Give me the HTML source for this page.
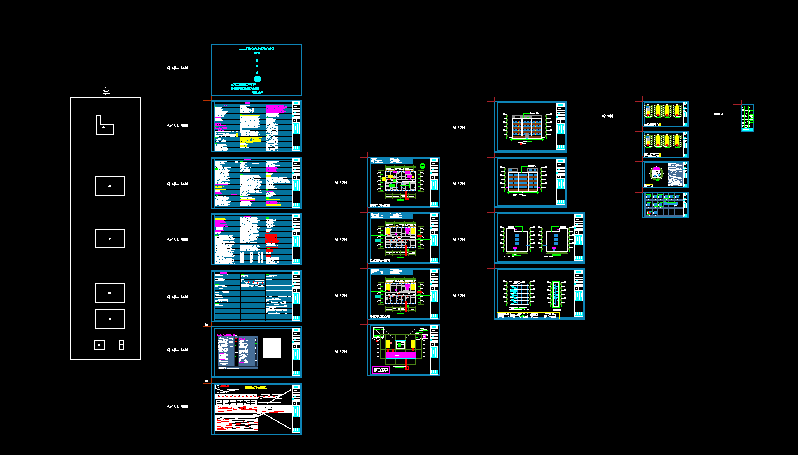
<!DOCTYPE html>
<html><head><meta charset="utf-8"><style>
html,body{margin:0;padding:0;background:#000;width:798px;height:455px;overflow:hidden}
svg{display:block}
</style></head><body>
<svg width="798" height="455" viewBox="0 0 798 455" shape-rendering="crispEdges">
<rect width="798" height="455" fill="#000"/>
<rect x="70" y="97" width="71" height="1" fill="#ffffff"/>
<rect x="70" y="359" width="71" height="1" fill="#ffffff"/>
<rect x="70" y="97" width="1" height="263" fill="#ffffff"/>
<rect x="140" y="97" width="1" height="263" fill="#ffffff"/>
<rect x="96" y="115" width="5" height="1" fill="#ffffff"/>
<rect x="96" y="115" width="1" height="20" fill="#ffffff"/>
<rect x="96" y="134" width="18" height="1" fill="#ffffff"/>
<rect x="113" y="124" width="1" height="11" fill="#ffffff"/>
<rect x="100" y="124" width="14" height="1" fill="#ffffff"/>
<rect x="100" y="115" width="1" height="10" fill="#ffffff"/>
<rect x="103" y="126" width="1" height="1" fill="#ffffff"/>
<rect x="102" y="127" width="3" height="1" fill="#ffffff"/>
<rect x="95" y="176" width="30" height="1" fill="#ffffff"/>
<rect x="95" y="195" width="30" height="1" fill="#ffffff"/>
<rect x="95" y="176" width="1" height="20" fill="#ffffff"/>
<rect x="124" y="176" width="1" height="20" fill="#ffffff"/>
<rect x="109" y="185" width="2" height="1" fill="#ffffff"/>
<rect x="108" y="186" width="3" height="1" fill="#ffffff"/>
<rect x="95" y="229" width="30" height="1" fill="#ffffff"/>
<rect x="95" y="247" width="30" height="1" fill="#ffffff"/>
<rect x="95" y="229" width="1" height="19" fill="#ffffff"/>
<rect x="124" y="229" width="1" height="19" fill="#ffffff"/>
<rect x="109" y="238" width="2" height="1" fill="#ffffff"/>
<rect x="109" y="239" width="1" height="1" fill="#ffffff"/>
<rect x="95" y="283" width="30" height="1" fill="#ffffff"/>
<rect x="95" y="302" width="30" height="1" fill="#ffffff"/>
<rect x="95" y="283" width="1" height="20" fill="#ffffff"/>
<rect x="124" y="283" width="1" height="20" fill="#ffffff"/>
<rect x="108" y="292" width="3" height="2" fill="#ffffff"/>
<rect x="95" y="309" width="30" height="1" fill="#ffffff"/>
<rect x="95" y="328" width="30" height="1" fill="#ffffff"/>
<rect x="95" y="309" width="1" height="20" fill="#ffffff"/>
<rect x="124" y="309" width="1" height="20" fill="#ffffff"/>
<rect x="109" y="318" width="2" height="2" fill="#ffffff"/>
<rect x="94" y="340" width="11" height="1" fill="#ffffff"/>
<rect x="94" y="349" width="11" height="1" fill="#ffffff"/>
<rect x="94" y="340" width="1" height="10" fill="#ffffff"/>
<rect x="104" y="340" width="1" height="10" fill="#ffffff"/>
<rect x="98" y="344" width="2" height="2" fill="#ffffff"/>
<rect x="119" y="340" width="5" height="1" fill="#ffffff"/>
<rect x="119" y="349" width="5" height="1" fill="#ffffff"/>
<rect x="119" y="340" width="1" height="10" fill="#ffffff"/>
<rect x="123" y="340" width="1" height="10" fill="#ffffff"/>
<rect x="119" y="344" width="5" height="1" fill="#ffffff"/>
<rect x="105" y="87" width="1" height="1" fill="#ffffff"/>
<rect x="103" y="90" width="2" height="1" fill="#ffffff"/>
<rect x="108" y="90" width="1" height="1" fill="#ffffff"/>
<rect x="104" y="91" width="4" height="1" fill="#ffffff"/>
<rect x="103" y="93" width="7" height="1" fill="#ffffff"/>
<rect x="105" y="94" width="1" height="1" fill="#ffffff"/>
<rect x="168" y="66" width="1" height="1" fill="#ffffff"/>
<rect x="169" y="66" width="1" height="1" fill="#ffffff"/>
<rect x="174" y="66" width="1" height="1" fill="#ffffff"/>
<rect x="175" y="66" width="1" height="1" fill="#ffffff"/>
<rect x="181" y="66" width="1" height="1" fill="#ffffff"/>
<rect x="185" y="66" width="1" height="1" fill="#ffffff"/>
<rect x="187" y="66" width="1" height="1" fill="#ffffff"/>
<rect x="167" y="67" width="1" height="1" fill="#ffffff"/>
<rect x="169" y="67" width="1" height="1" fill="#ffffff"/>
<rect x="172" y="67" width="1" height="1" fill="#ffffff"/>
<rect x="174" y="67" width="1" height="1" fill="#ffffff"/>
<rect x="175" y="67" width="1" height="1" fill="#ffffff"/>
<rect x="181" y="67" width="1" height="1" fill="#ffffff"/>
<rect x="183" y="67" width="1" height="1" fill="#ffffff"/>
<rect x="185" y="67" width="1" height="1" fill="#ffffff"/>
<rect x="186" y="67" width="1" height="1" fill="#ffffff"/>
<rect x="187" y="67" width="1" height="1" fill="#ffffff"/>
<rect x="167" y="68" width="1" height="1" fill="#ffffff"/>
<rect x="168" y="68" width="1" height="1" fill="#ffffff"/>
<rect x="169" y="68" width="1" height="1" fill="#ffffff"/>
<rect x="172" y="68" width="1" height="1" fill="#ffffff"/>
<rect x="173" y="68" width="1" height="1" fill="#ffffff"/>
<rect x="174" y="68" width="1" height="1" fill="#ffffff"/>
<rect x="175" y="68" width="1" height="1" fill="#ffffff"/>
<rect x="176" y="68" width="1" height="1" fill="#ffffff"/>
<rect x="177" y="68" width="1" height="1" fill="#ffffff"/>
<rect x="178" y="68" width="1" height="1" fill="#ffffff"/>
<rect x="181" y="68" width="1" height="1" fill="#ffffff"/>
<rect x="182" y="68" width="1" height="1" fill="#ffffff"/>
<rect x="183" y="68" width="1" height="1" fill="#ffffff"/>
<rect x="184" y="68" width="1" height="1" fill="#ffffff"/>
<rect x="185" y="68" width="1" height="1" fill="#ffffff"/>
<rect x="186" y="68" width="1" height="1" fill="#ffffff"/>
<rect x="187" y="68" width="1" height="1" fill="#ffffff"/>
<rect x="169" y="69" width="1" height="1" fill="#ffffff"/>
<rect x="174" y="69" width="1" height="1" fill="#ffffff"/>
<rect x="168" y="124" width="1" height="1" fill="#ffffff"/>
<rect x="172" y="124" width="1" height="1" fill="#ffffff"/>
<rect x="174" y="124" width="1" height="1" fill="#ffffff"/>
<rect x="177" y="124" width="1" height="1" fill="#ffffff"/>
<rect x="181" y="124" width="1" height="1" fill="#ffffff"/>
<rect x="182" y="124" width="1" height="1" fill="#ffffff"/>
<rect x="183" y="124" width="1" height="1" fill="#ffffff"/>
<rect x="184" y="124" width="1" height="1" fill="#ffffff"/>
<rect x="185" y="124" width="1" height="1" fill="#ffffff"/>
<rect x="186" y="124" width="1" height="1" fill="#ffffff"/>
<rect x="187" y="124" width="1" height="1" fill="#ffffff"/>
<rect x="167" y="125" width="1" height="1" fill="#ffffff"/>
<rect x="168" y="125" width="1" height="1" fill="#ffffff"/>
<rect x="170" y="125" width="1" height="1" fill="#ffffff"/>
<rect x="171" y="125" width="1" height="1" fill="#ffffff"/>
<rect x="174" y="125" width="1" height="1" fill="#ffffff"/>
<rect x="177" y="125" width="1" height="1" fill="#ffffff"/>
<rect x="181" y="125" width="1" height="1" fill="#ffffff"/>
<rect x="182" y="125" width="1" height="1" fill="#ffffff"/>
<rect x="183" y="125" width="1" height="1" fill="#ffffff"/>
<rect x="184" y="125" width="1" height="1" fill="#ffffff"/>
<rect x="185" y="125" width="1" height="1" fill="#ffffff"/>
<rect x="186" y="125" width="1" height="1" fill="#ffffff"/>
<rect x="187" y="125" width="1" height="1" fill="#ffffff"/>
<rect x="169" y="126" width="1" height="1" fill="#ffffff"/>
<rect x="170" y="126" width="1" height="1" fill="#ffffff"/>
<rect x="175" y="126" width="1" height="1" fill="#ffffff"/>
<rect x="177" y="126" width="1" height="1" fill="#ffffff"/>
<rect x="178" y="126" width="1" height="1" fill="#ffffff"/>
<rect x="182" y="126" width="1" height="1" fill="#ffffff"/>
<rect x="183" y="126" width="1" height="1" fill="#ffffff"/>
<rect x="184" y="126" width="1" height="1" fill="#ffffff"/>
<rect x="185" y="126" width="1" height="1" fill="#ffffff"/>
<rect x="186" y="126" width="1" height="1" fill="#ffffff"/>
<rect x="187" y="126" width="1" height="1" fill="#ffffff"/>
<rect x="168" y="182" width="1" height="1" fill="#ffffff"/>
<rect x="169" y="182" width="1" height="1" fill="#ffffff"/>
<rect x="174" y="182" width="1" height="1" fill="#ffffff"/>
<rect x="175" y="182" width="1" height="1" fill="#ffffff"/>
<rect x="181" y="182" width="1" height="1" fill="#ffffff"/>
<rect x="185" y="182" width="1" height="1" fill="#ffffff"/>
<rect x="187" y="182" width="1" height="1" fill="#ffffff"/>
<rect x="167" y="183" width="1" height="1" fill="#ffffff"/>
<rect x="169" y="183" width="1" height="1" fill="#ffffff"/>
<rect x="172" y="183" width="1" height="1" fill="#ffffff"/>
<rect x="174" y="183" width="1" height="1" fill="#ffffff"/>
<rect x="175" y="183" width="1" height="1" fill="#ffffff"/>
<rect x="181" y="183" width="1" height="1" fill="#ffffff"/>
<rect x="183" y="183" width="1" height="1" fill="#ffffff"/>
<rect x="185" y="183" width="1" height="1" fill="#ffffff"/>
<rect x="186" y="183" width="1" height="1" fill="#ffffff"/>
<rect x="187" y="183" width="1" height="1" fill="#ffffff"/>
<rect x="167" y="184" width="1" height="1" fill="#ffffff"/>
<rect x="168" y="184" width="1" height="1" fill="#ffffff"/>
<rect x="169" y="184" width="1" height="1" fill="#ffffff"/>
<rect x="172" y="184" width="1" height="1" fill="#ffffff"/>
<rect x="173" y="184" width="1" height="1" fill="#ffffff"/>
<rect x="174" y="184" width="1" height="1" fill="#ffffff"/>
<rect x="175" y="184" width="1" height="1" fill="#ffffff"/>
<rect x="176" y="184" width="1" height="1" fill="#ffffff"/>
<rect x="177" y="184" width="1" height="1" fill="#ffffff"/>
<rect x="178" y="184" width="1" height="1" fill="#ffffff"/>
<rect x="181" y="184" width="1" height="1" fill="#ffffff"/>
<rect x="182" y="184" width="1" height="1" fill="#ffffff"/>
<rect x="183" y="184" width="1" height="1" fill="#ffffff"/>
<rect x="184" y="184" width="1" height="1" fill="#ffffff"/>
<rect x="185" y="184" width="1" height="1" fill="#ffffff"/>
<rect x="186" y="184" width="1" height="1" fill="#ffffff"/>
<rect x="187" y="184" width="1" height="1" fill="#ffffff"/>
<rect x="169" y="185" width="1" height="1" fill="#ffffff"/>
<rect x="174" y="185" width="1" height="1" fill="#ffffff"/>
<rect x="168" y="238" width="1" height="1" fill="#ffffff"/>
<rect x="172" y="238" width="1" height="1" fill="#ffffff"/>
<rect x="174" y="238" width="1" height="1" fill="#ffffff"/>
<rect x="177" y="238" width="1" height="1" fill="#ffffff"/>
<rect x="181" y="238" width="1" height="1" fill="#ffffff"/>
<rect x="182" y="238" width="1" height="1" fill="#ffffff"/>
<rect x="183" y="238" width="1" height="1" fill="#ffffff"/>
<rect x="184" y="238" width="1" height="1" fill="#ffffff"/>
<rect x="185" y="238" width="1" height="1" fill="#ffffff"/>
<rect x="186" y="238" width="1" height="1" fill="#ffffff"/>
<rect x="187" y="238" width="1" height="1" fill="#ffffff"/>
<rect x="167" y="239" width="1" height="1" fill="#ffffff"/>
<rect x="168" y="239" width="1" height="1" fill="#ffffff"/>
<rect x="170" y="239" width="1" height="1" fill="#ffffff"/>
<rect x="171" y="239" width="1" height="1" fill="#ffffff"/>
<rect x="174" y="239" width="1" height="1" fill="#ffffff"/>
<rect x="177" y="239" width="1" height="1" fill="#ffffff"/>
<rect x="181" y="239" width="1" height="1" fill="#ffffff"/>
<rect x="182" y="239" width="1" height="1" fill="#ffffff"/>
<rect x="183" y="239" width="1" height="1" fill="#ffffff"/>
<rect x="184" y="239" width="1" height="1" fill="#ffffff"/>
<rect x="185" y="239" width="1" height="1" fill="#ffffff"/>
<rect x="186" y="239" width="1" height="1" fill="#ffffff"/>
<rect x="187" y="239" width="1" height="1" fill="#ffffff"/>
<rect x="169" y="240" width="1" height="1" fill="#ffffff"/>
<rect x="170" y="240" width="1" height="1" fill="#ffffff"/>
<rect x="175" y="240" width="1" height="1" fill="#ffffff"/>
<rect x="177" y="240" width="1" height="1" fill="#ffffff"/>
<rect x="178" y="240" width="1" height="1" fill="#ffffff"/>
<rect x="182" y="240" width="1" height="1" fill="#ffffff"/>
<rect x="183" y="240" width="1" height="1" fill="#ffffff"/>
<rect x="184" y="240" width="1" height="1" fill="#ffffff"/>
<rect x="185" y="240" width="1" height="1" fill="#ffffff"/>
<rect x="186" y="240" width="1" height="1" fill="#ffffff"/>
<rect x="187" y="240" width="1" height="1" fill="#ffffff"/>
<rect x="168" y="295" width="1" height="1" fill="#ffffff"/>
<rect x="169" y="295" width="1" height="1" fill="#ffffff"/>
<rect x="174" y="295" width="1" height="1" fill="#ffffff"/>
<rect x="175" y="295" width="1" height="1" fill="#ffffff"/>
<rect x="181" y="295" width="1" height="1" fill="#ffffff"/>
<rect x="185" y="295" width="1" height="1" fill="#ffffff"/>
<rect x="187" y="295" width="1" height="1" fill="#ffffff"/>
<rect x="167" y="296" width="1" height="1" fill="#ffffff"/>
<rect x="169" y="296" width="1" height="1" fill="#ffffff"/>
<rect x="172" y="296" width="1" height="1" fill="#ffffff"/>
<rect x="174" y="296" width="1" height="1" fill="#ffffff"/>
<rect x="175" y="296" width="1" height="1" fill="#ffffff"/>
<rect x="181" y="296" width="1" height="1" fill="#ffffff"/>
<rect x="183" y="296" width="1" height="1" fill="#ffffff"/>
<rect x="185" y="296" width="1" height="1" fill="#ffffff"/>
<rect x="186" y="296" width="1" height="1" fill="#ffffff"/>
<rect x="187" y="296" width="1" height="1" fill="#ffffff"/>
<rect x="167" y="297" width="1" height="1" fill="#ffffff"/>
<rect x="168" y="297" width="1" height="1" fill="#ffffff"/>
<rect x="169" y="297" width="1" height="1" fill="#ffffff"/>
<rect x="172" y="297" width="1" height="1" fill="#ffffff"/>
<rect x="173" y="297" width="1" height="1" fill="#ffffff"/>
<rect x="174" y="297" width="1" height="1" fill="#ffffff"/>
<rect x="175" y="297" width="1" height="1" fill="#ffffff"/>
<rect x="176" y="297" width="1" height="1" fill="#ffffff"/>
<rect x="177" y="297" width="1" height="1" fill="#ffffff"/>
<rect x="178" y="297" width="1" height="1" fill="#ffffff"/>
<rect x="181" y="297" width="1" height="1" fill="#ffffff"/>
<rect x="182" y="297" width="1" height="1" fill="#ffffff"/>
<rect x="183" y="297" width="1" height="1" fill="#ffffff"/>
<rect x="184" y="297" width="1" height="1" fill="#ffffff"/>
<rect x="185" y="297" width="1" height="1" fill="#ffffff"/>
<rect x="186" y="297" width="1" height="1" fill="#ffffff"/>
<rect x="187" y="297" width="1" height="1" fill="#ffffff"/>
<rect x="169" y="298" width="1" height="1" fill="#ffffff"/>
<rect x="174" y="298" width="1" height="1" fill="#ffffff"/>
<rect x="168" y="348" width="1" height="1" fill="#ffffff"/>
<rect x="169" y="348" width="1" height="1" fill="#ffffff"/>
<rect x="174" y="348" width="1" height="1" fill="#ffffff"/>
<rect x="175" y="348" width="1" height="1" fill="#ffffff"/>
<rect x="181" y="348" width="1" height="1" fill="#ffffff"/>
<rect x="185" y="348" width="1" height="1" fill="#ffffff"/>
<rect x="187" y="348" width="1" height="1" fill="#ffffff"/>
<rect x="167" y="349" width="1" height="1" fill="#ffffff"/>
<rect x="169" y="349" width="1" height="1" fill="#ffffff"/>
<rect x="172" y="349" width="1" height="1" fill="#ffffff"/>
<rect x="174" y="349" width="1" height="1" fill="#ffffff"/>
<rect x="175" y="349" width="1" height="1" fill="#ffffff"/>
<rect x="181" y="349" width="1" height="1" fill="#ffffff"/>
<rect x="183" y="349" width="1" height="1" fill="#ffffff"/>
<rect x="185" y="349" width="1" height="1" fill="#ffffff"/>
<rect x="186" y="349" width="1" height="1" fill="#ffffff"/>
<rect x="187" y="349" width="1" height="1" fill="#ffffff"/>
<rect x="167" y="350" width="1" height="1" fill="#ffffff"/>
<rect x="168" y="350" width="1" height="1" fill="#ffffff"/>
<rect x="169" y="350" width="1" height="1" fill="#ffffff"/>
<rect x="172" y="350" width="1" height="1" fill="#ffffff"/>
<rect x="173" y="350" width="1" height="1" fill="#ffffff"/>
<rect x="174" y="350" width="1" height="1" fill="#ffffff"/>
<rect x="175" y="350" width="1" height="1" fill="#ffffff"/>
<rect x="176" y="350" width="1" height="1" fill="#ffffff"/>
<rect x="177" y="350" width="1" height="1" fill="#ffffff"/>
<rect x="178" y="350" width="1" height="1" fill="#ffffff"/>
<rect x="181" y="350" width="1" height="1" fill="#ffffff"/>
<rect x="182" y="350" width="1" height="1" fill="#ffffff"/>
<rect x="183" y="350" width="1" height="1" fill="#ffffff"/>
<rect x="184" y="350" width="1" height="1" fill="#ffffff"/>
<rect x="185" y="350" width="1" height="1" fill="#ffffff"/>
<rect x="186" y="350" width="1" height="1" fill="#ffffff"/>
<rect x="187" y="350" width="1" height="1" fill="#ffffff"/>
<rect x="169" y="351" width="1" height="1" fill="#ffffff"/>
<rect x="174" y="351" width="1" height="1" fill="#ffffff"/>
<rect x="168" y="405" width="1" height="1" fill="#ffffff"/>
<rect x="172" y="405" width="1" height="1" fill="#ffffff"/>
<rect x="174" y="405" width="1" height="1" fill="#ffffff"/>
<rect x="177" y="405" width="1" height="1" fill="#ffffff"/>
<rect x="181" y="405" width="1" height="1" fill="#ffffff"/>
<rect x="182" y="405" width="1" height="1" fill="#ffffff"/>
<rect x="183" y="405" width="1" height="1" fill="#ffffff"/>
<rect x="184" y="405" width="1" height="1" fill="#ffffff"/>
<rect x="185" y="405" width="1" height="1" fill="#ffffff"/>
<rect x="186" y="405" width="1" height="1" fill="#ffffff"/>
<rect x="187" y="405" width="1" height="1" fill="#ffffff"/>
<rect x="167" y="406" width="1" height="1" fill="#ffffff"/>
<rect x="168" y="406" width="1" height="1" fill="#ffffff"/>
<rect x="170" y="406" width="1" height="1" fill="#ffffff"/>
<rect x="171" y="406" width="1" height="1" fill="#ffffff"/>
<rect x="174" y="406" width="1" height="1" fill="#ffffff"/>
<rect x="177" y="406" width="1" height="1" fill="#ffffff"/>
<rect x="181" y="406" width="1" height="1" fill="#ffffff"/>
<rect x="182" y="406" width="1" height="1" fill="#ffffff"/>
<rect x="183" y="406" width="1" height="1" fill="#ffffff"/>
<rect x="184" y="406" width="1" height="1" fill="#ffffff"/>
<rect x="185" y="406" width="1" height="1" fill="#ffffff"/>
<rect x="186" y="406" width="1" height="1" fill="#ffffff"/>
<rect x="187" y="406" width="1" height="1" fill="#ffffff"/>
<rect x="169" y="407" width="1" height="1" fill="#ffffff"/>
<rect x="170" y="407" width="1" height="1" fill="#ffffff"/>
<rect x="175" y="407" width="1" height="1" fill="#ffffff"/>
<rect x="177" y="407" width="1" height="1" fill="#ffffff"/>
<rect x="178" y="407" width="1" height="1" fill="#ffffff"/>
<rect x="182" y="407" width="1" height="1" fill="#ffffff"/>
<rect x="183" y="407" width="1" height="1" fill="#ffffff"/>
<rect x="184" y="407" width="1" height="1" fill="#ffffff"/>
<rect x="185" y="407" width="1" height="1" fill="#ffffff"/>
<rect x="186" y="407" width="1" height="1" fill="#ffffff"/>
<rect x="187" y="407" width="1" height="1" fill="#ffffff"/>
<rect x="335" y="181" width="1" height="1" fill="#ffffff"/>
<rect x="337" y="181" width="1" height="1" fill="#ffffff"/>
<rect x="340" y="181" width="1" height="1" fill="#ffffff"/>
<rect x="342" y="181" width="1" height="1" fill="#ffffff"/>
<rect x="343" y="181" width="1" height="1" fill="#ffffff"/>
<rect x="344" y="181" width="1" height="1" fill="#ffffff"/>
<rect x="346" y="181" width="1" height="1" fill="#ffffff"/>
<rect x="335" y="182" width="1" height="1" fill="#ffffff"/>
<rect x="336" y="182" width="1" height="1" fill="#ffffff"/>
<rect x="337" y="182" width="1" height="1" fill="#ffffff"/>
<rect x="340" y="182" width="1" height="1" fill="#ffffff"/>
<rect x="343" y="182" width="1" height="1" fill="#ffffff"/>
<rect x="344" y="182" width="1" height="1" fill="#ffffff"/>
<rect x="345" y="182" width="1" height="1" fill="#ffffff"/>
<rect x="346" y="182" width="1" height="1" fill="#ffffff"/>
<rect x="336" y="183" width="1" height="1" fill="#ffffff"/>
<rect x="337" y="183" width="1" height="1" fill="#ffffff"/>
<rect x="342" y="183" width="1" height="1" fill="#ffffff"/>
<rect x="344" y="183" width="1" height="1" fill="#ffffff"/>
<rect x="346" y="183" width="1" height="1" fill="#ffffff"/>
<rect x="335" y="238" width="1" height="1" fill="#ffffff"/>
<rect x="337" y="238" width="1" height="1" fill="#ffffff"/>
<rect x="340" y="238" width="1" height="1" fill="#ffffff"/>
<rect x="342" y="238" width="1" height="1" fill="#ffffff"/>
<rect x="343" y="238" width="1" height="1" fill="#ffffff"/>
<rect x="344" y="238" width="1" height="1" fill="#ffffff"/>
<rect x="346" y="238" width="1" height="1" fill="#ffffff"/>
<rect x="335" y="239" width="1" height="1" fill="#ffffff"/>
<rect x="336" y="239" width="1" height="1" fill="#ffffff"/>
<rect x="337" y="239" width="1" height="1" fill="#ffffff"/>
<rect x="340" y="239" width="1" height="1" fill="#ffffff"/>
<rect x="343" y="239" width="1" height="1" fill="#ffffff"/>
<rect x="344" y="239" width="1" height="1" fill="#ffffff"/>
<rect x="345" y="239" width="1" height="1" fill="#ffffff"/>
<rect x="346" y="239" width="1" height="1" fill="#ffffff"/>
<rect x="336" y="240" width="1" height="1" fill="#ffffff"/>
<rect x="337" y="240" width="1" height="1" fill="#ffffff"/>
<rect x="342" y="240" width="1" height="1" fill="#ffffff"/>
<rect x="344" y="240" width="1" height="1" fill="#ffffff"/>
<rect x="346" y="240" width="1" height="1" fill="#ffffff"/>
<rect x="335" y="294" width="1" height="1" fill="#ffffff"/>
<rect x="337" y="294" width="1" height="1" fill="#ffffff"/>
<rect x="340" y="294" width="1" height="1" fill="#ffffff"/>
<rect x="342" y="294" width="1" height="1" fill="#ffffff"/>
<rect x="343" y="294" width="1" height="1" fill="#ffffff"/>
<rect x="344" y="294" width="1" height="1" fill="#ffffff"/>
<rect x="346" y="294" width="1" height="1" fill="#ffffff"/>
<rect x="335" y="295" width="1" height="1" fill="#ffffff"/>
<rect x="336" y="295" width="1" height="1" fill="#ffffff"/>
<rect x="337" y="295" width="1" height="1" fill="#ffffff"/>
<rect x="340" y="295" width="1" height="1" fill="#ffffff"/>
<rect x="343" y="295" width="1" height="1" fill="#ffffff"/>
<rect x="344" y="295" width="1" height="1" fill="#ffffff"/>
<rect x="345" y="295" width="1" height="1" fill="#ffffff"/>
<rect x="346" y="295" width="1" height="1" fill="#ffffff"/>
<rect x="336" y="296" width="1" height="1" fill="#ffffff"/>
<rect x="337" y="296" width="1" height="1" fill="#ffffff"/>
<rect x="342" y="296" width="1" height="1" fill="#ffffff"/>
<rect x="344" y="296" width="1" height="1" fill="#ffffff"/>
<rect x="346" y="296" width="1" height="1" fill="#ffffff"/>
<rect x="335" y="350" width="1" height="1" fill="#ffffff"/>
<rect x="337" y="350" width="1" height="1" fill="#ffffff"/>
<rect x="340" y="350" width="1" height="1" fill="#ffffff"/>
<rect x="342" y="350" width="1" height="1" fill="#ffffff"/>
<rect x="343" y="350" width="1" height="1" fill="#ffffff"/>
<rect x="344" y="350" width="1" height="1" fill="#ffffff"/>
<rect x="346" y="350" width="1" height="1" fill="#ffffff"/>
<rect x="335" y="351" width="1" height="1" fill="#ffffff"/>
<rect x="336" y="351" width="1" height="1" fill="#ffffff"/>
<rect x="337" y="351" width="1" height="1" fill="#ffffff"/>
<rect x="340" y="351" width="1" height="1" fill="#ffffff"/>
<rect x="343" y="351" width="1" height="1" fill="#ffffff"/>
<rect x="344" y="351" width="1" height="1" fill="#ffffff"/>
<rect x="345" y="351" width="1" height="1" fill="#ffffff"/>
<rect x="346" y="351" width="1" height="1" fill="#ffffff"/>
<rect x="336" y="352" width="1" height="1" fill="#ffffff"/>
<rect x="337" y="352" width="1" height="1" fill="#ffffff"/>
<rect x="342" y="352" width="1" height="1" fill="#ffffff"/>
<rect x="344" y="352" width="1" height="1" fill="#ffffff"/>
<rect x="346" y="352" width="1" height="1" fill="#ffffff"/>
<rect x="453" y="126" width="1" height="1" fill="#ffffff"/>
<rect x="455" y="126" width="1" height="1" fill="#ffffff"/>
<rect x="458" y="126" width="1" height="1" fill="#ffffff"/>
<rect x="460" y="126" width="1" height="1" fill="#ffffff"/>
<rect x="461" y="126" width="1" height="1" fill="#ffffff"/>
<rect x="462" y="126" width="1" height="1" fill="#ffffff"/>
<rect x="464" y="126" width="1" height="1" fill="#ffffff"/>
<rect x="453" y="127" width="1" height="1" fill="#ffffff"/>
<rect x="454" y="127" width="1" height="1" fill="#ffffff"/>
<rect x="455" y="127" width="1" height="1" fill="#ffffff"/>
<rect x="458" y="127" width="1" height="1" fill="#ffffff"/>
<rect x="461" y="127" width="1" height="1" fill="#ffffff"/>
<rect x="462" y="127" width="1" height="1" fill="#ffffff"/>
<rect x="463" y="127" width="1" height="1" fill="#ffffff"/>
<rect x="464" y="127" width="1" height="1" fill="#ffffff"/>
<rect x="454" y="128" width="1" height="1" fill="#ffffff"/>
<rect x="455" y="128" width="1" height="1" fill="#ffffff"/>
<rect x="460" y="128" width="1" height="1" fill="#ffffff"/>
<rect x="462" y="128" width="1" height="1" fill="#ffffff"/>
<rect x="464" y="128" width="1" height="1" fill="#ffffff"/>
<rect x="453" y="182" width="1" height="1" fill="#ffffff"/>
<rect x="455" y="182" width="1" height="1" fill="#ffffff"/>
<rect x="458" y="182" width="1" height="1" fill="#ffffff"/>
<rect x="460" y="182" width="1" height="1" fill="#ffffff"/>
<rect x="461" y="182" width="1" height="1" fill="#ffffff"/>
<rect x="462" y="182" width="1" height="1" fill="#ffffff"/>
<rect x="464" y="182" width="1" height="1" fill="#ffffff"/>
<rect x="453" y="183" width="1" height="1" fill="#ffffff"/>
<rect x="454" y="183" width="1" height="1" fill="#ffffff"/>
<rect x="455" y="183" width="1" height="1" fill="#ffffff"/>
<rect x="458" y="183" width="1" height="1" fill="#ffffff"/>
<rect x="461" y="183" width="1" height="1" fill="#ffffff"/>
<rect x="462" y="183" width="1" height="1" fill="#ffffff"/>
<rect x="463" y="183" width="1" height="1" fill="#ffffff"/>
<rect x="464" y="183" width="1" height="1" fill="#ffffff"/>
<rect x="454" y="184" width="1" height="1" fill="#ffffff"/>
<rect x="455" y="184" width="1" height="1" fill="#ffffff"/>
<rect x="460" y="184" width="1" height="1" fill="#ffffff"/>
<rect x="462" y="184" width="1" height="1" fill="#ffffff"/>
<rect x="464" y="184" width="1" height="1" fill="#ffffff"/>
<rect x="453" y="238" width="1" height="1" fill="#ffffff"/>
<rect x="455" y="238" width="1" height="1" fill="#ffffff"/>
<rect x="458" y="238" width="1" height="1" fill="#ffffff"/>
<rect x="460" y="238" width="1" height="1" fill="#ffffff"/>
<rect x="461" y="238" width="1" height="1" fill="#ffffff"/>
<rect x="462" y="238" width="1" height="1" fill="#ffffff"/>
<rect x="464" y="238" width="1" height="1" fill="#ffffff"/>
<rect x="453" y="239" width="1" height="1" fill="#ffffff"/>
<rect x="454" y="239" width="1" height="1" fill="#ffffff"/>
<rect x="455" y="239" width="1" height="1" fill="#ffffff"/>
<rect x="458" y="239" width="1" height="1" fill="#ffffff"/>
<rect x="461" y="239" width="1" height="1" fill="#ffffff"/>
<rect x="462" y="239" width="1" height="1" fill="#ffffff"/>
<rect x="463" y="239" width="1" height="1" fill="#ffffff"/>
<rect x="464" y="239" width="1" height="1" fill="#ffffff"/>
<rect x="454" y="240" width="1" height="1" fill="#ffffff"/>
<rect x="455" y="240" width="1" height="1" fill="#ffffff"/>
<rect x="460" y="240" width="1" height="1" fill="#ffffff"/>
<rect x="462" y="240" width="1" height="1" fill="#ffffff"/>
<rect x="464" y="240" width="1" height="1" fill="#ffffff"/>
<rect x="453" y="294" width="1" height="1" fill="#ffffff"/>
<rect x="455" y="294" width="1" height="1" fill="#ffffff"/>
<rect x="458" y="294" width="1" height="1" fill="#ffffff"/>
<rect x="460" y="294" width="1" height="1" fill="#ffffff"/>
<rect x="461" y="294" width="1" height="1" fill="#ffffff"/>
<rect x="462" y="294" width="1" height="1" fill="#ffffff"/>
<rect x="464" y="294" width="1" height="1" fill="#ffffff"/>
<rect x="453" y="295" width="1" height="1" fill="#ffffff"/>
<rect x="454" y="295" width="1" height="1" fill="#ffffff"/>
<rect x="455" y="295" width="1" height="1" fill="#ffffff"/>
<rect x="458" y="295" width="1" height="1" fill="#ffffff"/>
<rect x="461" y="295" width="1" height="1" fill="#ffffff"/>
<rect x="462" y="295" width="1" height="1" fill="#ffffff"/>
<rect x="463" y="295" width="1" height="1" fill="#ffffff"/>
<rect x="464" y="295" width="1" height="1" fill="#ffffff"/>
<rect x="454" y="296" width="1" height="1" fill="#ffffff"/>
<rect x="455" y="296" width="1" height="1" fill="#ffffff"/>
<rect x="460" y="296" width="1" height="1" fill="#ffffff"/>
<rect x="462" y="296" width="1" height="1" fill="#ffffff"/>
<rect x="464" y="296" width="1" height="1" fill="#ffffff"/>
<rect x="604" y="114" width="1" height="1" fill="#ffffff"/>
<rect x="610" y="114" width="1" height="1" fill="#ffffff"/>
<rect x="612" y="114" width="1" height="1" fill="#ffffff"/>
<rect x="602" y="115" width="1" height="1" fill="#ffffff"/>
<rect x="603" y="115" width="1" height="1" fill="#ffffff"/>
<rect x="605" y="115" width="1" height="1" fill="#ffffff"/>
<rect x="607" y="115" width="1" height="1" fill="#ffffff"/>
<rect x="608" y="115" width="1" height="1" fill="#ffffff"/>
<rect x="609" y="115" width="1" height="1" fill="#ffffff"/>
<rect x="610" y="115" width="1" height="1" fill="#ffffff"/>
<rect x="611" y="115" width="1" height="1" fill="#ffffff"/>
<rect x="612" y="115" width="1" height="1" fill="#ffffff"/>
<rect x="602" y="116" width="1" height="1" fill="#ffffff"/>
<rect x="603" y="116" width="1" height="1" fill="#ffffff"/>
<rect x="604" y="116" width="1" height="1" fill="#ffffff"/>
<rect x="608" y="116" width="1" height="1" fill="#ffffff"/>
<rect x="609" y="116" width="1" height="1" fill="#ffffff"/>
<rect x="610" y="116" width="1" height="1" fill="#ffffff"/>
<rect x="611" y="116" width="1" height="1" fill="#ffffff"/>
<rect x="612" y="116" width="1" height="1" fill="#ffffff"/>
<rect x="604" y="117" width="1" height="1" fill="#ffffff"/>
<rect x="610" y="117" width="1" height="1" fill="#ffffff"/>
<rect x="612" y="117" width="1" height="1" fill="#ffffff"/>
<rect x="714" y="113" width="6" height="2" fill="#ffffff"/>
<rect x="722" y="113" width="1" height="2" fill="#ffffff"/>
<rect x="721" y="114" width="1" height="1" fill="#ffffff"/>
<rect x="203" y="100" width="9" height="1" fill="#b83200"/>
<rect x="211" y="95" width="1" height="6" fill="#b83200"/>
<rect x="203" y="326" width="9" height="1" fill="#b83200"/>
<rect x="211" y="322" width="1" height="5" fill="#b83200"/>
<rect x="205" y="323" width="1" height="3" fill="#ffffff"/>
<rect x="206" y="324" width="2" height="2" fill="#ffffff"/>
<rect x="203" y="383" width="9" height="1" fill="#b83200"/>
<rect x="211" y="378" width="1" height="6" fill="#b83200"/>
<rect x="205" y="380" width="3" height="2" fill="#ffffff"/>
<rect x="211" y="44" width="91" height="1" fill="#0e84b6"/>
<rect x="211" y="95" width="91" height="1" fill="#0e84b6"/>
<rect x="211" y="44" width="1" height="52" fill="#0e84b6"/>
<rect x="301" y="44" width="1" height="52" fill="#0e84b6"/>
<rect x="239" y="49" width="8" height="1" fill="#00ffff"/>
<rect x="246" y="49" width="1" height="1" fill="#00ffff"/>
<rect x="246" y="48" width="1" height="1" fill="#00ffff"/>
<rect x="246" y="47" width="1" height="1" fill="#00ffff"/>
<rect x="247" y="47" width="3" height="1" fill="#00ffff"/>
<rect x="262" y="47" width="3" height="1" fill="#00ffff"/>
<rect x="272" y="47" width="2" height="1" fill="#00ffff"/>
<rect x="248" y="49" width="1" height="1" fill="#00ffff"/>
<rect x="248" y="48" width="1" height="1" fill="#00ffff"/>
<rect x="249" y="49" width="1" height="1" fill="#00ffff"/>
<rect x="249" y="48" width="1" height="1" fill="#00ffff"/>
<rect x="249" y="47" width="1" height="1" fill="#00ffff"/>
<rect x="247" y="47" width="3" height="1" fill="#00ffff"/>
<rect x="262" y="47" width="3" height="1" fill="#00ffff"/>
<rect x="272" y="47" width="2" height="1" fill="#00ffff"/>
<rect x="250" y="49" width="1" height="1" fill="#00ffff"/>
<rect x="250" y="48" width="1" height="1" fill="#00ffff"/>
<rect x="251" y="48" width="1" height="1" fill="#00ffff"/>
<rect x="252" y="49" width="1" height="1" fill="#00ffff"/>
<rect x="252" y="47" width="1" height="1" fill="#00ffff"/>
<rect x="247" y="47" width="3" height="1" fill="#00ffff"/>
<rect x="262" y="47" width="3" height="1" fill="#00ffff"/>
<rect x="272" y="47" width="2" height="1" fill="#00ffff"/>
<rect x="253" y="49" width="1" height="1" fill="#00ffff"/>
<rect x="253" y="48" width="1" height="1" fill="#00ffff"/>
<rect x="254" y="49" width="1" height="1" fill="#00ffff"/>
<rect x="254" y="48" width="1" height="1" fill="#00ffff"/>
<rect x="255" y="48" width="1" height="1" fill="#00ffff"/>
<rect x="255" y="47" width="1" height="1" fill="#00ffff"/>
<rect x="247" y="47" width="3" height="1" fill="#00ffff"/>
<rect x="262" y="47" width="3" height="1" fill="#00ffff"/>
<rect x="272" y="47" width="2" height="1" fill="#00ffff"/>
<rect x="256" y="49" width="1" height="1" fill="#00ffff"/>
<rect x="256" y="48" width="1" height="1" fill="#00ffff"/>
<rect x="257" y="49" width="1" height="1" fill="#00ffff"/>
<rect x="258" y="49" width="1" height="1" fill="#00ffff"/>
<rect x="258" y="48" width="1" height="1" fill="#00ffff"/>
<rect x="258" y="47" width="1" height="1" fill="#00ffff"/>
<rect x="247" y="47" width="3" height="1" fill="#00ffff"/>
<rect x="262" y="47" width="3" height="1" fill="#00ffff"/>
<rect x="272" y="47" width="2" height="1" fill="#00ffff"/>
<rect x="259" y="48" width="1" height="1" fill="#00ffff"/>
<rect x="260" y="49" width="1" height="1" fill="#00ffff"/>
<rect x="260" y="48" width="1" height="1" fill="#00ffff"/>
<rect x="261" y="49" width="1" height="1" fill="#00ffff"/>
<rect x="261" y="48" width="1" height="1" fill="#00ffff"/>
<rect x="261" y="47" width="1" height="1" fill="#00ffff"/>
<rect x="247" y="47" width="3" height="1" fill="#00ffff"/>
<rect x="262" y="47" width="3" height="1" fill="#00ffff"/>
<rect x="272" y="47" width="2" height="1" fill="#00ffff"/>
<rect x="262" y="49" width="1" height="1" fill="#00ffff"/>
<rect x="263" y="48" width="1" height="1" fill="#00ffff"/>
<rect x="264" y="49" width="1" height="1" fill="#00ffff"/>
<rect x="264" y="48" width="1" height="1" fill="#00ffff"/>
<rect x="264" y="47" width="1" height="1" fill="#00ffff"/>
<rect x="247" y="47" width="3" height="1" fill="#00ffff"/>
<rect x="262" y="47" width="3" height="1" fill="#00ffff"/>
<rect x="272" y="47" width="2" height="1" fill="#00ffff"/>
<rect x="265" y="49" width="1" height="1" fill="#00ffff"/>
<rect x="265" y="48" width="1" height="1" fill="#00ffff"/>
<rect x="266" y="49" width="1" height="1" fill="#00ffff"/>
<rect x="266" y="48" width="1" height="1" fill="#00ffff"/>
<rect x="267" y="47" width="1" height="1" fill="#00ffff"/>
<rect x="247" y="47" width="3" height="1" fill="#00ffff"/>
<rect x="262" y="47" width="3" height="1" fill="#00ffff"/>
<rect x="272" y="47" width="2" height="1" fill="#00ffff"/>
<rect x="268" y="49" width="1" height="1" fill="#00ffff"/>
<rect x="268" y="48" width="1" height="1" fill="#00ffff"/>
<rect x="269" y="49" width="1" height="1" fill="#00ffff"/>
<rect x="269" y="48" width="1" height="1" fill="#00ffff"/>
<rect x="270" y="49" width="1" height="1" fill="#00ffff"/>
<rect x="270" y="48" width="1" height="1" fill="#00ffff"/>
<rect x="270" y="47" width="1" height="1" fill="#00ffff"/>
<rect x="247" y="47" width="3" height="1" fill="#00ffff"/>
<rect x="262" y="47" width="3" height="1" fill="#00ffff"/>
<rect x="272" y="47" width="2" height="1" fill="#00ffff"/>
<rect x="271" y="48" width="1" height="1" fill="#00ffff"/>
<rect x="272" y="49" width="1" height="1" fill="#00ffff"/>
<rect x="273" y="49" width="1" height="1" fill="#00ffff"/>
<rect x="273" y="48" width="1" height="1" fill="#00ffff"/>
<rect x="273" y="47" width="1" height="1" fill="#00ffff"/>
<rect x="247" y="47" width="3" height="1" fill="#00ffff"/>
<rect x="262" y="47" width="3" height="1" fill="#00ffff"/>
<rect x="272" y="47" width="2" height="1" fill="#00ffff"/>
<rect x="254" y="52" width="6" height="1" fill="#00ffff"/>
<rect x="254" y="53" width="3" height="1" fill="#00ffff"/>
<rect x="258" y="53" width="2" height="1" fill="#00ffff"/>
<rect x="256" y="59" width="2" height="3" fill="#00ffff"/>
<rect x="256" y="65" width="2" height="2" fill="#00ffff"/>
<rect x="257" y="71" width="1" height="1" fill="#00ffff"/>
<rect x="256" y="72" width="2" height="2" fill="#00ffff"/>
<rect x="255" y="76" width="5" height="6" fill="#00ffff"/>
<rect x="254" y="77" width="7" height="4" fill="#00ffff"/>
<rect x="233" y="83" width="23" height="1" fill="#00ffff"/>
<rect x="231" y="84" width="2" height="1" fill="#00ffff"/>
<rect x="234" y="84" width="2" height="1" fill="#00ffff"/>
<rect x="239" y="84" width="7" height="1" fill="#00ffff"/>
<rect x="248" y="84" width="4" height="1" fill="#00ffff"/>
<rect x="253" y="84" width="3" height="1" fill="#00ffff"/>
<rect x="231" y="85" width="3" height="1" fill="#00ffff"/>
<rect x="235" y="85" width="13" height="1" fill="#00ffff"/>
<rect x="251" y="85" width="1" height="1" fill="#00ffff"/>
<rect x="253" y="85" width="1" height="1" fill="#00ffff"/>
<rect x="231" y="87" width="2" height="1" fill="#00ffff"/>
<rect x="234" y="87" width="12" height="1" fill="#00ffff"/>
<rect x="247" y="87" width="5" height="1" fill="#00ffff"/>
<rect x="253" y="87" width="1" height="1" fill="#00ffff"/>
<rect x="255" y="87" width="4" height="1" fill="#00ffff"/>
<rect x="231" y="88" width="12" height="1" fill="#00ffff"/>
<rect x="244" y="88" width="6" height="1" fill="#00ffff"/>
<rect x="251" y="88" width="8" height="1" fill="#00ffff"/>
<rect x="231" y="89" width="2" height="1" fill="#00ffff"/>
<rect x="234" y="89" width="5" height="1" fill="#00ffff"/>
<rect x="240" y="89" width="11" height="1" fill="#00ffff"/>
<rect x="252" y="89" width="7" height="1" fill="#00ffff"/>
<rect x="252" y="91" width="5" height="1" fill="#00ffff"/>
<rect x="259" y="91" width="1" height="1" fill="#00ffff"/>
<rect x="261" y="91" width="2" height="1" fill="#00ffff"/>
<rect x="252" y="92" width="5" height="1" fill="#00ffff"/>
<rect x="258" y="92" width="5" height="1" fill="#00ffff"/>
<rect x="253" y="93" width="8" height="1" fill="#00ffff"/>
<rect x="211" y="100" width="91" height="52" fill="#0e84b6"/>
<rect x="212" y="102" width="2" height="49" fill="#000000"/>
<rect x="215" y="102" width="86" height="49" fill="#04739c"/>
<rect x="215" y="102" width="77" height="1" fill="#000000"/>
<rect x="215" y="103" width="77" height="1" fill="#000000"/>
<rect x="215" y="107" width="77" height="1" fill="#000000"/>
<rect x="215" y="113" width="77" height="1" fill="#000000"/>
<rect x="215" y="119" width="77" height="1" fill="#000000"/>
<rect x="215" y="124" width="77" height="1" fill="#000000"/>
<rect x="215" y="130" width="77" height="1" fill="#000000"/>
<rect x="215" y="136" width="77" height="1" fill="#000000"/>
<rect x="215" y="141" width="77" height="1" fill="#000000"/>
<rect x="215" y="147" width="77" height="1" fill="#000000"/>
<rect x="292" y="101" width="8" height="50" fill="#ffffff"/>
<rect x="294" y="102" width="4" height="2" fill="#00ffff"/>
<rect x="293" y="105" width="7" height="3" fill="#000000"/>
<rect x="294" y="106" width="3" height="1" fill="#ffffff"/>
<rect x="293" y="109" width="7" height="1" fill="#000000"/>
<rect x="293" y="112" width="7" height="1" fill="#000000"/>
<rect x="294" y="112" width="2" height="1" fill="#00ffff"/>
<rect x="294" y="115" width="6" height="1" fill="#000000"/>
<rect x="292" y="115" width="2" height="2" fill="#00ffff"/>
<rect x="293" y="119" width="7" height="3" fill="#000000"/>
<rect x="294" y="120" width="1" height="1" fill="#ffffff"/>
<rect x="296" y="119" width="1" height="3" fill="#ffffff"/>
<rect x="292" y="123" width="7" height="11" fill="#00ffff"/>
<rect x="293" y="124" width="1" height="9" fill="#ffffff"/>
<rect x="295" y="126" width="1" height="4" fill="#ffffff"/>
<rect x="297" y="124" width="1" height="9" fill="#ffffff"/>
<rect x="292" y="123" width="1" height="11" fill="#ffffff"/>
<rect x="293" y="134" width="7" height="12" fill="#000000"/>
<rect x="293" y="146" width="7" height="4" fill="#00ffff"/>
<rect x="293" y="146" width="1" height="3" fill="#ffffff"/>
<rect x="295" y="146" width="1" height="3" fill="#ffffff"/>
<rect x="297" y="146" width="1" height="3" fill="#ffffff"/>
<rect x="211" y="157" width="91" height="52" fill="#0e84b6"/>
<rect x="212" y="159" width="2" height="49" fill="#000000"/>
<rect x="215" y="159" width="86" height="49" fill="#04739c"/>
<rect x="215" y="159" width="77" height="1" fill="#000000"/>
<rect x="215" y="161" width="77" height="1" fill="#000000"/>
<rect x="215" y="167" width="77" height="1" fill="#000000"/>
<rect x="215" y="172" width="77" height="1" fill="#000000"/>
<rect x="215" y="178" width="77" height="1" fill="#000000"/>
<rect x="215" y="184" width="77" height="1" fill="#000000"/>
<rect x="215" y="189" width="77" height="1" fill="#000000"/>
<rect x="215" y="195" width="77" height="1" fill="#000000"/>
<rect x="215" y="201" width="77" height="1" fill="#000000"/>
<rect x="215" y="207" width="77" height="1" fill="#000000"/>
<rect x="292" y="158" width="8" height="50" fill="#ffffff"/>
<rect x="294" y="159" width="4" height="2" fill="#00ffff"/>
<rect x="293" y="162" width="7" height="3" fill="#000000"/>
<rect x="294" y="163" width="3" height="1" fill="#ffffff"/>
<rect x="293" y="166" width="7" height="1" fill="#000000"/>
<rect x="293" y="169" width="7" height="1" fill="#000000"/>
<rect x="294" y="169" width="2" height="1" fill="#00ffff"/>
<rect x="294" y="172" width="6" height="1" fill="#000000"/>
<rect x="292" y="172" width="2" height="2" fill="#00ffff"/>
<rect x="293" y="176" width="7" height="3" fill="#000000"/>
<rect x="294" y="177" width="1" height="1" fill="#ffffff"/>
<rect x="296" y="176" width="1" height="3" fill="#ffffff"/>
<rect x="292" y="180" width="7" height="11" fill="#00ffff"/>
<rect x="293" y="181" width="1" height="9" fill="#ffffff"/>
<rect x="295" y="183" width="1" height="4" fill="#ffffff"/>
<rect x="297" y="181" width="1" height="9" fill="#ffffff"/>
<rect x="292" y="180" width="1" height="11" fill="#ffffff"/>
<rect x="293" y="191" width="7" height="12" fill="#000000"/>
<rect x="293" y="203" width="7" height="4" fill="#00ffff"/>
<rect x="293" y="203" width="1" height="3" fill="#ffffff"/>
<rect x="295" y="203" width="1" height="3" fill="#ffffff"/>
<rect x="297" y="203" width="1" height="3" fill="#ffffff"/>
<rect x="211" y="213" width="91" height="52" fill="#0e84b6"/>
<rect x="212" y="215" width="2" height="49" fill="#000000"/>
<rect x="215" y="215" width="86" height="49" fill="#04739c"/>
<rect x="215" y="215" width="77" height="1" fill="#000000"/>
<rect x="215" y="220" width="77" height="1" fill="#000000"/>
<rect x="215" y="226" width="77" height="1" fill="#000000"/>
<rect x="215" y="231" width="77" height="1" fill="#000000"/>
<rect x="215" y="237" width="77" height="1" fill="#000000"/>
<rect x="215" y="243" width="77" height="1" fill="#000000"/>
<rect x="215" y="248" width="77" height="1" fill="#000000"/>
<rect x="215" y="254" width="77" height="1" fill="#000000"/>
<rect x="215" y="260" width="77" height="1" fill="#000000"/>
<rect x="292" y="214" width="8" height="50" fill="#ffffff"/>
<rect x="294" y="215" width="4" height="2" fill="#00ffff"/>
<rect x="293" y="218" width="7" height="3" fill="#000000"/>
<rect x="294" y="219" width="3" height="1" fill="#ffffff"/>
<rect x="293" y="222" width="7" height="1" fill="#000000"/>
<rect x="293" y="225" width="7" height="1" fill="#000000"/>
<rect x="294" y="225" width="2" height="1" fill="#00ffff"/>
<rect x="294" y="228" width="6" height="1" fill="#000000"/>
<rect x="292" y="228" width="2" height="2" fill="#00ffff"/>
<rect x="293" y="232" width="7" height="3" fill="#000000"/>
<rect x="294" y="233" width="1" height="1" fill="#ffffff"/>
<rect x="296" y="232" width="1" height="3" fill="#ffffff"/>
<rect x="292" y="236" width="7" height="11" fill="#00ffff"/>
<rect x="293" y="237" width="1" height="9" fill="#ffffff"/>
<rect x="295" y="239" width="1" height="4" fill="#ffffff"/>
<rect x="297" y="237" width="1" height="9" fill="#ffffff"/>
<rect x="292" y="236" width="1" height="11" fill="#ffffff"/>
<rect x="293" y="247" width="7" height="12" fill="#000000"/>
<rect x="293" y="259" width="7" height="4" fill="#00ffff"/>
<rect x="293" y="259" width="1" height="3" fill="#ffffff"/>
<rect x="295" y="259" width="1" height="3" fill="#ffffff"/>
<rect x="297" y="259" width="1" height="3" fill="#ffffff"/>
<rect x="211" y="270" width="91" height="52" fill="#0e84b6"/>
<rect x="212" y="272" width="2" height="49" fill="#000000"/>
<rect x="215" y="272" width="86" height="49" fill="#04739c"/>
<rect x="215" y="272" width="77" height="1" fill="#000000"/>
<rect x="215" y="273" width="77" height="1" fill="#000000"/>
<rect x="215" y="279" width="77" height="1" fill="#000000"/>
<rect x="215" y="285" width="77" height="1" fill="#000000"/>
<rect x="215" y="290" width="77" height="1" fill="#000000"/>
<rect x="215" y="296" width="77" height="1" fill="#000000"/>
<rect x="215" y="302" width="77" height="1" fill="#000000"/>
<rect x="215" y="308" width="77" height="1" fill="#000000"/>
<rect x="215" y="313" width="77" height="1" fill="#000000"/>
<rect x="215" y="319" width="77" height="1" fill="#000000"/>
<rect x="240" y="272" width="1" height="49" fill="#000000"/>
<rect x="265" y="272" width="1" height="49" fill="#000000"/>
<rect x="292" y="271" width="8" height="50" fill="#ffffff"/>
<rect x="294" y="272" width="4" height="2" fill="#00ffff"/>
<rect x="293" y="275" width="7" height="3" fill="#000000"/>
<rect x="294" y="276" width="3" height="1" fill="#ffffff"/>
<rect x="293" y="279" width="7" height="1" fill="#000000"/>
<rect x="293" y="282" width="7" height="1" fill="#000000"/>
<rect x="294" y="282" width="2" height="1" fill="#00ffff"/>
<rect x="294" y="285" width="6" height="1" fill="#000000"/>
<rect x="292" y="285" width="2" height="2" fill="#00ffff"/>
<rect x="293" y="289" width="7" height="3" fill="#000000"/>
<rect x="294" y="290" width="1" height="1" fill="#ffffff"/>
<rect x="296" y="289" width="1" height="3" fill="#ffffff"/>
<rect x="292" y="293" width="7" height="11" fill="#00ffff"/>
<rect x="293" y="294" width="1" height="9" fill="#ffffff"/>
<rect x="295" y="296" width="1" height="4" fill="#ffffff"/>
<rect x="297" y="294" width="1" height="9" fill="#ffffff"/>
<rect x="292" y="293" width="1" height="11" fill="#ffffff"/>
<rect x="293" y="304" width="7" height="12" fill="#000000"/>
<rect x="293" y="316" width="7" height="4" fill="#00ffff"/>
<rect x="293" y="316" width="1" height="3" fill="#ffffff"/>
<rect x="295" y="316" width="1" height="3" fill="#ffffff"/>
<rect x="297" y="316" width="1" height="3" fill="#ffffff"/>
<rect x="224" y="105" width="1" height="1" fill="#ff00ff"/>
<rect x="226" y="105" width="1" height="1" fill="#ff00ff"/>
<rect x="215" y="106" width="1" height="1" fill="#00ff00"/>
<rect x="215" y="107" width="7" height="1" fill="#ffffff"/>
<rect x="215" y="108" width="7" height="1" fill="#ffffff"/>
<rect x="221" y="108" width="1" height="1" fill="#04739c"/>
<rect x="215" y="109" width="7" height="1" fill="#ffffff"/>
<rect x="215" y="110" width="7" height="1" fill="#ffffff"/>
<rect x="215" y="111" width="7" height="1" fill="#ffffff"/>
<rect x="222" y="109" width="1" height="1" fill="#ffffff"/>
<rect x="218" y="111" width="10" height="1" fill="#ffffff"/>
<rect x="218" y="112" width="7" height="1" fill="#ffffff"/>
<rect x="215" y="112" width="12" height="1" fill="#ffffff"/>
<rect x="215" y="113" width="11" height="1" fill="#ffffff"/>
<rect x="215" y="114" width="10" height="1" fill="#ffffff"/>
<rect x="215" y="115" width="9" height="1" fill="#ffffff"/>
<rect x="218" y="115" width="1" height="1" fill="#04739c"/>
<rect x="221" y="115" width="1" height="1" fill="#04739c"/>
<rect x="215" y="116" width="9" height="1" fill="#ffffff"/>
<rect x="215" y="117" width="6" height="1" fill="#ff00ff"/>
<rect x="215" y="118" width="6" height="1" fill="#ffffff"/>
<rect x="215" y="119" width="7" height="1" fill="#ffffff"/>
<rect x="215" y="120" width="8" height="1" fill="#ffffff"/>
<rect x="215" y="123" width="6" height="1" fill="#ff00ff"/>
<rect x="215" y="124" width="6" height="1" fill="#ff00ff"/>
<rect x="217" y="124" width="1" height="1" fill="#000000"/>
<rect x="219" y="124" width="1" height="1" fill="#000000"/>
<rect x="215" y="125" width="6" height="1" fill="#ff00ff"/>
<rect x="221" y="125" width="5" height="1" fill="#ff00ff"/>
<rect x="215" y="126" width="2" height="1" fill="#00ff00"/>
<rect x="215" y="127" width="1" height="1" fill="#ff00ff"/>
<rect x="219" y="127" width="1" height="1" fill="#ff00ff"/>
<rect x="222" y="127" width="5" height="1" fill="#ff00ff"/>
<rect x="215" y="128" width="7" height="1" fill="#ff00ff"/>
<rect x="223" y="128" width="4" height="1" fill="#ff00ff"/>
<rect x="218" y="129" width="4" height="1" fill="#ff00ff"/>
<rect x="219" y="129" width="1" height="1" fill="#04739c"/>
<rect x="218" y="130" width="6" height="1" fill="#ff00ff"/>
<rect x="221" y="130" width="1" height="1" fill="#000000"/>
<rect x="215" y="131" width="16" height="1" fill="#ffffff"/>
<rect x="232" y="131" width="2" height="1" fill="#ffffff"/>
<rect x="236" y="131" width="2" height="1" fill="#ffffff"/>
<rect x="215" y="131" width="1" height="7" fill="#ffffff"/>
<rect x="216" y="133" width="1" height="1" fill="#ffffff"/>
<rect x="218" y="133" width="7" height="1" fill="#ffffff"/>
<rect x="226" y="133" width="3" height="1" fill="#ffffff"/>
<rect x="223" y="134" width="13" height="1" fill="#ffffff"/>
<rect x="216" y="135" width="21" height="1" fill="#ffffff"/>
<rect x="216" y="136" width="3" height="1" fill="#ffffff"/>
<rect x="221" y="136" width="1" height="1" fill="#ffffff"/>
<rect x="225" y="136" width="1" height="1" fill="#ffffff"/>
<rect x="230" y="136" width="5" height="1" fill="#ffffff"/>
<rect x="236" y="133" width="2" height="4" fill="#ffff00"/>
<rect x="215" y="137" width="2" height="1" fill="#00ff00"/>
<rect x="218" y="138" width="3" height="1" fill="#ffffff"/>
<rect x="216" y="139" width="5" height="1" fill="#ffffff"/>
<rect x="223" y="139" width="1" height="1" fill="#ffffff"/>
<rect x="217" y="140" width="1" height="1" fill="#ffffff"/>
<rect x="222" y="140" width="4" height="1" fill="#ffffff"/>
<rect x="216" y="141" width="3" height="1" fill="#ffffff"/>
<rect x="221" y="141" width="5" height="1" fill="#ffffff"/>
<rect x="215" y="143" width="2" height="1" fill="#00ff00"/>
<rect x="215" y="144" width="11" height="1" fill="#ffffff"/>
<rect x="216" y="144" width="1" height="1" fill="#04739c"/>
<rect x="215" y="145" width="12" height="1" fill="#ffffff"/>
<rect x="216" y="145" width="1" height="1" fill="#04739c"/>
<rect x="215" y="146" width="8" height="1" fill="#ffffff"/>
<rect x="215" y="147" width="12" height="1" fill="#ffffff"/>
<rect x="221" y="147" width="1" height="1" fill="#000000"/>
<rect x="215" y="148" width="13" height="1" fill="#ffffff"/>
<rect x="215" y="149" width="13" height="1" fill="#ffffff"/>
<rect x="215" y="150" width="12" height="1" fill="#ffffff"/>
<rect x="222" y="150" width="1" height="1" fill="#04739c"/>
<rect x="245" y="102" width="5" height="2" fill="#ff00ff"/>
<rect x="240" y="105" width="10" height="1" fill="#ffffff"/>
<rect x="240" y="106" width="6" height="1" fill="#ffffff"/>
<rect x="240" y="107" width="7" height="1" fill="#ffffff"/>
<rect x="240" y="108" width="9" height="1" fill="#ffffff"/>
<rect x="241" y="108" width="1" height="1" fill="#04739c"/>
<rect x="240" y="109" width="11" height="1" fill="#ffffff"/>
<rect x="240" y="110" width="12" height="1" fill="#ffffff"/>
<rect x="240" y="111" width="11" height="1" fill="#ffffff"/>
<rect x="243" y="111" width="1" height="1" fill="#04739c"/>
<rect x="249" y="111" width="1" height="1" fill="#04739c"/>
<rect x="240" y="112" width="10" height="1" fill="#ffffff"/>
<rect x="252" y="108" width="2" height="1" fill="#ffffff"/>
<rect x="252" y="109" width="2" height="1" fill="#ffffff"/>
<rect x="252" y="110" width="2" height="1" fill="#ffffff"/>
<rect x="252" y="111" width="2" height="1" fill="#ffffff"/>
<rect x="252" y="112" width="2" height="1" fill="#ffffff"/>
<rect x="253" y="112" width="1" height="1" fill="#04739c"/>
<rect x="240" y="114" width="2" height="1" fill="#00ff00"/>
<rect x="240" y="115" width="20" height="1" fill="#ffff00"/>
<rect x="240" y="116" width="19" height="1" fill="#ffffff"/>
<rect x="240" y="117" width="18" height="1" fill="#ffffff"/>
<rect x="241" y="117" width="1" height="1" fill="#04739c"/>
<rect x="240" y="118" width="20" height="1" fill="#ffffff"/>
<rect x="240" y="119" width="19" height="1" fill="#ffffff"/>
<rect x="240" y="120" width="19" height="1" fill="#ffffff"/>
<rect x="250" y="120" width="1" height="1" fill="#04739c"/>
<rect x="254" y="120" width="1" height="1" fill="#04739c"/>
<rect x="240" y="121" width="20" height="1" fill="#ffffff"/>
<rect x="245" y="121" width="1" height="1" fill="#04739c"/>
<rect x="240" y="122" width="19" height="1" fill="#ffffff"/>
<rect x="240" y="122" width="1" height="1" fill="#04739c"/>
<rect x="240" y="123" width="19" height="1" fill="#ffffff"/>
<rect x="240" y="124" width="20" height="1" fill="#ffffff"/>
<rect x="240" y="125" width="18" height="1" fill="#ffffff"/>
<rect x="248" y="125" width="1" height="1" fill="#04739c"/>
<rect x="240" y="126" width="20" height="1" fill="#ffffff"/>
<rect x="254" y="126" width="1" height="1" fill="#04739c"/>
<rect x="240" y="127" width="18" height="1" fill="#ffffff"/>
<rect x="240" y="128" width="2" height="2" fill="#ffffff"/>
<rect x="240" y="130" width="10" height="1" fill="#ffffff"/>
<rect x="240" y="131" width="18" height="1" fill="#ffffff"/>
<rect x="255" y="131" width="1" height="1" fill="#04739c"/>
<rect x="240" y="132" width="19" height="1" fill="#ffffff"/>
<rect x="246" y="132" width="1" height="1" fill="#04739c"/>
<rect x="249" y="132" width="1" height="1" fill="#04739c"/>
<rect x="240" y="133" width="18" height="1" fill="#ffffff"/>
<rect x="240" y="133" width="1" height="1" fill="#04739c"/>
<rect x="240" y="134" width="20" height="1" fill="#ffffff"/>
<rect x="240" y="134" width="1" height="1" fill="#04739c"/>
<rect x="246" y="134" width="1" height="1" fill="#04739c"/>
<rect x="258" y="134" width="1" height="1" fill="#04739c"/>
<rect x="240" y="135" width="18" height="1" fill="#ffffff"/>
<rect x="240" y="135" width="1" height="1" fill="#04739c"/>
<rect x="249" y="135" width="1" height="1" fill="#04739c"/>
<rect x="240" y="137" width="22" height="1" fill="#ffff00"/>
<rect x="240" y="138" width="11" height="1" fill="#ffff00"/>
<rect x="240" y="139" width="10" height="1" fill="#ffff00"/>
<rect x="240" y="140" width="10" height="1" fill="#ffff00"/>
<rect x="247" y="140" width="1" height="1" fill="#04739c"/>
<rect x="240" y="141" width="12" height="1" fill="#ffff00"/>
<rect x="241" y="141" width="1" height="1" fill="#000000"/>
<rect x="240" y="142" width="13" height="1" fill="#ffff00"/>
<rect x="245" y="142" width="1" height="1" fill="#04739c"/>
<rect x="252" y="138" width="7" height="1" fill="#ffff00"/>
<rect x="252" y="139" width="1" height="1" fill="#ffff00"/>
<rect x="254" y="139" width="7" height="1" fill="#ffff00"/>
<rect x="252" y="140" width="9" height="1" fill="#ffff00"/>
<rect x="252" y="141" width="9" height="1" fill="#ffff00"/>
<rect x="240" y="143" width="6" height="1" fill="#ffffff"/>
<rect x="240" y="144" width="8" height="1" fill="#ffffff"/>
<rect x="240" y="145" width="7" height="1" fill="#ffff00"/>
<rect x="244" y="145" width="1" height="1" fill="#04739c"/>
<rect x="240" y="146" width="7" height="1" fill="#ffff00"/>
<rect x="240" y="147" width="5" height="1" fill="#ffffff"/>
<rect x="246" y="147" width="3" height="1" fill="#ffffff"/>
<rect x="266" y="105" width="1" height="1" fill="#00ff00"/>
<rect x="266" y="105" width="18" height="1" fill="#ff00ff"/>
<rect x="266" y="106" width="21" height="1" fill="#ff00ff"/>
<rect x="278" y="106" width="1" height="1" fill="#04739c"/>
<rect x="284" y="106" width="1" height="1" fill="#04739c"/>
<rect x="266" y="107" width="21" height="1" fill="#ff00ff"/>
<rect x="266" y="108" width="19" height="1" fill="#ff00ff"/>
<rect x="267" y="108" width="1" height="1" fill="#04739c"/>
<rect x="274" y="108" width="1" height="1" fill="#04739c"/>
<rect x="266" y="109" width="18" height="1" fill="#ff00ff"/>
<rect x="283" y="109" width="1" height="1" fill="#04739c"/>
<rect x="266" y="110" width="18" height="1" fill="#ff00ff"/>
<rect x="266" y="111" width="20" height="1" fill="#ff00ff"/>
<rect x="281" y="111" width="1" height="1" fill="#04739c"/>
<rect x="266" y="112" width="18" height="1" fill="#ff00ff"/>
<rect x="266" y="113" width="13" height="1" fill="#ffffff"/>
<rect x="266" y="114" width="12" height="1" fill="#ffffff"/>
<rect x="266" y="115" width="13" height="1" fill="#ffffff"/>
<rect x="266" y="116" width="13" height="1" fill="#ffffff"/>
<rect x="267" y="116" width="1" height="1" fill="#04739c"/>
<rect x="276" y="116" width="1" height="1" fill="#04739c"/>
<rect x="267" y="117" width="1" height="1" fill="#00ff00"/>
<rect x="266" y="118" width="8" height="1" fill="#ffffff"/>
<rect x="273" y="118" width="1" height="1" fill="#04739c"/>
<rect x="266" y="119" width="10" height="1" fill="#ffffff"/>
<rect x="266" y="120" width="10" height="1" fill="#ffffff"/>
<rect x="275" y="120" width="1" height="1" fill="#04739c"/>
<rect x="266" y="121" width="9" height="1" fill="#ffffff"/>
<rect x="266" y="122" width="8" height="1" fill="#ffffff"/>
<rect x="273" y="122" width="1" height="1" fill="#04739c"/>
<rect x="266" y="123" width="11" height="1" fill="#ffffff"/>
<rect x="274" y="123" width="1" height="1" fill="#04739c"/>
<rect x="276" y="123" width="1" height="1" fill="#04739c"/>
<rect x="266" y="124" width="12" height="1" fill="#ffffff"/>
<rect x="269" y="124" width="1" height="1" fill="#000000"/>
<rect x="266" y="125" width="9" height="1" fill="#ffffff"/>
<rect x="267" y="125" width="1" height="1" fill="#04739c"/>
<rect x="268" y="125" width="1" height="1" fill="#04739c"/>
<rect x="266" y="126" width="12" height="1" fill="#ffffff"/>
<rect x="266" y="127" width="1" height="1" fill="#ffffff"/>
<rect x="268" y="127" width="4" height="1" fill="#ffffff"/>
<rect x="273" y="127" width="5" height="1" fill="#ffffff"/>
<rect x="267" y="128" width="3" height="1" fill="#ffffff"/>
<rect x="271" y="128" width="3" height="1" fill="#ffffff"/>
<rect x="276" y="128" width="2" height="1" fill="#ffffff"/>
<rect x="266" y="129" width="12" height="1" fill="#ffffff"/>
<rect x="267" y="130" width="5" height="1" fill="#ffffff"/>
<rect x="276" y="130" width="2" height="1" fill="#ffffff"/>
<rect x="266" y="131" width="5" height="1" fill="#ffffff"/>
<rect x="272" y="131" width="4" height="1" fill="#ffffff"/>
<rect x="277" y="131" width="1" height="1" fill="#ffffff"/>
<rect x="266" y="132" width="1" height="1" fill="#ffffff"/>
<rect x="268" y="132" width="10" height="1" fill="#ffffff"/>
<rect x="270" y="133" width="1" height="1" fill="#ffffff"/>
<rect x="272" y="133" width="6" height="1" fill="#ffffff"/>
<rect x="266" y="134" width="12" height="1" fill="#ffffff"/>
<rect x="266" y="135" width="3" height="1" fill="#ffffff"/>
<rect x="271" y="135" width="2" height="1" fill="#ffffff"/>
<rect x="266" y="136" width="5" height="1" fill="#ffffff"/>
<rect x="273" y="136" width="2" height="1" fill="#ffffff"/>
<rect x="266" y="137" width="4" height="1" fill="#ffffff"/>
<rect x="272" y="137" width="6" height="1" fill="#ffffff"/>
<rect x="266" y="138" width="1" height="1" fill="#ffffff"/>
<rect x="268" y="138" width="1" height="1" fill="#ffffff"/>
<rect x="270" y="138" width="1" height="1" fill="#ffffff"/>
<rect x="272" y="138" width="5" height="1" fill="#ffffff"/>
<rect x="266" y="139" width="2" height="1" fill="#ffffff"/>
<rect x="271" y="139" width="2" height="1" fill="#ffffff"/>
<rect x="274" y="139" width="4" height="1" fill="#ffffff"/>
<rect x="269" y="140" width="9" height="1" fill="#ffffff"/>
<rect x="266" y="141" width="9" height="1" fill="#ffffff"/>
<rect x="276" y="141" width="2" height="1" fill="#ffffff"/>
<rect x="267" y="142" width="8" height="1" fill="#ffffff"/>
<rect x="276" y="142" width="2" height="1" fill="#ffffff"/>
<rect x="266" y="143" width="2" height="1" fill="#ffffff"/>
<rect x="274" y="143" width="3" height="1" fill="#ffffff"/>
<rect x="266" y="144" width="12" height="1" fill="#ffffff"/>
<rect x="266" y="145" width="4" height="1" fill="#ffffff"/>
<rect x="272" y="145" width="3" height="1" fill="#ffffff"/>
<rect x="266" y="146" width="6" height="1" fill="#ffffff"/>
<rect x="274" y="146" width="4" height="1" fill="#ffffff"/>
<rect x="266" y="147" width="2" height="1" fill="#ffffff"/>
<rect x="275" y="147" width="3" height="1" fill="#ffffff"/>
<rect x="266" y="148" width="3" height="1" fill="#ffffff"/>
<rect x="270" y="148" width="8" height="1" fill="#ffffff"/>
<rect x="266" y="149" width="3" height="1" fill="#ffffff"/>
<rect x="270" y="149" width="5" height="1" fill="#ffffff"/>
<rect x="266" y="150" width="5" height="1" fill="#ffffff"/>
<rect x="273" y="150" width="2" height="1" fill="#ffffff"/>
<rect x="277" y="150" width="1" height="1" fill="#ffffff"/>
<rect x="266" y="135" width="1" height="1" fill="#00ff00"/>
<rect x="215" y="161" width="12" height="1" fill="#ffffff"/>
<rect x="215" y="162" width="9" height="1" fill="#ffffff"/>
<rect x="220" y="162" width="1" height="1" fill="#04739c"/>
<rect x="235" y="161" width="3" height="2" fill="#ffffff"/>
<rect x="215" y="163" width="10" height="1" fill="#ffffff"/>
<rect x="215" y="164" width="5" height="1" fill="#ffffff"/>
<rect x="215" y="165" width="7" height="1" fill="#ffffff"/>
<rect x="215" y="166" width="7" height="1" fill="#ffffff"/>
<rect x="215" y="166" width="1" height="1" fill="#04739c"/>
<rect x="215" y="167" width="8" height="1" fill="#ffffff"/>
<rect x="216" y="167" width="1" height="1" fill="#000000"/>
<rect x="224" y="167" width="7" height="1" fill="#ffffff"/>
<rect x="215" y="168" width="3" height="2" fill="#00ff00"/>
<rect x="218" y="168" width="9" height="1" fill="#ffffff"/>
<rect x="223" y="168" width="1" height="1" fill="#04739c"/>
<rect x="218" y="169" width="10" height="1" fill="#ffffff"/>
<rect x="219" y="169" width="1" height="1" fill="#04739c"/>
<rect x="222" y="169" width="1" height="1" fill="#04739c"/>
<rect x="224" y="169" width="1" height="1" fill="#04739c"/>
<rect x="218" y="170" width="12" height="1" fill="#ffffff"/>
<rect x="218" y="171" width="12" height="1" fill="#ffffff"/>
<rect x="229" y="171" width="1" height="1" fill="#04739c"/>
<rect x="218" y="172" width="10" height="1" fill="#ffffff"/>
<rect x="221" y="172" width="1" height="1" fill="#000000"/>
<rect x="218" y="173" width="11" height="1" fill="#ffffff"/>
<rect x="220" y="173" width="1" height="1" fill="#04739c"/>
<rect x="223" y="173" width="1" height="1" fill="#04739c"/>
<rect x="218" y="174" width="11" height="1" fill="#ffffff"/>
<rect x="218" y="175" width="11" height="1" fill="#ffffff"/>
<rect x="218" y="176" width="9" height="1" fill="#ffffff"/>
<rect x="224" y="176" width="1" height="1" fill="#04739c"/>
<rect x="215" y="170" width="3" height="1" fill="#ffffff"/>
<rect x="215" y="171" width="3" height="1" fill="#ffffff"/>
<rect x="215" y="172" width="3" height="1" fill="#ffffff"/>
<rect x="215" y="173" width="3" height="1" fill="#ffffff"/>
<rect x="215" y="174" width="3" height="1" fill="#ffffff"/>
<rect x="215" y="175" width="3" height="1" fill="#ffffff"/>
<rect x="215" y="176" width="3" height="1" fill="#ffffff"/>
<rect x="215" y="177" width="15" height="1" fill="#ffffff"/>
<rect x="215" y="178" width="13" height="1" fill="#ffffff"/>
<rect x="215" y="179" width="14" height="1" fill="#ffffff"/>
<rect x="219" y="179" width="1" height="1" fill="#04739c"/>
<rect x="226" y="179" width="1" height="1" fill="#04739c"/>
<rect x="227" y="179" width="1" height="1" fill="#04739c"/>
<rect x="215" y="180" width="15" height="1" fill="#ffffff"/>
<rect x="217" y="180" width="1" height="1" fill="#04739c"/>
<rect x="218" y="180" width="1" height="1" fill="#04739c"/>
<rect x="215" y="181" width="7" height="1" fill="#ffffff"/>
<rect x="215" y="182" width="13" height="1" fill="#ffffff"/>
<rect x="217" y="182" width="1" height="1" fill="#04739c"/>
<rect x="221" y="182" width="1" height="1" fill="#04739c"/>
<rect x="224" y="182" width="1" height="1" fill="#04739c"/>
<rect x="215" y="183" width="15" height="1" fill="#ffffff"/>
<rect x="217" y="183" width="1" height="1" fill="#04739c"/>
<rect x="215" y="184" width="13" height="1" fill="#ff00ff"/>
<rect x="215" y="186" width="9" height="1" fill="#ffff00"/>
<rect x="217" y="186" width="1" height="1" fill="#04739c"/>
<rect x="222" y="186" width="1" height="1" fill="#04739c"/>
<rect x="215" y="187" width="7" height="1" fill="#ffff00"/>
<rect x="215" y="189" width="11" height="1" fill="#ffff00"/>
<rect x="215" y="190" width="5" height="1" fill="#ffffff"/>
<rect x="215" y="191" width="5" height="1" fill="#ffffff"/>
<rect x="215" y="192" width="6" height="1" fill="#ff00ff"/>
<rect x="215" y="193" width="7" height="1" fill="#ff00ff"/>
<rect x="231" y="194" width="6" height="1" fill="#ff00ff"/>
<rect x="216" y="195" width="2" height="2" fill="#00ff00"/>
<rect x="215" y="196" width="11" height="1" fill="#ffffff"/>
<rect x="216" y="196" width="1" height="1" fill="#04739c"/>
<rect x="223" y="196" width="1" height="1" fill="#04739c"/>
<rect x="215" y="197" width="14" height="1" fill="#ffffff"/>
<rect x="215" y="198" width="14" height="1" fill="#ffffff"/>
<rect x="215" y="198" width="1" height="1" fill="#04739c"/>
<rect x="215" y="199" width="13" height="1" fill="#ffffff"/>
<rect x="217" y="199" width="1" height="1" fill="#04739c"/>
<rect x="215" y="200" width="11" height="1" fill="#ffffff"/>
<rect x="222" y="200" width="1" height="1" fill="#04739c"/>
<rect x="215" y="201" width="16" height="1" fill="#ffffff"/>
<rect x="215" y="202" width="15" height="1" fill="#ffffff"/>
<rect x="215" y="203" width="13" height="1" fill="#ffffff"/>
<rect x="215" y="204" width="15" height="1" fill="#ffffff"/>
<rect x="221" y="204" width="1" height="1" fill="#04739c"/>
<rect x="223" y="204" width="1" height="1" fill="#04739c"/>
<rect x="215" y="205" width="13" height="1" fill="#ffffff"/>
<rect x="217" y="205" width="1" height="1" fill="#04739c"/>
<rect x="218" y="205" width="1" height="1" fill="#04739c"/>
<rect x="244" y="159" width="7" height="1" fill="#ff00ff"/>
<rect x="240" y="161" width="3" height="1" fill="#00ff00"/>
<rect x="240" y="162" width="7" height="1" fill="#ffffff"/>
<rect x="240" y="163" width="5" height="1" fill="#ffffff"/>
<rect x="240" y="163" width="1" height="1" fill="#04739c"/>
<rect x="240" y="164" width="5" height="1" fill="#ffffff"/>
<rect x="240" y="165" width="7" height="1" fill="#ffffff"/>
<rect x="244" y="165" width="1" height="1" fill="#04739c"/>
<rect x="240" y="166" width="5" height="1" fill="#ffffff"/>
<rect x="252" y="163" width="7" height="1" fill="#ffffff"/>
<rect x="240" y="167" width="11" height="1" fill="#ffffff"/>
<rect x="249" y="167" width="1" height="1" fill="#000000"/>
<rect x="240" y="168" width="8" height="1" fill="#ffffff"/>
<rect x="241" y="168" width="1" height="1" fill="#04739c"/>
<rect x="244" y="168" width="1" height="1" fill="#04739c"/>
<rect x="245" y="168" width="1" height="1" fill="#04739c"/>
<rect x="240" y="169" width="10" height="1" fill="#ffffff"/>
<rect x="240" y="169" width="1" height="1" fill="#04739c"/>
<rect x="240" y="170" width="10" height="1" fill="#ffffff"/>
<rect x="243" y="170" width="1" height="1" fill="#04739c"/>
<rect x="240" y="171" width="10" height="1" fill="#ffffff"/>
<rect x="242" y="171" width="1" height="1" fill="#04739c"/>
<rect x="240" y="174" width="3" height="2" fill="#00ff00"/>
<rect x="240" y="175" width="19" height="1" fill="#ffffff"/>
<rect x="240" y="176" width="22" height="1" fill="#ffffff"/>
<rect x="260" y="176" width="1" height="1" fill="#04739c"/>
<rect x="261" y="176" width="1" height="1" fill="#04739c"/>
<rect x="240" y="177" width="21" height="1" fill="#ffffff"/>
<rect x="253" y="177" width="1" height="1" fill="#04739c"/>
<rect x="240" y="178" width="14" height="1" fill="#ffffff"/>
<rect x="250" y="178" width="1" height="1" fill="#000000"/>
<rect x="240" y="179" width="20" height="1" fill="#ffffff"/>
<rect x="248" y="179" width="1" height="1" fill="#04739c"/>
<rect x="252" y="179" width="1" height="1" fill="#04739c"/>
<rect x="240" y="180" width="19" height="1" fill="#ffffff"/>
<rect x="247" y="180" width="1" height="1" fill="#04739c"/>
<rect x="254" y="180" width="1" height="1" fill="#04739c"/>
<rect x="257" y="180" width="1" height="1" fill="#04739c"/>
<rect x="240" y="181" width="22" height="1" fill="#ffffff"/>
<rect x="240" y="182" width="22" height="1" fill="#ffffff"/>
<rect x="257" y="182" width="1" height="1" fill="#04739c"/>
<rect x="240" y="183" width="20" height="1" fill="#ffffff"/>
<rect x="240" y="184" width="21" height="1" fill="#ffffff"/>
<rect x="241" y="184" width="1" height="1" fill="#000000"/>
<rect x="240" y="185" width="22" height="1" fill="#ffffff"/>
<rect x="248" y="185" width="1" height="1" fill="#04739c"/>
<rect x="250" y="185" width="1" height="1" fill="#04739c"/>
<rect x="257" y="185" width="1" height="1" fill="#04739c"/>
<rect x="261" y="185" width="1" height="1" fill="#04739c"/>
<rect x="240" y="186" width="20" height="1" fill="#ffffff"/>
<rect x="240" y="186" width="1" height="1" fill="#04739c"/>
<rect x="256" y="186" width="1" height="1" fill="#04739c"/>
<rect x="240" y="187" width="19" height="1" fill="#ffffff"/>
<rect x="240" y="188" width="20" height="1" fill="#ffffff"/>
<rect x="255" y="188" width="1" height="1" fill="#04739c"/>
<rect x="257" y="188" width="1" height="1" fill="#04739c"/>
<rect x="240" y="189" width="14" height="1" fill="#ffffff"/>
<rect x="240" y="190" width="21" height="1" fill="#ffffff"/>
<rect x="248" y="190" width="1" height="1" fill="#04739c"/>
<rect x="255" y="190" width="1" height="1" fill="#04739c"/>
<rect x="259" y="190" width="1" height="1" fill="#04739c"/>
<rect x="240" y="191" width="19" height="1" fill="#ffffff"/>
<rect x="243" y="191" width="1" height="1" fill="#04739c"/>
<rect x="246" y="191" width="1" height="1" fill="#04739c"/>
<rect x="240" y="192" width="22" height="1" fill="#ffffff"/>
<rect x="242" y="192" width="1" height="1" fill="#04739c"/>
<rect x="248" y="192" width="1" height="1" fill="#04739c"/>
<rect x="255" y="192" width="1" height="1" fill="#04739c"/>
<rect x="240" y="193" width="7" height="1" fill="#ffffff"/>
<rect x="240" y="194" width="10" height="1" fill="#ffffff"/>
<rect x="241" y="194" width="1" height="1" fill="#04739c"/>
<rect x="246" y="194" width="1" height="1" fill="#04739c"/>
<rect x="240" y="195" width="8" height="1" fill="#ffffff"/>
<rect x="240" y="196" width="3" height="1" fill="#00ff00"/>
<rect x="240" y="197" width="12" height="1" fill="#ffffff"/>
<rect x="240" y="198" width="15" height="1" fill="#ffffff"/>
<rect x="240" y="198" width="1" height="1" fill="#04739c"/>
<rect x="247" y="198" width="1" height="1" fill="#04739c"/>
<rect x="240" y="199" width="15" height="1" fill="#ffff00"/>
<rect x="240" y="200" width="15" height="1" fill="#ff00ff"/>
<rect x="240" y="201" width="10" height="1" fill="#ffffff"/>
<rect x="240" y="201" width="1" height="1" fill="#000000"/>
<rect x="240" y="202" width="11" height="1" fill="#ffffff"/>
<rect x="240" y="203" width="12" height="1" fill="#ffffff"/>
<rect x="240" y="204" width="11" height="1" fill="#ffffff"/>
<rect x="240" y="205" width="12" height="1" fill="#ffffff"/>
<rect x="248" y="205" width="1" height="1" fill="#04739c"/>
<rect x="251" y="205" width="1" height="1" fill="#04739c"/>
<rect x="266" y="161" width="13" height="1" fill="#ffffff"/>
<rect x="266" y="162" width="11" height="1" fill="#ffffff"/>
<rect x="266" y="162" width="1" height="1" fill="#04739c"/>
<rect x="266" y="163" width="7" height="1" fill="#ffffff"/>
<rect x="266" y="164" width="9" height="1" fill="#ffffff"/>
<rect x="271" y="164" width="1" height="1" fill="#04739c"/>
<rect x="266" y="165" width="14" height="1" fill="#ffffff"/>
<rect x="268" y="165" width="1" height="1" fill="#04739c"/>
<rect x="266" y="166" width="9" height="1" fill="#ffffff"/>
<rect x="268" y="166" width="1" height="1" fill="#04739c"/>
<rect x="266" y="167" width="11" height="1" fill="#ff00ff"/>
<rect x="266" y="168" width="12" height="1" fill="#ff00ff"/>
<rect x="266" y="169" width="10" height="1" fill="#ff00ff"/>
<rect x="268" y="169" width="1" height="1" fill="#04739c"/>
<rect x="266" y="170" width="10" height="1" fill="#ff00ff"/>
<rect x="266" y="171" width="11" height="1" fill="#ff00ff"/>
<rect x="266" y="172" width="2" height="1" fill="#00ff00"/>
<rect x="266" y="173" width="7" height="1" fill="#ffffff"/>
<rect x="266" y="174" width="6" height="1" fill="#ffffff"/>
<rect x="266" y="175" width="5" height="2" fill="#ffff00"/>
<rect x="266" y="177" width="21" height="1" fill="#ffffff"/>
<rect x="278" y="177" width="1" height="1" fill="#04739c"/>
<rect x="266" y="178" width="17" height="1" fill="#ffffff"/>
<rect x="266" y="179" width="22" height="1" fill="#ffffff"/>
<rect x="272" y="179" width="1" height="1" fill="#04739c"/>
<rect x="266" y="180" width="23" height="1" fill="#ffffff"/>
<rect x="267" y="180" width="1" height="1" fill="#04739c"/>
<rect x="266" y="181" width="24" height="1" fill="#ffffff"/>
<rect x="268" y="181" width="1" height="1" fill="#04739c"/>
<rect x="280" y="181" width="1" height="1" fill="#04739c"/>
<rect x="266" y="182" width="24" height="1" fill="#ffffff"/>
<rect x="273" y="182" width="1" height="1" fill="#04739c"/>
<rect x="277" y="182" width="1" height="1" fill="#04739c"/>
<rect x="285" y="182" width="1" height="1" fill="#04739c"/>
<rect x="266" y="183" width="10" height="1" fill="#ffffff"/>
<rect x="274" y="183" width="1" height="1" fill="#04739c"/>
<rect x="275" y="183" width="1" height="1" fill="#04739c"/>
<rect x="266" y="184" width="7" height="1" fill="#ffffff"/>
<rect x="269" y="184" width="1" height="1" fill="#000000"/>
<rect x="271" y="184" width="1" height="1" fill="#000000"/>
<rect x="266" y="185" width="7" height="1" fill="#ffffff"/>
<rect x="266" y="186" width="9" height="1" fill="#ffffff"/>
<rect x="266" y="187" width="8" height="1" fill="#ffffff"/>
<rect x="266" y="188" width="11" height="1" fill="#ffffff"/>
<rect x="266" y="189" width="2" height="2" fill="#00ff00"/>
<rect x="266" y="191" width="7" height="1" fill="#ff00ff"/>
<rect x="266" y="192" width="8" height="1" fill="#ffffff"/>
<rect x="266" y="192" width="1" height="1" fill="#04739c"/>
<rect x="268" y="192" width="1" height="1" fill="#04739c"/>
<rect x="266" y="193" width="9" height="1" fill="#ffffff"/>
<rect x="269" y="193" width="1" height="1" fill="#04739c"/>
<rect x="266" y="194" width="10" height="1" fill="#ffffff"/>
<rect x="267" y="194" width="1" height="1" fill="#04739c"/>
<rect x="266" y="195" width="8" height="1" fill="#ffffff"/>
<rect x="273" y="195" width="1" height="1" fill="#000000"/>
<rect x="266" y="196" width="5" height="1" fill="#ffffff"/>
<rect x="266" y="197" width="3" height="2" fill="#00ff00"/>
<rect x="266" y="199" width="14" height="1" fill="#ffff00"/>
<rect x="266" y="201" width="11" height="1" fill="#ff00ff"/>
<rect x="266" y="202" width="14" height="1" fill="#ff00ff"/>
<rect x="269" y="202" width="1" height="1" fill="#04739c"/>
<rect x="278" y="202" width="1" height="1" fill="#04739c"/>
<rect x="266" y="203" width="11" height="1" fill="#ff00ff"/>
<rect x="266" y="204" width="15" height="1" fill="#ffff00"/>
<rect x="266" y="205" width="15" height="1" fill="#ffff00"/>
<rect x="215" y="218" width="11" height="1" fill="#ffff00"/>
<rect x="225" y="218" width="1" height="1" fill="#04739c"/>
<rect x="215" y="219" width="11" height="1" fill="#ffff00"/>
<rect x="215" y="220" width="9" height="1" fill="#ff00ff"/>
<rect x="215" y="221" width="10" height="1" fill="#ff00ff"/>
<rect x="215" y="222" width="11" height="1" fill="#ff00ff"/>
<rect x="215" y="223" width="5" height="1" fill="#ff00ff"/>
<rect x="215" y="224" width="12" height="1" fill="#ff00ff"/>
<rect x="215" y="225" width="11" height="1" fill="#ff00ff"/>
<rect x="225" y="225" width="1" height="1" fill="#04739c"/>
<rect x="215" y="226" width="13" height="1" fill="#ff00ff"/>
<rect x="224" y="226" width="1" height="1" fill="#000000"/>
<rect x="216" y="227" width="7" height="1" fill="#ffffff"/>
<rect x="216" y="228" width="7" height="1" fill="#ffffff"/>
<rect x="216" y="229" width="7" height="1" fill="#ffffff"/>
<rect x="215" y="230" width="9" height="1" fill="#ff00ff"/>
<rect x="215" y="231" width="6" height="1" fill="#ff00ff"/>
<rect x="215" y="232" width="6" height="1" fill="#ffffff"/>
<rect x="215" y="233" width="6" height="1" fill="#ffffff"/>
<rect x="217" y="233" width="1" height="1" fill="#04739c"/>
<rect x="220" y="233" width="1" height="1" fill="#04739c"/>
<rect x="215" y="235" width="3" height="1" fill="#00ff00"/>
<rect x="218" y="235" width="15" height="1" fill="#ffffff"/>
<rect x="218" y="235" width="1" height="1" fill="#04739c"/>
<rect x="228" y="235" width="1" height="1" fill="#04739c"/>
<rect x="218" y="236" width="14" height="1" fill="#ffffff"/>
<rect x="218" y="237" width="15" height="1" fill="#ffffff"/>
<rect x="218" y="237" width="1" height="1" fill="#000000"/>
<rect x="229" y="237" width="1" height="1" fill="#000000"/>
<rect x="218" y="238" width="17" height="1" fill="#ffffff"/>
<rect x="230" y="238" width="1" height="1" fill="#04739c"/>
<rect x="218" y="239" width="16" height="1" fill="#ffffff"/>
<rect x="215" y="236" width="3" height="1" fill="#ffffff"/>
<rect x="215" y="237" width="3" height="1" fill="#ffffff"/>
<rect x="217" y="237" width="1" height="1" fill="#000000"/>
<rect x="215" y="238" width="3" height="1" fill="#ffffff"/>
<rect x="215" y="239" width="3" height="1" fill="#ffffff"/>
<rect x="215" y="240" width="8" height="1" fill="#ffffff"/>
<rect x="215" y="241" width="19" height="1" fill="#ffffff"/>
<rect x="229" y="241" width="1" height="1" fill="#04739c"/>
<rect x="215" y="242" width="20" height="1" fill="#ffffff"/>
<rect x="215" y="243" width="10" height="1" fill="#ffffff"/>
<rect x="222" y="243" width="1" height="1" fill="#000000"/>
<rect x="215" y="244" width="19" height="1" fill="#ffffff"/>
<rect x="225" y="244" width="1" height="1" fill="#04739c"/>
<rect x="215" y="245" width="17" height="1" fill="#ffffff"/>
<rect x="216" y="245" width="1" height="1" fill="#04739c"/>
<rect x="228" y="245" width="1" height="1" fill="#04739c"/>
<rect x="215" y="246" width="17" height="1" fill="#ffffff"/>
<rect x="215" y="247" width="16" height="1" fill="#ffffff"/>
<rect x="215" y="248" width="17" height="1" fill="#ffffff"/>
<rect x="216" y="248" width="1" height="1" fill="#000000"/>
<rect x="227" y="248" width="1" height="1" fill="#000000"/>
<rect x="228" y="248" width="1" height="1" fill="#000000"/>
<rect x="229" y="248" width="1" height="1" fill="#000000"/>
<rect x="215" y="249" width="20" height="1" fill="#ffffff"/>
<rect x="215" y="250" width="18" height="1" fill="#ffffff"/>
<rect x="216" y="250" width="1" height="1" fill="#04739c"/>
<rect x="231" y="250" width="1" height="1" fill="#04739c"/>
<rect x="232" y="250" width="1" height="1" fill="#04739c"/>
<rect x="215" y="251" width="19" height="1" fill="#ffffff"/>
<rect x="228" y="251" width="1" height="1" fill="#04739c"/>
<rect x="215" y="252" width="17" height="1" fill="#ffffff"/>
<rect x="215" y="252" width="1" height="1" fill="#04739c"/>
<rect x="230" y="252" width="1" height="1" fill="#04739c"/>
<rect x="215" y="253" width="18" height="1" fill="#ffffff"/>
<rect x="215" y="254" width="18" height="1" fill="#ffffff"/>
<rect x="215" y="255" width="20" height="1" fill="#ffffff"/>
<rect x="232" y="255" width="1" height="1" fill="#04739c"/>
<rect x="215" y="256" width="19" height="1" fill="#ffffff"/>
<rect x="217" y="256" width="1" height="1" fill="#04739c"/>
<rect x="218" y="256" width="1" height="1" fill="#04739c"/>
<rect x="222" y="256" width="1" height="1" fill="#04739c"/>
<rect x="215" y="257" width="9" height="1" fill="#ffffff"/>
<rect x="215" y="258" width="17" height="1" fill="#ffffff"/>
<rect x="225" y="258" width="1" height="1" fill="#04739c"/>
<rect x="215" y="259" width="19" height="1" fill="#ffffff"/>
<rect x="219" y="259" width="1" height="1" fill="#04739c"/>
<rect x="222" y="259" width="1" height="1" fill="#04739c"/>
<rect x="215" y="260" width="19" height="1" fill="#ffffff"/>
<rect x="232" y="260" width="1" height="1" fill="#000000"/>
<rect x="215" y="261" width="19" height="1" fill="#ffffff"/>
<rect x="216" y="261" width="1" height="1" fill="#04739c"/>
<rect x="215" y="262" width="17" height="1" fill="#ffffff"/>
<rect x="219" y="262" width="1" height="1" fill="#04739c"/>
<rect x="215" y="263" width="20" height="1" fill="#ffffff"/>
<rect x="229" y="263" width="1" height="1" fill="#04739c"/>
<rect x="233" y="263" width="1" height="1" fill="#04739c"/>
<rect x="244" y="216" width="7" height="2" fill="#ff00ff"/>
<rect x="240" y="217" width="17" height="1" fill="#ffffff"/>
<rect x="242" y="217" width="1" height="1" fill="#04739c"/>
<rect x="245" y="217" width="1" height="1" fill="#04739c"/>
<rect x="250" y="217" width="1" height="1" fill="#04739c"/>
<rect x="240" y="218" width="18" height="1" fill="#ffffff"/>
<rect x="247" y="218" width="1" height="1" fill="#04739c"/>
<rect x="240" y="219" width="17" height="1" fill="#ffffff"/>
<rect x="240" y="220" width="20" height="1" fill="#ffffff"/>
<rect x="247" y="220" width="1" height="1" fill="#000000"/>
<rect x="240" y="221" width="18" height="1" fill="#ffffff"/>
<rect x="249" y="221" width="1" height="1" fill="#04739c"/>
<rect x="240" y="222" width="18" height="1" fill="#ffffff"/>
<rect x="240" y="223" width="12" height="1" fill="#ffffff"/>
<rect x="242" y="223" width="1" height="1" fill="#04739c"/>
<rect x="240" y="224" width="17" height="1" fill="#ffffff"/>
<rect x="244" y="224" width="1" height="1" fill="#04739c"/>
<rect x="240" y="225" width="18" height="1" fill="#ffffff"/>
<rect x="240" y="226" width="18" height="1" fill="#ffffff"/>
<rect x="240" y="226" width="1" height="1" fill="#000000"/>
<rect x="252" y="226" width="1" height="1" fill="#000000"/>
<rect x="257" y="226" width="1" height="1" fill="#000000"/>
<rect x="240" y="227" width="20" height="1" fill="#ffffff"/>
<rect x="240" y="228" width="19" height="1" fill="#ffffff"/>
<rect x="257" y="228" width="1" height="1" fill="#04739c"/>
<rect x="240" y="229" width="17" height="1" fill="#ffffff"/>
<rect x="250" y="229" width="1" height="1" fill="#04739c"/>
<rect x="240" y="230" width="18" height="1" fill="#ffffff"/>
<rect x="240" y="231" width="19" height="1" fill="#ffffff"/>
<rect x="248" y="231" width="1" height="1" fill="#000000"/>
<rect x="240" y="232" width="18" height="1" fill="#ffffff"/>
<rect x="240" y="233" width="13" height="1" fill="#ffffff"/>
<rect x="240" y="234" width="19" height="1" fill="#ffffff"/>
<rect x="250" y="234" width="1" height="1" fill="#04739c"/>
<rect x="240" y="235" width="19" height="1" fill="#ffffff"/>
<rect x="249" y="235" width="1" height="1" fill="#04739c"/>
<rect x="240" y="236" width="17" height="1" fill="#ffffff"/>
<rect x="240" y="237" width="18" height="1" fill="#ffffff"/>
<rect x="256" y="237" width="1" height="1" fill="#000000"/>
<rect x="240" y="238" width="17" height="1" fill="#ffffff"/>
<rect x="240" y="239" width="17" height="1" fill="#ffffff"/>
<rect x="249" y="239" width="1" height="1" fill="#04739c"/>
<rect x="240" y="240" width="14" height="1" fill="#ffffff"/>
<rect x="243" y="240" width="1" height="1" fill="#04739c"/>
<rect x="240" y="241" width="10" height="1" fill="#ffffff"/>
<rect x="240" y="242" width="17" height="1" fill="#ffffff"/>
<rect x="246" y="242" width="1" height="1" fill="#04739c"/>
<rect x="247" y="242" width="1" height="1" fill="#04739c"/>
<rect x="249" y="242" width="1" height="1" fill="#04739c"/>
<rect x="240" y="245" width="19" height="1" fill="#ffffff"/>
<rect x="253" y="245" width="1" height="1" fill="#04739c"/>
<rect x="256" y="245" width="1" height="1" fill="#04739c"/>
<rect x="240" y="246" width="20" height="1" fill="#ffffff"/>
<rect x="252" y="246" width="1" height="1" fill="#04739c"/>
<rect x="256" y="246" width="1" height="1" fill="#04739c"/>
<rect x="240" y="247" width="17" height="1" fill="#ffffff"/>
<rect x="240" y="248" width="18" height="1" fill="#ffffff"/>
<rect x="240" y="249" width="20" height="1" fill="#ffffff"/>
<rect x="246" y="249" width="1" height="1" fill="#04739c"/>
<rect x="249" y="249" width="1" height="1" fill="#04739c"/>
<rect x="240" y="250" width="18" height="1" fill="#ffffff"/>
<rect x="246" y="250" width="1" height="1" fill="#04739c"/>
<rect x="255" y="250" width="1" height="1" fill="#04739c"/>
<rect x="240" y="252" width="4" height="1" fill="#ffffff"/>
<rect x="241" y="252" width="1" height="1" fill="#04739c"/>
<rect x="240" y="253" width="4" height="1" fill="#ffffff"/>
<rect x="240" y="254" width="4" height="1" fill="#ffffff"/>
<rect x="240" y="255" width="4" height="1" fill="#ffffff"/>
<rect x="240" y="256" width="4" height="1" fill="#ffffff"/>
<rect x="240" y="257" width="4" height="1" fill="#ffffff"/>
<rect x="240" y="258" width="4" height="1" fill="#ffffff"/>
<rect x="240" y="259" width="4" height="1" fill="#ffffff"/>
<rect x="240" y="260" width="4" height="1" fill="#ffffff"/>
<rect x="240" y="261" width="4" height="1" fill="#ffffff"/>
<rect x="240" y="262" width="4" height="1" fill="#ffffff"/>
<rect x="250" y="252" width="3" height="1" fill="#ffffff"/>
<rect x="250" y="253" width="3" height="1" fill="#ffffff"/>
<rect x="250" y="254" width="3" height="1" fill="#ffffff"/>
<rect x="251" y="254" width="1" height="1" fill="#000000"/>
<rect x="250" y="255" width="3" height="1" fill="#ffffff"/>
<rect x="250" y="256" width="3" height="1" fill="#ffffff"/>
<rect x="250" y="257" width="3" height="1" fill="#ffffff"/>
<rect x="250" y="258" width="3" height="1" fill="#ffffff"/>
<rect x="250" y="259" width="3" height="1" fill="#ffffff"/>
<rect x="252" y="259" width="1" height="1" fill="#04739c"/>
<rect x="250" y="260" width="3" height="1" fill="#ffffff"/>
<rect x="250" y="261" width="3" height="1" fill="#ffffff"/>
<rect x="250" y="262" width="3" height="1" fill="#ffffff"/>
<rect x="252" y="262" width="1" height="1" fill="#04739c"/>
<rect x="258" y="252" width="2" height="1" fill="#ffffff"/>
<rect x="258" y="253" width="2" height="1" fill="#ffffff"/>
<rect x="259" y="253" width="1" height="1" fill="#04739c"/>
<rect x="258" y="254" width="2" height="1" fill="#ffffff"/>
<rect x="258" y="255" width="2" height="1" fill="#ffffff"/>
<rect x="258" y="255" width="1" height="1" fill="#04739c"/>
<rect x="258" y="256" width="2" height="1" fill="#ffffff"/>
<rect x="258" y="257" width="2" height="1" fill="#ffffff"/>
<rect x="258" y="258" width="2" height="1" fill="#ffffff"/>
<rect x="258" y="259" width="2" height="1" fill="#ffffff"/>
<rect x="258" y="260" width="2" height="1" fill="#ffffff"/>
<rect x="258" y="261" width="2" height="1" fill="#ffffff"/>
<rect x="258" y="262" width="2" height="1" fill="#ffffff"/>
<rect x="261" y="252" width="2" height="1" fill="#ffffff"/>
<rect x="261" y="253" width="2" height="1" fill="#ffffff"/>
<rect x="261" y="254" width="2" height="1" fill="#ffffff"/>
<rect x="261" y="255" width="2" height="1" fill="#ffffff"/>
<rect x="261" y="256" width="2" height="1" fill="#ffffff"/>
<rect x="261" y="257" width="2" height="1" fill="#ffffff"/>
<rect x="261" y="258" width="2" height="1" fill="#ffffff"/>
<rect x="261" y="259" width="2" height="1" fill="#ffffff"/>
<rect x="261" y="259" width="1" height="1" fill="#04739c"/>
<rect x="261" y="260" width="2" height="1" fill="#ffffff"/>
<rect x="261" y="261" width="2" height="1" fill="#ffffff"/>
<rect x="261" y="262" width="2" height="1" fill="#ffffff"/>
<rect x="266" y="217" width="3" height="2" fill="#00ff00"/>
<rect x="266" y="219" width="10" height="1" fill="#ffffff"/>
<rect x="273" y="219" width="1" height="1" fill="#04739c"/>
<rect x="274" y="219" width="1" height="1" fill="#04739c"/>
<rect x="266" y="220" width="10" height="1" fill="#ffffff"/>
<rect x="266" y="220" width="1" height="1" fill="#000000"/>
<rect x="268" y="220" width="1" height="1" fill="#000000"/>
<rect x="266" y="221" width="7" height="1" fill="#ffffff"/>
<rect x="266" y="222" width="8" height="1" fill="#ffffff"/>
<rect x="266" y="223" width="7" height="1" fill="#ffffff"/>
<rect x="266" y="223" width="1" height="1" fill="#04739c"/>
<rect x="266" y="224" width="8" height="1" fill="#ffffff"/>
<rect x="268" y="224" width="1" height="1" fill="#04739c"/>
<rect x="271" y="224" width="1" height="1" fill="#04739c"/>
<rect x="273" y="224" width="1" height="1" fill="#04739c"/>
<rect x="266" y="225" width="9" height="1" fill="#ffffff"/>
<rect x="266" y="226" width="7" height="1" fill="#ffffff"/>
<rect x="266" y="226" width="1" height="1" fill="#000000"/>
<rect x="269" y="226" width="1" height="1" fill="#000000"/>
<rect x="266" y="227" width="5" height="1" fill="#ffffff"/>
<rect x="266" y="227" width="1" height="1" fill="#04739c"/>
<rect x="266" y="229" width="6" height="1" fill="#ffffff"/>
<rect x="266" y="230" width="5" height="1" fill="#ffffff"/>
<rect x="266" y="231" width="4" height="1" fill="#ffffff"/>
<rect x="266" y="232" width="3" height="1" fill="#ff0000"/>
<rect x="265" y="234" width="12" height="1" fill="#ff0000"/>
<rect x="265" y="235" width="12" height="1" fill="#ff0000"/>
<rect x="265" y="236" width="12" height="1" fill="#ff0000"/>
<rect x="265" y="237" width="12" height="1" fill="#ff0000"/>
<rect x="275" y="237" width="1" height="1" fill="#000000"/>
<rect x="265" y="238" width="12" height="1" fill="#ff0000"/>
<rect x="265" y="238" width="1" height="1" fill="#04739c"/>
<rect x="265" y="239" width="12" height="1" fill="#ff0000"/>
<rect x="266" y="239" width="1" height="1" fill="#04739c"/>
<rect x="265" y="240" width="14" height="1" fill="#ff0000"/>
<rect x="265" y="241" width="14" height="1" fill="#ff0000"/>
<rect x="271" y="241" width="1" height="1" fill="#04739c"/>
<rect x="265" y="242" width="13" height="1" fill="#ff0000"/>
<rect x="268" y="242" width="1" height="1" fill="#04739c"/>
<rect x="266" y="243" width="9" height="1" fill="#ffffff"/>
<rect x="271" y="243" width="1" height="1" fill="#000000"/>
<rect x="266" y="244" width="9" height="1" fill="#ffffff"/>
<rect x="266" y="244" width="1" height="1" fill="#04739c"/>
<rect x="266" y="245" width="12" height="1" fill="#ffffff"/>
<rect x="276" y="245" width="1" height="1" fill="#04739c"/>
<rect x="266" y="247" width="12" height="1" fill="#ff0000"/>
<rect x="267" y="248" width="3" height="2" fill="#00ff00"/>
<rect x="266" y="249" width="7" height="1" fill="#ff0000"/>
<rect x="266" y="250" width="7" height="1" fill="#ff0000"/>
<rect x="266" y="251" width="7" height="1" fill="#ff0000"/>
<rect x="266" y="252" width="5" height="1" fill="#ffffff"/>
<rect x="268" y="252" width="1" height="1" fill="#04739c"/>
<rect x="266" y="253" width="5" height="1" fill="#ffffff"/>
<rect x="266" y="255" width="5" height="2" fill="#ff0000"/>
<rect x="266" y="257" width="13" height="1" fill="#ffffff"/>
<rect x="270" y="257" width="1" height="1" fill="#04739c"/>
<rect x="266" y="258" width="13" height="1" fill="#ffffff"/>
<rect x="266" y="259" width="13" height="1" fill="#ffffff"/>
<rect x="266" y="260" width="9" height="1" fill="#ffffff"/>
<rect x="271" y="260" width="1" height="1" fill="#000000"/>
<rect x="274" y="260" width="1" height="1" fill="#000000"/>
<rect x="266" y="261" width="13" height="1" fill="#ffffff"/>
<rect x="273" y="261" width="1" height="1" fill="#04739c"/>
<rect x="275" y="261" width="1" height="1" fill="#04739c"/>
<rect x="276" y="261" width="1" height="1" fill="#04739c"/>
<rect x="266" y="262" width="13" height="1" fill="#ffffff"/>
<rect x="269" y="262" width="1" height="1" fill="#04739c"/>
<rect x="275" y="262" width="1" height="1" fill="#04739c"/>
<rect x="276" y="262" width="1" height="1" fill="#04739c"/>
<rect x="266" y="263" width="11" height="1" fill="#ffffff"/>
<rect x="220" y="272" width="7" height="2" fill="#ff00ff"/>
<rect x="215" y="274" width="5" height="1" fill="#ffffff"/>
<rect x="227" y="274" width="1" height="1" fill="#ffffff"/>
<rect x="215" y="275" width="8" height="1" fill="#ffffff"/>
<rect x="215" y="278" width="8" height="1" fill="#ffffff"/>
<rect x="218" y="279" width="7" height="1" fill="#ffffff"/>
<rect x="215" y="280" width="9" height="1" fill="#ffffff"/>
<rect x="215" y="284" width="4" height="1" fill="#00ff00"/>
<rect x="215" y="285" width="10" height="1" fill="#ffffff"/>
<rect x="215" y="286" width="3" height="1" fill="#ffffff"/>
<rect x="222" y="286" width="5" height="1" fill="#ffffff"/>
<rect x="219" y="288" width="4" height="1" fill="#ffffff"/>
<rect x="222" y="291" width="7" height="1" fill="#ffffff"/>
<rect x="215" y="292" width="4" height="1" fill="#ffffff"/>
<rect x="223" y="292" width="6" height="1" fill="#ffffff"/>
<rect x="215" y="294" width="4" height="1" fill="#ffffff"/>
<rect x="216" y="295" width="6" height="1" fill="#ffffff"/>
<rect x="215" y="297" width="8" height="1" fill="#ffffff"/>
<rect x="218" y="299" width="10" height="1" fill="#ffffff"/>
<rect x="215" y="300" width="13" height="1" fill="#ffffff"/>
<rect x="215" y="301" width="2" height="1" fill="#ffffff"/>
<rect x="219" y="301" width="1" height="1" fill="#ffffff"/>
<rect x="221" y="301" width="1" height="1" fill="#ffffff"/>
<rect x="227" y="301" width="1" height="1" fill="#ffffff"/>
<rect x="215" y="303" width="4" height="1" fill="#00ff00"/>
<rect x="215" y="304" width="4" height="1" fill="#ffffff"/>
<rect x="215" y="305" width="8" height="1" fill="#ffffff"/>
<rect x="241" y="274" width="3" height="1" fill="#00ff00"/>
<rect x="241" y="275" width="7" height="1" fill="#ffffff"/>
<rect x="241" y="276" width="1" height="1" fill="#ffffff"/>
<rect x="243" y="276" width="2" height="1" fill="#ffffff"/>
<rect x="247" y="276" width="1" height="1" fill="#ffffff"/>
<rect x="241" y="279" width="3" height="1" fill="#ffffff"/>
<rect x="241" y="280" width="1" height="1" fill="#ffffff"/>
<rect x="255" y="280" width="9" height="1" fill="#ffffff"/>
<rect x="241" y="281" width="1" height="1" fill="#ffffff"/>
<rect x="244" y="281" width="1" height="1" fill="#ffffff"/>
<rect x="245" y="282" width="5" height="1" fill="#ffffff"/>
<rect x="253" y="282" width="11" height="1" fill="#ffffff"/>
<rect x="246" y="283" width="1" height="1" fill="#ffffff"/>
<rect x="252" y="283" width="7" height="1" fill="#ffffff"/>
<rect x="241" y="284" width="8" height="1" fill="#ffffff"/>
<rect x="258" y="284" width="1" height="1" fill="#ffffff"/>
<rect x="241" y="285" width="13" height="1" fill="#ffffff"/>
<rect x="255" y="285" width="3" height="1" fill="#ffffff"/>
<rect x="261" y="285" width="2" height="1" fill="#ffffff"/>
<rect x="241" y="286" width="8" height="1" fill="#ffffff"/>
<rect x="251" y="286" width="2" height="1" fill="#ffffff"/>
<rect x="258" y="286" width="6" height="1" fill="#ffffff"/>
<rect x="248" y="281" width="1" height="2" fill="#ff0000"/>
<rect x="253" y="281" width="1" height="2" fill="#ff0000"/>
<rect x="257" y="282" width="1" height="2" fill="#ff0000"/>
<rect x="262" y="282" width="1" height="2" fill="#ff0000"/>
<rect x="266" y="274" width="3" height="1" fill="#00ff00"/>
<rect x="269" y="275" width="8" height="1" fill="#ffffff"/>
<rect x="266" y="276" width="6" height="1" fill="#ffffff"/>
<rect x="273" y="276" width="1" height="1" fill="#ffffff"/>
<rect x="266" y="279" width="6" height="1" fill="#ffffff"/>
<rect x="266" y="285" width="26" height="1" fill="#ffffff"/>
<rect x="266" y="290" width="26" height="1" fill="#ffffff"/>
<rect x="266" y="296" width="1" height="1" fill="#ffffff"/>
<rect x="269" y="296" width="3" height="1" fill="#ffffff"/>
<rect x="278" y="296" width="9" height="1" fill="#ffffff"/>
<rect x="288" y="296" width="3" height="1" fill="#ffffff"/>
<rect x="272" y="298" width="2" height="1" fill="#ffffff"/>
<rect x="275" y="298" width="4" height="1" fill="#ffffff"/>
<rect x="266" y="299" width="15" height="1" fill="#ffffff"/>
<rect x="266" y="300" width="3" height="1" fill="#ffffff"/>
<rect x="266" y="301" width="1" height="1" fill="#ffffff"/>
<rect x="271" y="301" width="1" height="1" fill="#ffffff"/>
<rect x="283" y="301" width="3" height="1" fill="#ffffff"/>
<rect x="271" y="302" width="7" height="1" fill="#ffffff"/>
<rect x="280" y="302" width="2" height="1" fill="#ffffff"/>
<rect x="284" y="302" width="2" height="1" fill="#ffffff"/>
<rect x="267" y="303" width="2" height="1" fill="#ffffff"/>
<rect x="281" y="303" width="5" height="1" fill="#ffffff"/>
<rect x="274" y="304" width="5" height="1" fill="#ffffff"/>
<rect x="284" y="305" width="3" height="1" fill="#ffffff"/>
<rect x="266" y="306" width="21" height="1" fill="#ffffff"/>
<rect x="269" y="307" width="7" height="1" fill="#ffffff"/>
<rect x="266" y="308" width="4" height="1" fill="#ffffff"/>
<rect x="272" y="308" width="2" height="1" fill="#ffffff"/>
<rect x="266" y="309" width="21" height="1" fill="#ffffff"/>
<rect x="266" y="310" width="9" height="1" fill="#ffffff"/>
<rect x="276" y="310" width="6" height="1" fill="#ffffff"/>
<rect x="283" y="310" width="4" height="1" fill="#ffffff"/>
<rect x="266" y="311" width="2" height="1" fill="#ffffff"/>
<rect x="266" y="312" width="1" height="1" fill="#ffffff"/>
<rect x="276" y="312" width="1" height="1" fill="#ffffff"/>
<rect x="268" y="313" width="12" height="1" fill="#ffffff"/>
<rect x="285" y="313" width="2" height="1" fill="#ffffff"/>
<rect x="211" y="326" width="91" height="1" fill="#0e84b6"/>
<rect x="211" y="377" width="91" height="1" fill="#0e84b6"/>
<rect x="211" y="326" width="1" height="52" fill="#0e84b6"/>
<rect x="301" y="326" width="1" height="52" fill="#0e84b6"/>
<rect x="214" y="328" width="87" height="1" fill="#0e84b6"/>
<rect x="214" y="377" width="87" height="1" fill="#0e84b6"/>
<rect x="214" y="328" width="1" height="50" fill="#0e84b6"/>
<rect x="300" y="328" width="1" height="50" fill="#0e84b6"/>
<rect x="211" y="376" width="91" height="1" fill="#0e84b6"/>
<rect x="217" y="334" width="1" height="1" fill="#ff00ff"/>
<rect x="220" y="334" width="1" height="1" fill="#ff00ff"/>
<rect x="223" y="334" width="1" height="1" fill="#ff00ff"/>
<rect x="226" y="334" width="5" height="1" fill="#ff00ff"/>
<rect x="233" y="334" width="2" height="1" fill="#ff00ff"/>
<rect x="217" y="335" width="5" height="1" fill="#ff00ff"/>
<rect x="224" y="335" width="8" height="1" fill="#ff00ff"/>
<rect x="233" y="335" width="2" height="1" fill="#ff00ff"/>
<rect x="235" y="335" width="2" height="3" fill="#ffffff"/>
<rect x="218" y="336" width="40" height="33" fill="#466e98"/>
<rect x="235" y="338" width="3" height="28" fill="#000000"/>
<rect x="234" y="336" width="1" height="30" fill="#2a3e58"/>
<rect x="238" y="336" width="1" height="30" fill="#2a3e58"/>
<rect x="255" y="338" width="2" height="28" fill="#1a2a40"/>
<rect x="235" y="338" width="2" height="1" fill="#ff0000"/>
<rect x="235" y="341" width="2" height="1" fill="#ff0000"/>
<rect x="235" y="345" width="1" height="1" fill="#00ff00"/>
<rect x="235" y="356" width="1" height="1" fill="#00ff00"/>
<rect x="235" y="352" width="3" height="1" fill="#ffffff"/>
<rect x="255" y="339" width="1" height="2" fill="#ffffff"/>
<rect x="255" y="343" width="2" height="1" fill="#00ff00"/>
<rect x="255" y="347" width="1" height="2" fill="#ffffff"/>
<rect x="255" y="353" width="1" height="1" fill="#ffffff"/>
<rect x="255" y="360" width="2" height="1" fill="#ffffff"/>
<rect x="220" y="337" width="1" height="1" fill="#ffffff"/>
<rect x="227" y="337" width="1" height="1" fill="#ffffff"/>
<rect x="219" y="338" width="5" height="1" fill="#ffffff"/>
<rect x="223" y="339" width="5" height="1" fill="#ffffff"/>
<rect x="223" y="340" width="2" height="1" fill="#ffffff"/>
<rect x="226" y="340" width="2" height="1" fill="#ffffff"/>
<rect x="219" y="341" width="8" height="1" fill="#ffffff"/>
<rect x="219" y="342" width="6" height="1" fill="#ffffff"/>
<rect x="227" y="343" width="1" height="1" fill="#ffffff"/>
<rect x="219" y="344" width="1" height="1" fill="#ffffff"/>
<rect x="225" y="345" width="3" height="1" fill="#ffffff"/>
<rect x="219" y="346" width="7" height="1" fill="#ffffff"/>
<rect x="224" y="348" width="4" height="1" fill="#ffffff"/>
<rect x="219" y="349" width="6" height="1" fill="#ffffff"/>
<rect x="226" y="349" width="2" height="1" fill="#ffffff"/>
<rect x="219" y="350" width="3" height="1" fill="#ffffff"/>
<rect x="223" y="350" width="5" height="1" fill="#ffffff"/>
<rect x="219" y="351" width="4" height="1" fill="#ffffff"/>
<rect x="224" y="351" width="3" height="1" fill="#ffffff"/>
<rect x="220" y="353" width="6" height="1" fill="#ffffff"/>
<rect x="219" y="354" width="9" height="1" fill="#ffffff"/>
<rect x="219" y="355" width="1" height="1" fill="#ffffff"/>
<rect x="221" y="355" width="7" height="1" fill="#ffffff"/>
<rect x="219" y="356" width="7" height="1" fill="#ffffff"/>
<rect x="219" y="357" width="7" height="1" fill="#ffffff"/>
<rect x="219" y="358" width="9" height="1" fill="#ffffff"/>
<rect x="220" y="359" width="2" height="1" fill="#ffffff"/>
<rect x="224" y="359" width="4" height="1" fill="#ffffff"/>
<rect x="219" y="360" width="2" height="1" fill="#ffffff"/>
<rect x="219" y="361" width="9" height="1" fill="#ffffff"/>
<rect x="220" y="363" width="8" height="1" fill="#ffffff"/>
<rect x="222" y="364" width="4" height="1" fill="#ffffff"/>
<rect x="218" y="340" width="4" height="1" fill="#ffffff"/>
<rect x="226" y="340" width="1" height="1" fill="#ffffff"/>
<rect x="219" y="341" width="5" height="1" fill="#ffffff"/>
<rect x="226" y="341" width="1" height="1" fill="#ffffff"/>
<rect x="218" y="342" width="3" height="1" fill="#ffffff"/>
<rect x="224" y="342" width="3" height="1" fill="#ffffff"/>
<rect x="218" y="343" width="1" height="1" fill="#ffffff"/>
<rect x="225" y="343" width="2" height="1" fill="#ffffff"/>
<rect x="221" y="344" width="6" height="1" fill="#ffffff"/>
<rect x="218" y="345" width="2" height="1" fill="#ffffff"/>
<rect x="221" y="345" width="6" height="1" fill="#ffffff"/>
<rect x="218" y="346" width="9" height="1" fill="#ffffff"/>
<rect x="218" y="347" width="4" height="1" fill="#ffffff"/>
<rect x="219" y="348" width="4" height="1" fill="#ffffff"/>
<rect x="218" y="349" width="4" height="1" fill="#ffffff"/>
<rect x="229" y="338" width="4" height="1" fill="#ffffff"/>
<rect x="232" y="339" width="1" height="1" fill="#ffffff"/>
<rect x="229" y="341" width="4" height="1" fill="#ffffff"/>
<rect x="229" y="342" width="4" height="1" fill="#ffffff"/>
<rect x="230" y="346" width="3" height="1" fill="#ffffff"/>
<rect x="239" y="338" width="3" height="1" fill="#ff00ff"/>
<rect x="244" y="338" width="1" height="1" fill="#ff00ff"/>
<rect x="239" y="339" width="1" height="1" fill="#ff00ff"/>
<rect x="241" y="339" width="4" height="1" fill="#ff00ff"/>
<rect x="240" y="340" width="4" height="1" fill="#ffffff"/>
<rect x="246" y="340" width="2" height="1" fill="#ffffff"/>
<rect x="239" y="341" width="5" height="1" fill="#ffffff"/>
<rect x="240" y="342" width="2" height="1" fill="#ffffff"/>
<rect x="239" y="343" width="4" height="1" fill="#ffffff"/>
<rect x="247" y="344" width="1" height="1" fill="#ffffff"/>
<rect x="242" y="345" width="2" height="1" fill="#ffffff"/>
<rect x="246" y="345" width="2" height="1" fill="#ffffff"/>
<rect x="239" y="346" width="1" height="1" fill="#ffffff"/>
<rect x="244" y="346" width="2" height="1" fill="#ffffff"/>
<rect x="239" y="347" width="8" height="1" fill="#ffffff"/>
<rect x="245" y="348" width="1" height="1" fill="#ffffff"/>
<rect x="245" y="349" width="1" height="1" fill="#ffffff"/>
<rect x="247" y="349" width="1" height="1" fill="#ffffff"/>
<rect x="239" y="350" width="9" height="1" fill="#ffffff"/>
<rect x="239" y="351" width="9" height="1" fill="#ffffff"/>
<rect x="239" y="352" width="3" height="1" fill="#ffffff"/>
<rect x="243" y="352" width="1" height="1" fill="#ffffff"/>
<rect x="245" y="352" width="3" height="1" fill="#ffffff"/>
<rect x="239" y="353" width="2" height="1" fill="#ffffff"/>
<rect x="241" y="354" width="4" height="1" fill="#ffffff"/>
<rect x="247" y="354" width="1" height="1" fill="#ffffff"/>
<rect x="239" y="355" width="3" height="1" fill="#ffffff"/>
<rect x="243" y="355" width="3" height="1" fill="#ffffff"/>
<rect x="242" y="356" width="5" height="1" fill="#ffffff"/>
<rect x="240" y="357" width="5" height="1" fill="#ffffff"/>
<rect x="239" y="358" width="5" height="1" fill="#ffffff"/>
<rect x="239" y="359" width="2" height="1" fill="#ffffff"/>
<rect x="245" y="359" width="1" height="1" fill="#ffffff"/>
<rect x="239" y="360" width="2" height="1" fill="#ffffff"/>
<rect x="244" y="360" width="3" height="1" fill="#ffffff"/>
<rect x="239" y="361" width="1" height="1" fill="#ffffff"/>
<rect x="245" y="361" width="3" height="1" fill="#ffffff"/>
<rect x="239" y="362" width="9" height="1" fill="#ffffff"/>
<rect x="241" y="343" width="6" height="1" fill="#ffffff"/>
<rect x="240" y="344" width="4" height="1" fill="#ffffff"/>
<rect x="240" y="345" width="4" height="1" fill="#ffffff"/>
<rect x="240" y="346" width="7" height="1" fill="#ffffff"/>
<rect x="240" y="347" width="3" height="1" fill="#ffffff"/>
<rect x="245" y="347" width="2" height="1" fill="#ffffff"/>
<rect x="239" y="362" width="5" height="1" fill="#ff00ff"/>
<rect x="220" y="353" width="4" height="1" fill="#ff00ff"/>
<rect x="220" y="359" width="5" height="1" fill="#ff00ff"/>
<rect x="218" y="366" width="40" height="1" fill="#1a2a40"/>
<rect x="219" y="367" width="7" height="1" fill="#ffffff"/>
<rect x="219" y="368" width="5" height="1" fill="#ffffff"/>
<rect x="225" y="368" width="1" height="1" fill="#ffffff"/>
<rect x="227" y="368" width="12" height="1" fill="#ffffff"/>
<rect x="263" y="338" width="18" height="20" fill="#ffffff"/>
<rect x="292" y="328" width="8" height="48" fill="#ffffff"/>
<rect x="294" y="329" width="4" height="2" fill="#00ffff"/>
<rect x="293" y="332" width="7" height="3" fill="#000000"/>
<rect x="294" y="333" width="3" height="1" fill="#ffffff"/>
<rect x="293" y="336" width="7" height="1" fill="#000000"/>
<rect x="293" y="339" width="7" height="1" fill="#000000"/>
<rect x="294" y="339" width="2" height="1" fill="#00ffff"/>
<rect x="294" y="341" width="6" height="1" fill="#000000"/>
<rect x="292" y="341" width="2" height="2" fill="#00ffff"/>
<rect x="293" y="345" width="7" height="3" fill="#000000"/>
<rect x="294" y="346" width="1" height="1" fill="#ffffff"/>
<rect x="296" y="345" width="1" height="3" fill="#ffffff"/>
<rect x="292" y="349" width="7" height="11" fill="#00ffff"/>
<rect x="293" y="350" width="1" height="9" fill="#ffffff"/>
<rect x="295" y="352" width="1" height="4" fill="#ffffff"/>
<rect x="297" y="350" width="1" height="9" fill="#ffffff"/>
<rect x="292" y="349" width="1" height="11" fill="#ffffff"/>
<rect x="293" y="360" width="7" height="11" fill="#000000"/>
<rect x="293" y="371" width="7" height="4" fill="#00ffff"/>
<rect x="293" y="371" width="1" height="3" fill="#ffffff"/>
<rect x="295" y="371" width="1" height="3" fill="#ffffff"/>
<rect x="297" y="371" width="1" height="3" fill="#ffffff"/>
<rect x="211" y="383" width="91" height="1" fill="#0e84b6"/>
<rect x="211" y="434" width="91" height="1" fill="#0e84b6"/>
<rect x="211" y="383" width="1" height="52" fill="#0e84b6"/>
<rect x="301" y="383" width="1" height="52" fill="#0e84b6"/>
<rect x="214" y="384" width="87" height="1" fill="#0e84b6"/>
<rect x="214" y="434" width="87" height="1" fill="#0e84b6"/>
<rect x="214" y="384" width="1" height="51" fill="#0e84b6"/>
<rect x="300" y="384" width="1" height="51" fill="#0e84b6"/>
<rect x="245" y="386" width="7" height="1" fill="#ffff00"/>
<rect x="254" y="386" width="3" height="1" fill="#ffff00"/>
<rect x="260" y="386" width="6" height="1" fill="#ffff00"/>
<rect x="245" y="387" width="9" height="1" fill="#ffff00"/>
<rect x="256" y="387" width="9" height="1" fill="#ffff00"/>
<rect x="245" y="388" width="10" height="1" fill="#ffff00"/>
<rect x="256" y="388" width="1" height="1" fill="#ffff00"/>
<rect x="258" y="388" width="9" height="1" fill="#ffff00"/>
<rect x="221" y="385" width="5" height="1" fill="#ff0000"/>
<rect x="227" y="385" width="2" height="1" fill="#ff0000"/>
<rect x="220" y="386" width="9" height="1" fill="#ff0000"/>
<rect x="215" y="385" width="1" height="1" fill="#ffffff"/>
<rect x="217" y="385" width="2" height="1" fill="#ffffff"/>
<rect x="215" y="386" width="1" height="1" fill="#ffffff"/>
<rect x="215" y="387" width="1" height="1" fill="#ffffff"/>
<rect x="218" y="387" width="1" height="1" fill="#ffffff"/>
<line x1="215.5" y1="388.5" x2="227.5" y2="392.5" stroke="#ffffff" stroke-width="1"/>
<line x1="226.5" y1="391.5" x2="238.5" y2="389.5" stroke="#ffffff" stroke-width="1"/>
<rect x="227" y="389" width="12" height="1" fill="#ffffff"/>
<rect x="217" y="392" width="2" height="1" fill="#ffffff"/>
<rect x="220" y="392" width="5" height="1" fill="#ffffff"/>
<rect x="215" y="394" width="42" height="5" fill="#ffffff"/>
<rect x="256" y="394" width="1" height="1" fill="#ffffff"/>
<rect x="261" y="394" width="9" height="1" fill="#ffffff"/>
<rect x="272" y="394" width="10" height="1" fill="#ffffff"/>
<rect x="268" y="395" width="2" height="1" fill="#ffffff"/>
<rect x="278" y="395" width="4" height="1" fill="#ffffff"/>
<rect x="259" y="396" width="21" height="1" fill="#ffffff"/>
<rect x="256" y="397" width="3" height="1" fill="#ffffff"/>
<rect x="263" y="397" width="13" height="1" fill="#ffffff"/>
<rect x="277" y="397" width="1" height="1" fill="#ffffff"/>
<rect x="256" y="398" width="2" height="1" fill="#ffffff"/>
<rect x="260" y="398" width="2" height="1" fill="#ffffff"/>
<rect x="276" y="398" width="6" height="1" fill="#ffffff"/>
<rect x="218" y="396" width="2" height="1" fill="#ff0000"/>
<rect x="222" y="396" width="2" height="1" fill="#ff0000"/>
<rect x="226" y="396" width="2" height="1" fill="#ff0000"/>
<rect x="230" y="396" width="2" height="1" fill="#ff0000"/>
<rect x="234" y="396" width="2" height="1" fill="#ff0000"/>
<rect x="238" y="396" width="2" height="1" fill="#ff0000"/>
<rect x="242" y="396" width="2" height="1" fill="#ff0000"/>
<rect x="246" y="396" width="2" height="1" fill="#ff0000"/>
<rect x="250" y="396" width="2" height="1" fill="#ff0000"/>
<rect x="254" y="396" width="2" height="1" fill="#ff0000"/>
<rect x="258" y="396" width="2" height="1" fill="#ff0000"/>
<rect x="263" y="396" width="2" height="1" fill="#ff0000"/>
<rect x="268" y="396" width="2" height="1" fill="#ff0000"/>
<rect x="273" y="396" width="2" height="1" fill="#ff0000"/>
<rect x="278" y="396" width="2" height="1" fill="#ff0000"/>
<rect x="218" y="395" width="1" height="1" fill="#000000"/>
<rect x="225" y="395" width="1" height="1" fill="#000000"/>
<rect x="232" y="395" width="1" height="1" fill="#000000"/>
<rect x="239" y="395" width="1" height="1" fill="#000000"/>
<rect x="246" y="395" width="1" height="1" fill="#000000"/>
<rect x="253" y="395" width="1" height="1" fill="#000000"/>
<rect x="215" y="399" width="42" height="6" fill="#ffffff"/>
<rect x="215" y="399" width="42" height="1" fill="#000000"/>
<rect x="215" y="399" width="1" height="6" fill="#000000"/>
<rect x="222" y="399" width="1" height="6" fill="#000000"/>
<rect x="229" y="399" width="1" height="6" fill="#000000"/>
<rect x="236" y="399" width="1" height="6" fill="#000000"/>
<rect x="243" y="399" width="1" height="6" fill="#000000"/>
<rect x="250" y="399" width="1" height="6" fill="#000000"/>
<rect x="217" y="401" width="3" height="1" fill="#000000"/>
<rect x="236" y="401" width="4" height="1" fill="#000000"/>
<rect x="241" y="401" width="5" height="1" fill="#000000"/>
<rect x="247" y="401" width="8" height="1" fill="#000000"/>
<rect x="222" y="402" width="1" height="1" fill="#000000"/>
<rect x="228" y="402" width="19" height="1" fill="#000000"/>
<rect x="217" y="403" width="5" height="1" fill="#000000"/>
<rect x="225" y="403" width="6" height="1" fill="#000000"/>
<rect x="246" y="403" width="9" height="1" fill="#000000"/>
<rect x="258" y="402" width="23" height="1" fill="#ffffff"/>
<rect x="215" y="405" width="77" height="8" fill="#ffffff"/>
<rect x="218" y="406" width="1" height="1" fill="#ff0000"/>
<rect x="243" y="406" width="3" height="1" fill="#ff0000"/>
<rect x="220" y="407" width="1" height="1" fill="#ff0000"/>
<rect x="222" y="407" width="6" height="1" fill="#ff0000"/>
<rect x="231" y="407" width="1" height="1" fill="#ff0000"/>
<rect x="240" y="407" width="6" height="1" fill="#ff0000"/>
<rect x="254" y="407" width="3" height="1" fill="#ff0000"/>
<rect x="218" y="408" width="14" height="1" fill="#ff0000"/>
<rect x="233" y="408" width="1" height="1" fill="#ff0000"/>
<rect x="239" y="408" width="7" height="1" fill="#ff0000"/>
<rect x="249" y="408" width="3" height="1" fill="#ff0000"/>
<rect x="233" y="409" width="4" height="1" fill="#ff0000"/>
<rect x="241" y="409" width="16" height="1" fill="#ff0000"/>
<rect x="227" y="410" width="5" height="1" fill="#ff0000"/>
<rect x="255" y="410" width="2" height="1" fill="#ff0000"/>
<rect x="218" y="411" width="6" height="1" fill="#ff0000"/>
<rect x="256" y="411" width="1" height="1" fill="#ff0000"/>
<rect x="238" y="407" width="2" height="1" fill="#000000"/>
<rect x="243" y="408" width="1" height="1" fill="#000000"/>
<rect x="256" y="410" width="1" height="1" fill="#000000"/>
<rect x="262" y="411" width="4" height="1" fill="#ff0000"/>
<rect x="274" y="411" width="10" height="1" fill="#ff0000"/>
<rect x="269" y="412" width="9" height="1" fill="#ff0000"/>
<rect x="265" y="407" width="1" height="1" fill="#000000"/>
<rect x="271" y="407" width="1" height="1" fill="#000000"/>
<rect x="268" y="409" width="4" height="1" fill="#000000"/>
<rect x="215" y="415" width="43" height="16" fill="#ffffff"/>
<rect x="217" y="419" width="1" height="1" fill="#ff0000"/>
<rect x="223" y="419" width="1" height="1" fill="#ff0000"/>
<rect x="225" y="419" width="4" height="1" fill="#ff0000"/>
<rect x="217" y="420" width="4" height="1" fill="#ff0000"/>
<rect x="221" y="421" width="8" height="1" fill="#ff0000"/>
<rect x="217" y="422" width="4" height="1" fill="#ff0000"/>
<rect x="229" y="423" width="3" height="1" fill="#ff0000"/>
<rect x="229" y="424" width="3" height="1" fill="#ff0000"/>
<rect x="226" y="425" width="6" height="1" fill="#ff0000"/>
<rect x="217" y="426" width="4" height="1" fill="#ff0000"/>
<rect x="221" y="427" width="2" height="1" fill="#ff0000"/>
<rect x="225" y="427" width="7" height="1" fill="#ff0000"/>
<rect x="217" y="428" width="7" height="1" fill="#ff0000"/>
<rect x="227" y="428" width="1" height="1" fill="#ff0000"/>
<rect x="217" y="429" width="9" height="1" fill="#ff0000"/>
<rect x="243" y="421" width="1" height="1" fill="#ff0000"/>
<rect x="240" y="422" width="9" height="1" fill="#ff0000"/>
<rect x="254" y="422" width="4" height="1" fill="#ff0000"/>
<rect x="236" y="423" width="5" height="1" fill="#ff0000"/>
<rect x="236" y="424" width="6" height="1" fill="#ff0000"/>
<rect x="248" y="424" width="3" height="1" fill="#ff0000"/>
<rect x="253" y="424" width="5" height="1" fill="#ff0000"/>
<rect x="239" y="425" width="3" height="1" fill="#ff0000"/>
<rect x="245" y="426" width="1" height="1" fill="#ff0000"/>
<rect x="236" y="427" width="4" height="1" fill="#ff0000"/>
<rect x="249" y="427" width="2" height="1" fill="#ff0000"/>
<rect x="254" y="429" width="4" height="1" fill="#ff0000"/>
<rect x="220" y="417" width="2" height="1" fill="#000000"/>
<rect x="255" y="417" width="3" height="1" fill="#000000"/>
<rect x="217" y="418" width="3" height="1" fill="#000000"/>
<rect x="224" y="418" width="11" height="1" fill="#000000"/>
<rect x="238" y="418" width="18" height="1" fill="#000000"/>
<rect x="232" y="420" width="13" height="1" fill="#000000"/>
<rect x="247" y="421" width="7" height="1" fill="#000000"/>
<rect x="235" y="422" width="12" height="1" fill="#000000"/>
<rect x="232" y="423" width="4" height="1" fill="#000000"/>
<rect x="240" y="424" width="5" height="1" fill="#000000"/>
<rect x="250" y="424" width="7" height="1" fill="#000000"/>
<rect x="235" y="425" width="16" height="1" fill="#000000"/>
<rect x="246" y="426" width="3" height="1" fill="#000000"/>
<rect x="232" y="427" width="1" height="1" fill="#000000"/>
<rect x="250" y="427" width="1" height="1" fill="#000000"/>
<rect x="232" y="428" width="4" height="1" fill="#000000"/>
<rect x="244" y="428" width="9" height="1" fill="#000000"/>
<line x1="247.5" y1="416.5" x2="262.5" y2="412.5" stroke="#ffffff" stroke-width="1"/>
<line x1="267.5" y1="403.5" x2="291.5" y2="389.5" stroke="#ffffff" stroke-width="1"/>
<line x1="263.5" y1="413.5" x2="291.5" y2="429.5" stroke="#ffffff" stroke-width="1"/>
<line x1="257.5" y1="416.5" x2="263.5" y2="413.5" stroke="#ffffff" stroke-width="1"/>
<rect x="292" y="385" width="8" height="48" fill="#ffffff"/>
<rect x="294" y="386" width="4" height="2" fill="#00ffff"/>
<rect x="293" y="389" width="7" height="3" fill="#000000"/>
<rect x="294" y="390" width="3" height="1" fill="#ffffff"/>
<rect x="293" y="393" width="7" height="1" fill="#000000"/>
<rect x="293" y="396" width="7" height="1" fill="#000000"/>
<rect x="294" y="396" width="2" height="1" fill="#00ffff"/>
<rect x="294" y="398" width="6" height="1" fill="#000000"/>
<rect x="292" y="398" width="2" height="2" fill="#00ffff"/>
<rect x="293" y="402" width="7" height="3" fill="#000000"/>
<rect x="294" y="403" width="1" height="1" fill="#ffffff"/>
<rect x="296" y="402" width="1" height="3" fill="#ffffff"/>
<rect x="292" y="406" width="7" height="11" fill="#00ffff"/>
<rect x="293" y="407" width="1" height="9" fill="#ffffff"/>
<rect x="295" y="409" width="1" height="4" fill="#ffffff"/>
<rect x="297" y="407" width="1" height="9" fill="#ffffff"/>
<rect x="292" y="406" width="1" height="11" fill="#ffffff"/>
<rect x="293" y="417" width="7" height="11" fill="#000000"/>
<rect x="293" y="428" width="7" height="4" fill="#00ffff"/>
<rect x="293" y="428" width="1" height="3" fill="#ffffff"/>
<rect x="295" y="428" width="1" height="3" fill="#ffffff"/>
<rect x="297" y="428" width="1" height="3" fill="#ffffff"/>
<rect x="367" y="157" width="73" height="1" fill="#0e84b6"/>
<rect x="367" y="207" width="73" height="1" fill="#0e84b6"/>
<rect x="367" y="157" width="1" height="51" fill="#0e84b6"/>
<rect x="439" y="157" width="1" height="51" fill="#0e84b6"/>
<rect x="370" y="158" width="70" height="1" fill="#0e84b6"/>
<rect x="370" y="206" width="70" height="1" fill="#0e84b6"/>
<rect x="370" y="158" width="1" height="49" fill="#0e84b6"/>
<rect x="439" y="158" width="1" height="49" fill="#0e84b6"/>
<rect x="360" y="157" width="8" height="1" fill="#a82028"/>
<rect x="367" y="152" width="1" height="6" fill="#a82028"/>
<rect x="430" y="158" width="8" height="49" fill="#ffffff"/>
<rect x="432" y="159" width="4" height="2" fill="#00ffff"/>
<rect x="431" y="162" width="7" height="3" fill="#000000"/>
<rect x="432" y="163" width="3" height="1" fill="#ffffff"/>
<rect x="431" y="166" width="7" height="1" fill="#000000"/>
<rect x="431" y="169" width="7" height="1" fill="#000000"/>
<rect x="432" y="169" width="2" height="1" fill="#00ffff"/>
<rect x="432" y="172" width="6" height="1" fill="#000000"/>
<rect x="430" y="172" width="2" height="2" fill="#00ffff"/>
<rect x="431" y="176" width="7" height="3" fill="#000000"/>
<rect x="432" y="177" width="1" height="1" fill="#ffffff"/>
<rect x="434" y="176" width="1" height="3" fill="#ffffff"/>
<rect x="430" y="180" width="7" height="10" fill="#00ffff"/>
<rect x="431" y="181" width="1" height="8" fill="#ffffff"/>
<rect x="433" y="182" width="1" height="4" fill="#ffffff"/>
<rect x="435" y="181" width="1" height="8" fill="#ffffff"/>
<rect x="430" y="180" width="1" height="10" fill="#ffffff"/>
<rect x="431" y="190" width="7" height="12" fill="#000000"/>
<rect x="431" y="202" width="7" height="4" fill="#00ffff"/>
<rect x="431" y="202" width="1" height="3" fill="#ffffff"/>
<rect x="433" y="202" width="1" height="3" fill="#ffffff"/>
<rect x="435" y="202" width="1" height="3" fill="#ffffff"/>
<rect x="367" y="212" width="73" height="1" fill="#0e84b6"/>
<rect x="367" y="263" width="73" height="1" fill="#0e84b6"/>
<rect x="367" y="212" width="1" height="52" fill="#0e84b6"/>
<rect x="439" y="212" width="1" height="52" fill="#0e84b6"/>
<rect x="370" y="213" width="70" height="1" fill="#0e84b6"/>
<rect x="370" y="262" width="70" height="1" fill="#0e84b6"/>
<rect x="370" y="213" width="1" height="50" fill="#0e84b6"/>
<rect x="439" y="213" width="1" height="50" fill="#0e84b6"/>
<rect x="360" y="212" width="8" height="1" fill="#a82028"/>
<rect x="367" y="207" width="1" height="6" fill="#a82028"/>
<rect x="430" y="213" width="8" height="50" fill="#ffffff"/>
<rect x="432" y="214" width="4" height="2" fill="#00ffff"/>
<rect x="431" y="217" width="7" height="3" fill="#000000"/>
<rect x="432" y="218" width="3" height="1" fill="#ffffff"/>
<rect x="431" y="221" width="7" height="1" fill="#000000"/>
<rect x="431" y="224" width="7" height="1" fill="#000000"/>
<rect x="432" y="224" width="2" height="1" fill="#00ffff"/>
<rect x="432" y="227" width="6" height="1" fill="#000000"/>
<rect x="430" y="227" width="2" height="2" fill="#00ffff"/>
<rect x="431" y="231" width="7" height="3" fill="#000000"/>
<rect x="432" y="232" width="1" height="1" fill="#ffffff"/>
<rect x="434" y="231" width="1" height="3" fill="#ffffff"/>
<rect x="430" y="235" width="7" height="11" fill="#00ffff"/>
<rect x="431" y="236" width="1" height="9" fill="#ffffff"/>
<rect x="433" y="238" width="1" height="4" fill="#ffffff"/>
<rect x="435" y="236" width="1" height="9" fill="#ffffff"/>
<rect x="430" y="235" width="1" height="11" fill="#ffffff"/>
<rect x="431" y="246" width="7" height="12" fill="#000000"/>
<rect x="431" y="258" width="7" height="4" fill="#00ffff"/>
<rect x="431" y="258" width="1" height="3" fill="#ffffff"/>
<rect x="433" y="258" width="1" height="3" fill="#ffffff"/>
<rect x="435" y="258" width="1" height="3" fill="#ffffff"/>
<rect x="367" y="268" width="73" height="1" fill="#0e84b6"/>
<rect x="367" y="319" width="73" height="1" fill="#0e84b6"/>
<rect x="367" y="268" width="1" height="52" fill="#0e84b6"/>
<rect x="439" y="268" width="1" height="52" fill="#0e84b6"/>
<rect x="370" y="269" width="70" height="1" fill="#0e84b6"/>
<rect x="370" y="318" width="70" height="1" fill="#0e84b6"/>
<rect x="370" y="269" width="1" height="50" fill="#0e84b6"/>
<rect x="439" y="269" width="1" height="50" fill="#0e84b6"/>
<rect x="360" y="268" width="8" height="1" fill="#a82028"/>
<rect x="367" y="263" width="1" height="6" fill="#a82028"/>
<rect x="430" y="269" width="8" height="50" fill="#ffffff"/>
<rect x="432" y="270" width="4" height="2" fill="#00ffff"/>
<rect x="431" y="273" width="7" height="3" fill="#000000"/>
<rect x="432" y="274" width="3" height="1" fill="#ffffff"/>
<rect x="431" y="277" width="7" height="1" fill="#000000"/>
<rect x="431" y="280" width="7" height="1" fill="#000000"/>
<rect x="432" y="280" width="2" height="1" fill="#00ffff"/>
<rect x="432" y="283" width="6" height="1" fill="#000000"/>
<rect x="430" y="283" width="2" height="2" fill="#00ffff"/>
<rect x="431" y="287" width="7" height="3" fill="#000000"/>
<rect x="432" y="288" width="1" height="1" fill="#ffffff"/>
<rect x="434" y="287" width="1" height="3" fill="#ffffff"/>
<rect x="430" y="291" width="7" height="11" fill="#00ffff"/>
<rect x="431" y="292" width="1" height="9" fill="#ffffff"/>
<rect x="433" y="294" width="1" height="4" fill="#ffffff"/>
<rect x="435" y="292" width="1" height="9" fill="#ffffff"/>
<rect x="430" y="291" width="1" height="11" fill="#ffffff"/>
<rect x="431" y="302" width="7" height="12" fill="#000000"/>
<rect x="431" y="314" width="7" height="4" fill="#00ffff"/>
<rect x="431" y="314" width="1" height="3" fill="#ffffff"/>
<rect x="433" y="314" width="1" height="3" fill="#ffffff"/>
<rect x="435" y="314" width="1" height="3" fill="#ffffff"/>
<rect x="367" y="324" width="73" height="1" fill="#0e84b6"/>
<rect x="367" y="375" width="73" height="1" fill="#0e84b6"/>
<rect x="367" y="324" width="1" height="52" fill="#0e84b6"/>
<rect x="439" y="324" width="1" height="52" fill="#0e84b6"/>
<rect x="370" y="325" width="70" height="1" fill="#0e84b6"/>
<rect x="370" y="374" width="70" height="1" fill="#0e84b6"/>
<rect x="370" y="325" width="1" height="50" fill="#0e84b6"/>
<rect x="439" y="325" width="1" height="50" fill="#0e84b6"/>
<rect x="360" y="324" width="8" height="1" fill="#a82028"/>
<rect x="367" y="319" width="1" height="6" fill="#a82028"/>
<rect x="430" y="325" width="8" height="50" fill="#ffffff"/>
<rect x="432" y="326" width="4" height="2" fill="#00ffff"/>
<rect x="431" y="329" width="7" height="3" fill="#000000"/>
<rect x="432" y="330" width="3" height="1" fill="#ffffff"/>
<rect x="431" y="333" width="7" height="1" fill="#000000"/>
<rect x="431" y="336" width="7" height="1" fill="#000000"/>
<rect x="432" y="336" width="2" height="1" fill="#00ffff"/>
<rect x="432" y="339" width="6" height="1" fill="#000000"/>
<rect x="430" y="339" width="2" height="2" fill="#00ffff"/>
<rect x="431" y="343" width="7" height="3" fill="#000000"/>
<rect x="432" y="344" width="1" height="1" fill="#ffffff"/>
<rect x="434" y="343" width="1" height="3" fill="#ffffff"/>
<rect x="430" y="347" width="7" height="11" fill="#00ffff"/>
<rect x="431" y="348" width="1" height="9" fill="#ffffff"/>
<rect x="433" y="350" width="1" height="4" fill="#ffffff"/>
<rect x="435" y="348" width="1" height="9" fill="#ffffff"/>
<rect x="430" y="347" width="1" height="11" fill="#ffffff"/>
<rect x="431" y="358" width="7" height="12" fill="#000000"/>
<rect x="431" y="370" width="7" height="4" fill="#00ffff"/>
<rect x="431" y="370" width="1" height="3" fill="#ffffff"/>
<rect x="433" y="370" width="1" height="3" fill="#ffffff"/>
<rect x="435" y="370" width="1" height="3" fill="#ffffff"/>
<rect x="371" y="158" width="42" height="6" fill="#0e84b6"/>
<rect x="371" y="158" width="6" height="1" fill="#ffffff"/>
<rect x="372" y="159" width="4" height="1" fill="#ffffff"/>
<rect x="371" y="160" width="3" height="1" fill="#ffffff"/>
<rect x="375" y="160" width="7" height="1" fill="#ffffff"/>
<rect x="371" y="161" width="3" height="1" fill="#ffffff"/>
<rect x="377" y="161" width="2" height="1" fill="#ffffff"/>
<rect x="373" y="162" width="1" height="1" fill="#ffffff"/>
<rect x="375" y="162" width="8" height="1" fill="#ffffff"/>
<rect x="390" y="158" width="4" height="1" fill="#ffffff"/>
<rect x="397" y="158" width="1" height="1" fill="#ffffff"/>
<rect x="390" y="159" width="7" height="1" fill="#ffffff"/>
<rect x="390" y="160" width="1" height="1" fill="#ffffff"/>
<rect x="393" y="160" width="3" height="1" fill="#ffffff"/>
<rect x="397" y="160" width="3" height="1" fill="#ffffff"/>
<rect x="391" y="161" width="2" height="1" fill="#ffffff"/>
<rect x="390" y="162" width="3" height="1" fill="#ffffff"/>
<rect x="396" y="162" width="6" height="1" fill="#ffffff"/>
<rect x="393" y="159" width="6" height="3" fill="#ffffff"/>
<rect x="370" y="204" width="8" height="1" fill="#ffffff"/>
<rect x="379" y="204" width="3" height="1" fill="#ffffff"/>
<rect x="384" y="204" width="6" height="1" fill="#ffffff"/>
<rect x="370" y="205" width="6" height="1" fill="#ffffff"/>
<rect x="380" y="205" width="6" height="1" fill="#ffffff"/>
<rect x="387" y="205" width="3" height="1" fill="#ffffff"/>
<rect x="370" y="206" width="2" height="1" fill="#ffffff"/>
<rect x="373" y="206" width="1" height="1" fill="#ffffff"/>
<rect x="375" y="206" width="1" height="1" fill="#ffffff"/>
<rect x="378" y="206" width="2" height="1" fill="#ffffff"/>
<rect x="381" y="206" width="1" height="1" fill="#ffffff"/>
<rect x="383" y="206" width="7" height="1" fill="#ffffff"/>
<rect x="385" y="166" width="31" height="2" fill="#3c8c0c"/>
<rect x="385" y="168" width="6" height="1" fill="#ffffff"/>
<rect x="395" y="168" width="6" height="1" fill="#ffffff"/>
<rect x="403" y="168" width="6" height="1" fill="#ffffff"/>
<rect x="385" y="169" width="12" height="1" fill="#ffffff"/>
<rect x="399" y="169" width="14" height="1" fill="#ffffff"/>
<rect x="385" y="165" width="1" height="1" fill="#ffffff"/>
<rect x="385" y="165" width="1" height="5" fill="#3c8c0c"/>
<rect x="394" y="165" width="1" height="1" fill="#ffffff"/>
<rect x="394" y="165" width="1" height="5" fill="#3c8c0c"/>
<rect x="404" y="165" width="1" height="1" fill="#ffffff"/>
<rect x="404" y="165" width="1" height="5" fill="#3c8c0c"/>
<rect x="413" y="165" width="1" height="1" fill="#ffffff"/>
<rect x="413" y="165" width="1" height="5" fill="#3c8c0c"/>
<rect x="385" y="170" width="2" height="1" fill="#b8821e"/>
<rect x="388" y="170" width="7" height="1" fill="#b8821e"/>
<rect x="403" y="170" width="1" height="1" fill="#b8821e"/>
<rect x="405" y="170" width="5" height="1" fill="#b8821e"/>
<rect x="411" y="170" width="3" height="1" fill="#b8821e"/>
<rect x="380" y="170" width="1" height="22" fill="#4a8216"/>
<rect x="420" y="170" width="1" height="22" fill="#4a8216"/>
<rect x="378" y="170" width="6" height="1" fill="#4a8216"/>
<rect x="378" y="191" width="6" height="1" fill="#4a8216"/>
<rect x="418" y="170" width="6" height="1" fill="#4a8216"/>
<rect x="418" y="191" width="6" height="1" fill="#4a8216"/>
<rect x="378" y="172" width="3" height="1" fill="#ffffff"/>
<rect x="420" y="172" width="3" height="1" fill="#ffffff"/>
<rect x="377" y="173" width="1" height="1" fill="#ffffff"/>
<rect x="423" y="173" width="1" height="1" fill="#ffffff"/>
<rect x="381" y="174" width="2" height="1" fill="#00ff00"/>
<rect x="418" y="174" width="2" height="1" fill="#00ff00"/>
<rect x="378" y="176" width="3" height="1" fill="#ffffff"/>
<rect x="420" y="176" width="3" height="1" fill="#ffffff"/>
<rect x="381" y="178" width="2" height="1" fill="#00ff00"/>
<rect x="418" y="178" width="2" height="1" fill="#00ff00"/>
<rect x="378" y="180" width="3" height="1" fill="#ffffff"/>
<rect x="420" y="180" width="3" height="1" fill="#ffffff"/>
<rect x="377" y="181" width="1" height="1" fill="#ffffff"/>
<rect x="423" y="181" width="1" height="1" fill="#ffffff"/>
<rect x="381" y="182" width="2" height="1" fill="#00ff00"/>
<rect x="418" y="182" width="2" height="1" fill="#00ff00"/>
<rect x="378" y="184" width="3" height="1" fill="#ffffff"/>
<rect x="420" y="184" width="3" height="1" fill="#ffffff"/>
<rect x="381" y="186" width="2" height="1" fill="#00ff00"/>
<rect x="418" y="186" width="2" height="1" fill="#00ff00"/>
<rect x="378" y="188" width="3" height="1" fill="#ffffff"/>
<rect x="420" y="188" width="3" height="1" fill="#ffffff"/>
<rect x="377" y="189" width="1" height="1" fill="#ffffff"/>
<rect x="423" y="189" width="1" height="1" fill="#ffffff"/>
<rect x="381" y="190" width="2" height="1" fill="#00ff00"/>
<rect x="418" y="190" width="2" height="1" fill="#00ff00"/>
<rect x="385" y="171" width="31" height="1" fill="#ffffff"/>
<rect x="385" y="190" width="31" height="1" fill="#ffffff"/>
<rect x="385" y="171" width="1" height="20" fill="#ffffff"/>
<rect x="415" y="171" width="1" height="20" fill="#ffffff"/>
<rect x="385" y="179" width="31" height="1" fill="#d0d0d0"/>
<rect x="385" y="182" width="31" height="1" fill="#d0d0d0"/>
<rect x="390" y="171" width="1" height="9" fill="#c8c8c8"/>
<rect x="390" y="182" width="1" height="9" fill="#c8c8c8"/>
<rect x="396" y="171" width="1" height="9" fill="#c8c8c8"/>
<rect x="396" y="182" width="1" height="9" fill="#c8c8c8"/>
<rect x="401" y="171" width="1" height="9" fill="#c8c8c8"/>
<rect x="401" y="182" width="1" height="9" fill="#c8c8c8"/>
<rect x="405" y="171" width="1" height="9" fill="#c8c8c8"/>
<rect x="405" y="182" width="1" height="9" fill="#c8c8c8"/>
<rect x="410" y="171" width="1" height="9" fill="#c8c8c8"/>
<rect x="410" y="182" width="1" height="9" fill="#c8c8c8"/>
<rect x="395" y="172" width="5" height="1" fill="#c8c8c8"/>
<rect x="403" y="172" width="5" height="1" fill="#c8c8c8"/>
<rect x="414" y="172" width="1" height="1" fill="#c8c8c8"/>
<rect x="397" y="173" width="2" height="1" fill="#c8c8c8"/>
<rect x="406" y="174" width="6" height="1" fill="#c8c8c8"/>
<rect x="386" y="175" width="6" height="1" fill="#c8c8c8"/>
<rect x="394" y="175" width="1" height="1" fill="#c8c8c8"/>
<rect x="408" y="175" width="3" height="1" fill="#c8c8c8"/>
<rect x="388" y="176" width="9" height="1" fill="#c8c8c8"/>
<rect x="399" y="176" width="6" height="1" fill="#c8c8c8"/>
<rect x="386" y="177" width="13" height="1" fill="#c8c8c8"/>
<rect x="406" y="177" width="3" height="1" fill="#c8c8c8"/>
<rect x="386" y="183" width="3" height="1" fill="#c8c8c8"/>
<rect x="402" y="183" width="13" height="1" fill="#c8c8c8"/>
<rect x="401" y="184" width="4" height="1" fill="#c8c8c8"/>
<rect x="386" y="185" width="3" height="1" fill="#c8c8c8"/>
<rect x="402" y="185" width="1" height="1" fill="#c8c8c8"/>
<rect x="386" y="186" width="4" height="1" fill="#c8c8c8"/>
<rect x="392" y="187" width="5" height="1" fill="#c8c8c8"/>
<rect x="414" y="187" width="1" height="1" fill="#c8c8c8"/>
<rect x="391" y="188" width="2" height="1" fill="#c8c8c8"/>
<rect x="403" y="188" width="2" height="1" fill="#c8c8c8"/>
<rect x="386" y="189" width="4" height="1" fill="#c8c8c8"/>
<rect x="392" y="189" width="6" height="1" fill="#c8c8c8"/>
<rect x="410" y="189" width="5" height="1" fill="#c8c8c8"/>
<rect x="386" y="180" width="1" height="1" fill="#ffffff"/>
<rect x="391" y="180" width="2" height="1" fill="#ffffff"/>
<rect x="396" y="180" width="1" height="1" fill="#ffffff"/>
<rect x="412" y="180" width="1" height="1" fill="#ffffff"/>
<rect x="386" y="181" width="1" height="1" fill="#ffffff"/>
<rect x="396" y="181" width="2" height="1" fill="#ffffff"/>
<rect x="402" y="181" width="13" height="1" fill="#ffffff"/>
<rect x="386" y="171" width="1" height="1" fill="#1e90ff"/>
<rect x="387" y="190" width="1" height="1" fill="#1e90ff"/>
<rect x="389" y="171" width="1" height="1" fill="#1e90ff"/>
<rect x="390" y="190" width="1" height="1" fill="#1e90ff"/>
<rect x="392" y="171" width="1" height="1" fill="#1e90ff"/>
<rect x="393" y="190" width="1" height="1" fill="#1e90ff"/>
<rect x="395" y="171" width="1" height="1" fill="#1e90ff"/>
<rect x="396" y="190" width="1" height="1" fill="#1e90ff"/>
<rect x="398" y="171" width="1" height="1" fill="#1e90ff"/>
<rect x="399" y="190" width="1" height="1" fill="#1e90ff"/>
<rect x="401" y="171" width="1" height="1" fill="#1e90ff"/>
<rect x="402" y="190" width="1" height="1" fill="#1e90ff"/>
<rect x="404" y="171" width="1" height="1" fill="#1e90ff"/>
<rect x="405" y="190" width="1" height="1" fill="#1e90ff"/>
<rect x="407" y="171" width="1" height="1" fill="#1e90ff"/>
<rect x="408" y="190" width="1" height="1" fill="#1e90ff"/>
<rect x="410" y="171" width="1" height="1" fill="#1e90ff"/>
<rect x="411" y="190" width="1" height="1" fill="#1e90ff"/>
<rect x="413" y="171" width="1" height="1" fill="#1e90ff"/>
<rect x="414" y="190" width="1" height="1" fill="#1e90ff"/>
<rect x="391" y="183" width="1" height="1" fill="#1e90ff"/>
<rect x="391" y="187" width="1" height="1" fill="#1e90ff"/>
<rect x="397" y="183" width="1" height="1" fill="#1e90ff"/>
<rect x="397" y="187" width="1" height="1" fill="#1e90ff"/>
<rect x="402" y="183" width="1" height="1" fill="#1e90ff"/>
<rect x="402" y="187" width="1" height="1" fill="#1e90ff"/>
<rect x="385" y="194" width="31" height="1" fill="#4a8216"/>
<rect x="385" y="197" width="31" height="1" fill="#4a8216"/>
<rect x="400" y="195" width="7" height="1" fill="#ffffff"/>
<rect x="386" y="196" width="6" height="1" fill="#ffffff"/>
<rect x="393" y="196" width="6" height="1" fill="#ffffff"/>
<rect x="402" y="196" width="12" height="1" fill="#ffffff"/>
<rect x="385" y="193" width="1" height="6" fill="#4a8216"/>
<rect x="392" y="193" width="1" height="6" fill="#4a8216"/>
<rect x="400" y="193" width="1" height="6" fill="#4a8216"/>
<rect x="408" y="193" width="1" height="6" fill="#4a8216"/>
<rect x="415" y="193" width="1" height="6" fill="#4a8216"/>
<rect x="371" y="213" width="42" height="6" fill="#0e84b6"/>
<rect x="371" y="213" width="2" height="1" fill="#ffffff"/>
<rect x="378" y="213" width="1" height="1" fill="#ffffff"/>
<rect x="371" y="214" width="8" height="1" fill="#ffffff"/>
<rect x="371" y="215" width="3" height="1" fill="#ffffff"/>
<rect x="376" y="215" width="3" height="1" fill="#ffffff"/>
<rect x="381" y="215" width="2" height="1" fill="#ffffff"/>
<rect x="372" y="216" width="7" height="1" fill="#ffffff"/>
<rect x="371" y="217" width="12" height="1" fill="#ffffff"/>
<rect x="390" y="213" width="1" height="1" fill="#ffffff"/>
<rect x="396" y="213" width="2" height="1" fill="#ffffff"/>
<rect x="399" y="213" width="2" height="1" fill="#ffffff"/>
<rect x="394" y="214" width="2" height="1" fill="#ffffff"/>
<rect x="393" y="215" width="3" height="1" fill="#ffffff"/>
<rect x="398" y="215" width="4" height="1" fill="#ffffff"/>
<rect x="390" y="216" width="5" height="1" fill="#ffffff"/>
<rect x="390" y="217" width="12" height="1" fill="#ffffff"/>
<rect x="393" y="214" width="6" height="3" fill="#ffffff"/>
<rect x="370" y="259" width="2" height="1" fill="#ffffff"/>
<rect x="374" y="259" width="6" height="1" fill="#ffffff"/>
<rect x="384" y="259" width="6" height="1" fill="#ffffff"/>
<rect x="370" y="260" width="1" height="1" fill="#ffffff"/>
<rect x="373" y="260" width="2" height="1" fill="#ffffff"/>
<rect x="376" y="260" width="11" height="1" fill="#ffffff"/>
<rect x="388" y="260" width="2" height="1" fill="#ffffff"/>
<rect x="370" y="261" width="9" height="1" fill="#ffffff"/>
<rect x="380" y="261" width="2" height="1" fill="#ffffff"/>
<rect x="384" y="261" width="3" height="1" fill="#ffffff"/>
<rect x="389" y="261" width="1" height="1" fill="#ffffff"/>
<rect x="385" y="222" width="31" height="2" fill="#3c8c0c"/>
<rect x="385" y="224" width="8" height="1" fill="#ffffff"/>
<rect x="399" y="224" width="7" height="1" fill="#ffffff"/>
<rect x="407" y="224" width="9" height="1" fill="#ffffff"/>
<rect x="385" y="225" width="4" height="1" fill="#ffffff"/>
<rect x="396" y="225" width="2" height="1" fill="#ffffff"/>
<rect x="402" y="225" width="6" height="1" fill="#ffffff"/>
<rect x="410" y="225" width="4" height="1" fill="#ffffff"/>
<rect x="415" y="225" width="1" height="1" fill="#ffffff"/>
<rect x="385" y="221" width="1" height="1" fill="#ffffff"/>
<rect x="385" y="221" width="1" height="5" fill="#3c8c0c"/>
<rect x="394" y="221" width="1" height="1" fill="#ffffff"/>
<rect x="394" y="221" width="1" height="5" fill="#3c8c0c"/>
<rect x="404" y="221" width="1" height="1" fill="#ffffff"/>
<rect x="404" y="221" width="1" height="5" fill="#3c8c0c"/>
<rect x="413" y="221" width="1" height="1" fill="#ffffff"/>
<rect x="413" y="221" width="1" height="5" fill="#3c8c0c"/>
<rect x="389" y="226" width="7" height="1" fill="#b8821e"/>
<rect x="397" y="226" width="2" height="1" fill="#b8821e"/>
<rect x="402" y="226" width="1" height="1" fill="#b8821e"/>
<rect x="408" y="226" width="8" height="1" fill="#b8821e"/>
<rect x="380" y="226" width="1" height="23" fill="#4a8216"/>
<rect x="420" y="226" width="1" height="23" fill="#4a8216"/>
<rect x="378" y="226" width="6" height="1" fill="#4a8216"/>
<rect x="378" y="248" width="6" height="1" fill="#4a8216"/>
<rect x="418" y="226" width="6" height="1" fill="#4a8216"/>
<rect x="418" y="248" width="6" height="1" fill="#4a8216"/>
<rect x="378" y="228" width="3" height="1" fill="#ffffff"/>
<rect x="420" y="228" width="3" height="1" fill="#ffffff"/>
<rect x="377" y="229" width="1" height="1" fill="#ffffff"/>
<rect x="423" y="229" width="1" height="1" fill="#ffffff"/>
<rect x="381" y="230" width="2" height="1" fill="#00ff00"/>
<rect x="418" y="230" width="2" height="1" fill="#00ff00"/>
<rect x="378" y="232" width="3" height="1" fill="#ffffff"/>
<rect x="420" y="232" width="3" height="1" fill="#ffffff"/>
<rect x="381" y="234" width="2" height="1" fill="#00ff00"/>
<rect x="418" y="234" width="2" height="1" fill="#00ff00"/>
<rect x="378" y="236" width="3" height="1" fill="#ffffff"/>
<rect x="420" y="236" width="3" height="1" fill="#ffffff"/>
<rect x="377" y="237" width="1" height="1" fill="#ffffff"/>
<rect x="423" y="237" width="1" height="1" fill="#ffffff"/>
<rect x="381" y="238" width="2" height="1" fill="#00ff00"/>
<rect x="418" y="238" width="2" height="1" fill="#00ff00"/>
<rect x="378" y="240" width="3" height="1" fill="#ffffff"/>
<rect x="420" y="240" width="3" height="1" fill="#ffffff"/>
<rect x="381" y="242" width="2" height="1" fill="#00ff00"/>
<rect x="418" y="242" width="2" height="1" fill="#00ff00"/>
<rect x="378" y="244" width="3" height="1" fill="#ffffff"/>
<rect x="420" y="244" width="3" height="1" fill="#ffffff"/>
<rect x="377" y="245" width="1" height="1" fill="#ffffff"/>
<rect x="423" y="245" width="1" height="1" fill="#ffffff"/>
<rect x="381" y="246" width="2" height="1" fill="#00ff00"/>
<rect x="418" y="246" width="2" height="1" fill="#00ff00"/>
<rect x="385" y="227" width="31" height="1" fill="#ffffff"/>
<rect x="385" y="247" width="31" height="1" fill="#ffffff"/>
<rect x="385" y="227" width="1" height="21" fill="#ffffff"/>
<rect x="415" y="227" width="1" height="21" fill="#ffffff"/>
<rect x="385" y="236" width="31" height="1" fill="#d0d0d0"/>
<rect x="385" y="239" width="31" height="1" fill="#d0d0d0"/>
<rect x="390" y="227" width="1" height="10" fill="#c8c8c8"/>
<rect x="390" y="239" width="1" height="9" fill="#c8c8c8"/>
<rect x="396" y="227" width="1" height="10" fill="#c8c8c8"/>
<rect x="396" y="239" width="1" height="9" fill="#c8c8c8"/>
<rect x="401" y="227" width="1" height="10" fill="#c8c8c8"/>
<rect x="401" y="239" width="1" height="9" fill="#c8c8c8"/>
<rect x="405" y="227" width="1" height="10" fill="#c8c8c8"/>
<rect x="405" y="239" width="1" height="9" fill="#c8c8c8"/>
<rect x="410" y="227" width="1" height="10" fill="#c8c8c8"/>
<rect x="410" y="239" width="1" height="9" fill="#c8c8c8"/>
<rect x="407" y="228" width="8" height="1" fill="#c8c8c8"/>
<rect x="386" y="230" width="5" height="1" fill="#c8c8c8"/>
<rect x="412" y="231" width="3" height="1" fill="#c8c8c8"/>
<rect x="391" y="232" width="11" height="1" fill="#c8c8c8"/>
<rect x="409" y="232" width="1" height="1" fill="#c8c8c8"/>
<rect x="402" y="233" width="13" height="1" fill="#c8c8c8"/>
<rect x="386" y="234" width="12" height="1" fill="#c8c8c8"/>
<rect x="400" y="234" width="1" height="1" fill="#c8c8c8"/>
<rect x="408" y="234" width="7" height="1" fill="#c8c8c8"/>
<rect x="387" y="235" width="5" height="1" fill="#c8c8c8"/>
<rect x="393" y="240" width="2" height="1" fill="#c8c8c8"/>
<rect x="405" y="240" width="1" height="1" fill="#c8c8c8"/>
<rect x="409" y="240" width="6" height="1" fill="#c8c8c8"/>
<rect x="386" y="241" width="10" height="1" fill="#c8c8c8"/>
<rect x="399" y="241" width="5" height="1" fill="#c8c8c8"/>
<rect x="386" y="242" width="21" height="1" fill="#c8c8c8"/>
<rect x="386" y="244" width="6" height="1" fill="#c8c8c8"/>
<rect x="395" y="245" width="10" height="1" fill="#c8c8c8"/>
<rect x="411" y="245" width="4" height="1" fill="#c8c8c8"/>
<rect x="392" y="237" width="2" height="1" fill="#ffffff"/>
<rect x="397" y="237" width="2" height="1" fill="#ffffff"/>
<rect x="401" y="237" width="1" height="1" fill="#ffffff"/>
<rect x="410" y="237" width="5" height="1" fill="#ffffff"/>
<rect x="395" y="238" width="1" height="1" fill="#ffffff"/>
<rect x="398" y="238" width="3" height="1" fill="#ffffff"/>
<rect x="386" y="227" width="1" height="1" fill="#1e90ff"/>
<rect x="387" y="247" width="1" height="1" fill="#1e90ff"/>
<rect x="389" y="227" width="1" height="1" fill="#1e90ff"/>
<rect x="390" y="247" width="1" height="1" fill="#1e90ff"/>
<rect x="392" y="227" width="1" height="1" fill="#1e90ff"/>
<rect x="393" y="247" width="1" height="1" fill="#1e90ff"/>
<rect x="395" y="227" width="1" height="1" fill="#1e90ff"/>
<rect x="396" y="247" width="1" height="1" fill="#1e90ff"/>
<rect x="398" y="227" width="1" height="1" fill="#1e90ff"/>
<rect x="399" y="247" width="1" height="1" fill="#1e90ff"/>
<rect x="401" y="227" width="1" height="1" fill="#1e90ff"/>
<rect x="402" y="247" width="1" height="1" fill="#1e90ff"/>
<rect x="404" y="227" width="1" height="1" fill="#1e90ff"/>
<rect x="405" y="247" width="1" height="1" fill="#1e90ff"/>
<rect x="407" y="227" width="1" height="1" fill="#1e90ff"/>
<rect x="408" y="247" width="1" height="1" fill="#1e90ff"/>
<rect x="410" y="227" width="1" height="1" fill="#1e90ff"/>
<rect x="411" y="247" width="1" height="1" fill="#1e90ff"/>
<rect x="413" y="227" width="1" height="1" fill="#1e90ff"/>
<rect x="414" y="247" width="1" height="1" fill="#1e90ff"/>
<rect x="391" y="240" width="1" height="1" fill="#1e90ff"/>
<rect x="391" y="244" width="1" height="1" fill="#1e90ff"/>
<rect x="397" y="240" width="1" height="1" fill="#1e90ff"/>
<rect x="397" y="244" width="1" height="1" fill="#1e90ff"/>
<rect x="402" y="240" width="1" height="1" fill="#1e90ff"/>
<rect x="402" y="244" width="1" height="1" fill="#1e90ff"/>
<rect x="385" y="251" width="31" height="1" fill="#4a8216"/>
<rect x="385" y="254" width="31" height="1" fill="#4a8216"/>
<rect x="386" y="252" width="9" height="1" fill="#ffffff"/>
<rect x="396" y="252" width="2" height="1" fill="#ffffff"/>
<rect x="399" y="252" width="9" height="1" fill="#ffffff"/>
<rect x="412" y="252" width="4" height="1" fill="#ffffff"/>
<rect x="389" y="253" width="1" height="1" fill="#ffffff"/>
<rect x="408" y="253" width="8" height="1" fill="#ffffff"/>
<rect x="385" y="250" width="1" height="6" fill="#4a8216"/>
<rect x="392" y="250" width="1" height="6" fill="#4a8216"/>
<rect x="400" y="250" width="1" height="6" fill="#4a8216"/>
<rect x="408" y="250" width="1" height="6" fill="#4a8216"/>
<rect x="415" y="250" width="1" height="6" fill="#4a8216"/>
<rect x="371" y="269" width="42" height="6" fill="#0e84b6"/>
<rect x="371" y="269" width="8" height="1" fill="#ffffff"/>
<rect x="371" y="270" width="8" height="1" fill="#ffffff"/>
<rect x="371" y="271" width="6" height="1" fill="#ffffff"/>
<rect x="380" y="271" width="3" height="1" fill="#ffffff"/>
<rect x="371" y="272" width="3" height="1" fill="#ffffff"/>
<rect x="381" y="272" width="2" height="1" fill="#ffffff"/>
<rect x="371" y="273" width="1" height="1" fill="#ffffff"/>
<rect x="381" y="273" width="2" height="1" fill="#ffffff"/>
<rect x="390" y="269" width="9" height="1" fill="#ffffff"/>
<rect x="395" y="270" width="3" height="1" fill="#ffffff"/>
<rect x="399" y="270" width="3" height="1" fill="#ffffff"/>
<rect x="390" y="271" width="12" height="1" fill="#ffffff"/>
<rect x="390" y="272" width="9" height="1" fill="#ffffff"/>
<rect x="390" y="273" width="10" height="1" fill="#ffffff"/>
<rect x="393" y="270" width="6" height="3" fill="#ffffff"/>
<rect x="370" y="315" width="2" height="1" fill="#ffffff"/>
<rect x="373" y="315" width="6" height="1" fill="#ffffff"/>
<rect x="380" y="315" width="4" height="1" fill="#ffffff"/>
<rect x="385" y="315" width="1" height="1" fill="#ffffff"/>
<rect x="387" y="315" width="3" height="1" fill="#ffffff"/>
<rect x="370" y="316" width="5" height="1" fill="#ffffff"/>
<rect x="376" y="316" width="3" height="1" fill="#ffffff"/>
<rect x="381" y="316" width="2" height="1" fill="#ffffff"/>
<rect x="384" y="316" width="1" height="1" fill="#ffffff"/>
<rect x="386" y="316" width="4" height="1" fill="#ffffff"/>
<rect x="371" y="317" width="1" height="1" fill="#ffffff"/>
<rect x="373" y="317" width="3" height="1" fill="#ffffff"/>
<rect x="377" y="317" width="1" height="1" fill="#ffffff"/>
<rect x="379" y="317" width="8" height="1" fill="#ffffff"/>
<rect x="388" y="317" width="2" height="1" fill="#ffffff"/>
<rect x="385" y="278" width="31" height="2" fill="#3c8c0c"/>
<rect x="385" y="280" width="12" height="1" fill="#ffffff"/>
<rect x="398" y="280" width="1" height="1" fill="#ffffff"/>
<rect x="400" y="280" width="3" height="1" fill="#ffffff"/>
<rect x="404" y="280" width="12" height="1" fill="#ffffff"/>
<rect x="385" y="281" width="8" height="1" fill="#ffffff"/>
<rect x="395" y="281" width="20" height="1" fill="#ffffff"/>
<rect x="385" y="277" width="1" height="1" fill="#ffffff"/>
<rect x="385" y="277" width="1" height="5" fill="#3c8c0c"/>
<rect x="394" y="277" width="1" height="1" fill="#ffffff"/>
<rect x="394" y="277" width="1" height="5" fill="#3c8c0c"/>
<rect x="404" y="277" width="1" height="1" fill="#ffffff"/>
<rect x="404" y="277" width="1" height="5" fill="#3c8c0c"/>
<rect x="413" y="277" width="1" height="1" fill="#ffffff"/>
<rect x="413" y="277" width="1" height="5" fill="#3c8c0c"/>
<rect x="385" y="282" width="8" height="1" fill="#b8821e"/>
<rect x="399" y="282" width="10" height="1" fill="#b8821e"/>
<rect x="411" y="282" width="5" height="1" fill="#b8821e"/>
<rect x="380" y="282" width="1" height="23" fill="#4a8216"/>
<rect x="420" y="282" width="1" height="23" fill="#4a8216"/>
<rect x="378" y="282" width="6" height="1" fill="#4a8216"/>
<rect x="378" y="304" width="6" height="1" fill="#4a8216"/>
<rect x="418" y="282" width="6" height="1" fill="#4a8216"/>
<rect x="418" y="304" width="6" height="1" fill="#4a8216"/>
<rect x="378" y="284" width="3" height="1" fill="#ffffff"/>
<rect x="420" y="284" width="3" height="1" fill="#ffffff"/>
<rect x="377" y="285" width="1" height="1" fill="#ffffff"/>
<rect x="423" y="285" width="1" height="1" fill="#ffffff"/>
<rect x="381" y="286" width="2" height="1" fill="#00ff00"/>
<rect x="418" y="286" width="2" height="1" fill="#00ff00"/>
<rect x="378" y="288" width="3" height="1" fill="#ffffff"/>
<rect x="420" y="288" width="3" height="1" fill="#ffffff"/>
<rect x="381" y="290" width="2" height="1" fill="#00ff00"/>
<rect x="418" y="290" width="2" height="1" fill="#00ff00"/>
<rect x="378" y="292" width="3" height="1" fill="#ffffff"/>
<rect x="420" y="292" width="3" height="1" fill="#ffffff"/>
<rect x="377" y="293" width="1" height="1" fill="#ffffff"/>
<rect x="423" y="293" width="1" height="1" fill="#ffffff"/>
<rect x="381" y="294" width="2" height="1" fill="#00ff00"/>
<rect x="418" y="294" width="2" height="1" fill="#00ff00"/>
<rect x="378" y="296" width="3" height="1" fill="#ffffff"/>
<rect x="420" y="296" width="3" height="1" fill="#ffffff"/>
<rect x="381" y="298" width="2" height="1" fill="#00ff00"/>
<rect x="418" y="298" width="2" height="1" fill="#00ff00"/>
<rect x="378" y="300" width="3" height="1" fill="#ffffff"/>
<rect x="420" y="300" width="3" height="1" fill="#ffffff"/>
<rect x="377" y="301" width="1" height="1" fill="#ffffff"/>
<rect x="423" y="301" width="1" height="1" fill="#ffffff"/>
<rect x="381" y="302" width="2" height="1" fill="#00ff00"/>
<rect x="418" y="302" width="2" height="1" fill="#00ff00"/>
<rect x="385" y="283" width="31" height="1" fill="#ffffff"/>
<rect x="385" y="303" width="31" height="1" fill="#ffffff"/>
<rect x="385" y="283" width="1" height="21" fill="#ffffff"/>
<rect x="415" y="283" width="1" height="21" fill="#ffffff"/>
<rect x="385" y="292" width="31" height="1" fill="#d0d0d0"/>
<rect x="385" y="295" width="31" height="1" fill="#d0d0d0"/>
<rect x="390" y="283" width="1" height="10" fill="#c8c8c8"/>
<rect x="390" y="295" width="1" height="9" fill="#c8c8c8"/>
<rect x="396" y="283" width="1" height="10" fill="#c8c8c8"/>
<rect x="396" y="295" width="1" height="9" fill="#c8c8c8"/>
<rect x="401" y="283" width="1" height="10" fill="#c8c8c8"/>
<rect x="401" y="295" width="1" height="9" fill="#c8c8c8"/>
<rect x="405" y="283" width="1" height="10" fill="#c8c8c8"/>
<rect x="405" y="295" width="1" height="9" fill="#c8c8c8"/>
<rect x="410" y="283" width="1" height="10" fill="#c8c8c8"/>
<rect x="410" y="295" width="1" height="9" fill="#c8c8c8"/>
<rect x="388" y="284" width="3" height="1" fill="#c8c8c8"/>
<rect x="414" y="284" width="1" height="1" fill="#c8c8c8"/>
<rect x="388" y="285" width="22" height="1" fill="#c8c8c8"/>
<rect x="402" y="286" width="10" height="1" fill="#c8c8c8"/>
<rect x="390" y="287" width="1" height="1" fill="#c8c8c8"/>
<rect x="405" y="287" width="10" height="1" fill="#c8c8c8"/>
<rect x="386" y="288" width="1" height="1" fill="#c8c8c8"/>
<rect x="406" y="288" width="2" height="1" fill="#c8c8c8"/>
<rect x="403" y="290" width="6" height="1" fill="#c8c8c8"/>
<rect x="399" y="291" width="16" height="1" fill="#c8c8c8"/>
<rect x="389" y="296" width="5" height="1" fill="#c8c8c8"/>
<rect x="386" y="297" width="2" height="1" fill="#c8c8c8"/>
<rect x="405" y="297" width="4" height="1" fill="#c8c8c8"/>
<rect x="410" y="297" width="5" height="1" fill="#c8c8c8"/>
<rect x="386" y="298" width="2" height="1" fill="#c8c8c8"/>
<rect x="389" y="298" width="2" height="1" fill="#c8c8c8"/>
<rect x="396" y="298" width="2" height="1" fill="#c8c8c8"/>
<rect x="405" y="298" width="2" height="1" fill="#c8c8c8"/>
<rect x="386" y="299" width="2" height="1" fill="#c8c8c8"/>
<rect x="399" y="299" width="4" height="1" fill="#c8c8c8"/>
<rect x="401" y="301" width="1" height="1" fill="#c8c8c8"/>
<rect x="397" y="293" width="1" height="1" fill="#ffffff"/>
<rect x="408" y="293" width="2" height="1" fill="#ffffff"/>
<rect x="388" y="294" width="2" height="1" fill="#ffffff"/>
<rect x="392" y="294" width="3" height="1" fill="#ffffff"/>
<rect x="403" y="294" width="1" height="1" fill="#ffffff"/>
<rect x="413" y="294" width="2" height="1" fill="#ffffff"/>
<rect x="386" y="283" width="1" height="1" fill="#1e90ff"/>
<rect x="387" y="303" width="1" height="1" fill="#1e90ff"/>
<rect x="389" y="283" width="1" height="1" fill="#1e90ff"/>
<rect x="390" y="303" width="1" height="1" fill="#1e90ff"/>
<rect x="392" y="283" width="1" height="1" fill="#1e90ff"/>
<rect x="393" y="303" width="1" height="1" fill="#1e90ff"/>
<rect x="395" y="283" width="1" height="1" fill="#1e90ff"/>
<rect x="396" y="303" width="1" height="1" fill="#1e90ff"/>
<rect x="398" y="283" width="1" height="1" fill="#1e90ff"/>
<rect x="399" y="303" width="1" height="1" fill="#1e90ff"/>
<rect x="401" y="283" width="1" height="1" fill="#1e90ff"/>
<rect x="402" y="303" width="1" height="1" fill="#1e90ff"/>
<rect x="404" y="283" width="1" height="1" fill="#1e90ff"/>
<rect x="405" y="303" width="1" height="1" fill="#1e90ff"/>
<rect x="407" y="283" width="1" height="1" fill="#1e90ff"/>
<rect x="408" y="303" width="1" height="1" fill="#1e90ff"/>
<rect x="410" y="283" width="1" height="1" fill="#1e90ff"/>
<rect x="411" y="303" width="1" height="1" fill="#1e90ff"/>
<rect x="413" y="283" width="1" height="1" fill="#1e90ff"/>
<rect x="414" y="303" width="1" height="1" fill="#1e90ff"/>
<rect x="391" y="296" width="1" height="1" fill="#1e90ff"/>
<rect x="391" y="300" width="1" height="1" fill="#1e90ff"/>
<rect x="397" y="296" width="1" height="1" fill="#1e90ff"/>
<rect x="397" y="300" width="1" height="1" fill="#1e90ff"/>
<rect x="402" y="296" width="1" height="1" fill="#1e90ff"/>
<rect x="402" y="300" width="1" height="1" fill="#1e90ff"/>
<rect x="385" y="307" width="31" height="1" fill="#4a8216"/>
<rect x="385" y="310" width="31" height="1" fill="#4a8216"/>
<rect x="392" y="308" width="4" height="1" fill="#ffffff"/>
<rect x="398" y="308" width="6" height="1" fill="#ffffff"/>
<rect x="415" y="308" width="1" height="1" fill="#ffffff"/>
<rect x="386" y="309" width="7" height="1" fill="#ffffff"/>
<rect x="398" y="309" width="9" height="1" fill="#ffffff"/>
<rect x="411" y="309" width="3" height="1" fill="#ffffff"/>
<rect x="385" y="306" width="1" height="6" fill="#4a8216"/>
<rect x="392" y="306" width="1" height="6" fill="#4a8216"/>
<rect x="400" y="306" width="1" height="6" fill="#4a8216"/>
<rect x="408" y="306" width="1" height="6" fill="#4a8216"/>
<rect x="415" y="306" width="1" height="6" fill="#4a8216"/>
<rect x="382" y="177" width="4" height="4" fill="#ffff00"/>
<rect x="388" y="175" width="5" height="3" fill="#ffff00"/>
<rect x="411" y="176" width="3" height="2" fill="#ffff00"/>
<rect x="393" y="171" width="4" height="2" fill="#ff00ff"/>
<rect x="405" y="171" width="5" height="3" fill="#ff00ff"/>
<rect x="407" y="175" width="5" height="3" fill="#ff00ff"/>
<rect x="408" y="179" width="3" height="1" fill="#ff00ff"/>
<rect x="389" y="184" width="6" height="3" fill="#00ff00"/>
<rect x="393" y="179" width="3" height="3" fill="#00ff00"/>
<rect x="400" y="185" width="10" height="1" fill="#00ff00"/>
<rect x="409" y="182" width="1" height="6" fill="#00ff00"/>
<rect x="397" y="199" width="7" height="2" fill="#00ff00"/>
<rect x="405" y="191" width="2" height="9" fill="#ff0000"/>
<rect x="406" y="198" width="3" height="2" fill="#ff0000"/>
<rect x="388" y="179" width="2" height="1" fill="#ff0000"/>
<rect x="393" y="178" width="2" height="1" fill="#ff0000"/>
<rect x="420" y="164" width="5" height="4" fill="#00ff00"/>
<rect x="421" y="163" width="3" height="6" fill="#00ff00"/>
<rect x="421" y="165" width="3" height="1" fill="#000000"/>
<rect x="386" y="228" width="4" height="6" fill="#ffff00"/>
<rect x="411" y="228" width="4" height="6" fill="#ffff00"/>
<rect x="405" y="228" width="5" height="3" fill="#ff00ff"/>
<rect x="406" y="231" width="3" height="3" fill="#ff00ff"/>
<rect x="395" y="233" width="2" height="2" fill="#ff00ff"/>
<rect x="375" y="239" width="6" height="3" fill="#00e0c0"/>
<rect x="371" y="235" width="15" height="1" fill="#00ff00"/>
<rect x="416" y="239" width="15" height="1" fill="#00ff00"/>
<rect x="417" y="235" width="5" height="2" fill="#ff0000"/>
<rect x="405" y="245" width="2" height="11" fill="#ff0000"/>
<rect x="407" y="249" width="2" height="2" fill="#00ff00"/>
<rect x="397" y="257" width="7" height="1" fill="#00ff00"/>
<rect x="388" y="234" width="2" height="1" fill="#ff0000"/>
<rect x="398" y="237" width="2" height="1" fill="#ff0000"/>
<rect x="389" y="240" width="1" height="1" fill="#ff0000"/>
<rect x="393" y="240" width="1" height="1" fill="#ff0000"/>
<rect x="398" y="240" width="1" height="1" fill="#ff0000"/>
<rect x="402" y="240" width="1" height="1" fill="#ff0000"/>
<rect x="407" y="240" width="1" height="1" fill="#ff0000"/>
<rect x="386" y="284" width="4" height="6" fill="#ffff00"/>
<rect x="411" y="284" width="4" height="6" fill="#ffff00"/>
<rect x="405" y="284" width="5" height="3" fill="#ff00ff"/>
<rect x="406" y="287" width="3" height="3" fill="#ff00ff"/>
<rect x="395" y="289" width="2" height="2" fill="#ff00ff"/>
<rect x="375" y="295" width="6" height="3" fill="#00e0c0"/>
<rect x="371" y="291" width="15" height="1" fill="#00ff00"/>
<rect x="416" y="295" width="15" height="1" fill="#00ff00"/>
<rect x="417" y="291" width="5" height="2" fill="#ff0000"/>
<rect x="405" y="301" width="2" height="11" fill="#ff0000"/>
<rect x="407" y="305" width="2" height="2" fill="#00ff00"/>
<rect x="397" y="313" width="7" height="1" fill="#00ff00"/>
<rect x="388" y="290" width="2" height="1" fill="#ff0000"/>
<rect x="398" y="293" width="2" height="1" fill="#ff0000"/>
<rect x="389" y="296" width="1" height="1" fill="#ff0000"/>
<rect x="393" y="296" width="1" height="1" fill="#ff0000"/>
<rect x="398" y="296" width="1" height="1" fill="#ff0000"/>
<rect x="402" y="296" width="1" height="1" fill="#ff0000"/>
<rect x="407" y="296" width="1" height="1" fill="#ff0000"/>
<rect x="373" y="327" width="11" height="1" fill="#ffffff"/>
<rect x="373" y="337" width="11" height="1" fill="#ffffff"/>
<rect x="373" y="327" width="1" height="11" fill="#ffffff"/>
<rect x="383" y="327" width="1" height="11" fill="#ffffff"/>
<line x1="375.5" y1="329.5" x2="381.5" y2="335.5" stroke="#ffffff" stroke-width="1"/>
<rect x="374" y="328" width="1" height="1" fill="#00ff00"/>
<rect x="374" y="329" width="6" height="1" fill="#00ff00"/>
<rect x="381" y="329" width="2" height="1" fill="#00ff00"/>
<rect x="374" y="335" width="7" height="1" fill="#00ff00"/>
<rect x="374" y="336" width="9" height="1" fill="#00ff00"/>
<rect x="372" y="338" width="1" height="1" fill="#ffffff"/>
<rect x="374" y="339" width="1" height="1" fill="#ffffff"/>
<rect x="376" y="338" width="1" height="1" fill="#ffffff"/>
<rect x="379" y="339" width="1" height="1" fill="#ffffff"/>
<rect x="382" y="338" width="1" height="1" fill="#ffffff"/>
<rect x="376" y="340" width="2" height="2" fill="#ff0000"/>
<rect x="420" y="328" width="4" height="1" fill="#ffffff"/>
<rect x="421" y="329" width="6" height="1" fill="#ffffff"/>
<rect x="419" y="330" width="9" height="1" fill="#ffffff"/>
<rect x="415" y="333" width="4" height="1" fill="#ffffff"/>
<rect x="415" y="334" width="13" height="1" fill="#ffffff"/>
<rect x="426" y="335" width="2" height="1" fill="#ffffff"/>
<rect x="423" y="337" width="2" height="1" fill="#ffffff"/>
<rect x="420" y="338" width="8" height="1" fill="#ffffff"/>
<rect x="415" y="339" width="5" height="1" fill="#ffffff"/>
<rect x="422" y="339" width="1" height="1" fill="#ffffff"/>
<rect x="421" y="329" width="2" height="1" fill="#00ff00"/>
<rect x="423" y="330" width="5" height="1" fill="#00ff00"/>
<rect x="416" y="332" width="7" height="1" fill="#00ff00"/>
<rect x="426" y="335" width="1" height="1" fill="#00ff00"/>
<rect x="424" y="336" width="2" height="1" fill="#00ff00"/>
<rect x="416" y="337" width="2" height="1" fill="#00ff00"/>
<rect x="423" y="335" width="3" height="3" fill="#ff00ff"/>
<rect x="384" y="329" width="1" height="1" fill="#c0c0c0"/>
<rect x="414" y="329" width="1" height="1" fill="#c0c0c0"/>
<rect x="386" y="331" width="1" height="1" fill="#c0c0c0"/>
<rect x="412" y="331" width="1" height="1" fill="#c0c0c0"/>
<rect x="388" y="333" width="1" height="1" fill="#c0c0c0"/>
<rect x="410" y="333" width="1" height="1" fill="#c0c0c0"/>
<rect x="390" y="335" width="1" height="1" fill="#c0c0c0"/>
<rect x="408" y="335" width="1" height="1" fill="#c0c0c0"/>
<rect x="392" y="337" width="1" height="1" fill="#c0c0c0"/>
<rect x="406" y="337" width="1" height="1" fill="#c0c0c0"/>
<rect x="380" y="334" width="42" height="1" fill="#4a8216"/>
<rect x="380" y="349" width="42" height="1" fill="#4a8216"/>
<rect x="380" y="358" width="42" height="1" fill="#4a8216"/>
<rect x="385" y="364" width="31" height="1" fill="#4a8216"/>
<rect x="385" y="334" width="1" height="31" fill="#4a8216"/>
<rect x="395" y="334" width="1" height="31" fill="#4a8216"/>
<rect x="405" y="334" width="1" height="31" fill="#4a8216"/>
<rect x="415" y="334" width="1" height="31" fill="#4a8216"/>
<rect x="380" y="334" width="1" height="25" fill="#4a8216"/>
<rect x="421" y="334" width="1" height="25" fill="#4a8216"/>
<rect x="377" y="336" width="2" height="1" fill="#ffffff"/>
<rect x="423" y="336" width="2" height="1" fill="#ffffff"/>
<rect x="377" y="340" width="2" height="1" fill="#ffffff"/>
<rect x="423" y="340" width="2" height="1" fill="#ffffff"/>
<rect x="377" y="344" width="2" height="1" fill="#ffffff"/>
<rect x="423" y="344" width="2" height="1" fill="#ffffff"/>
<rect x="377" y="348" width="2" height="1" fill="#ffffff"/>
<rect x="423" y="348" width="2" height="1" fill="#ffffff"/>
<rect x="377" y="352" width="2" height="1" fill="#ffffff"/>
<rect x="423" y="352" width="2" height="1" fill="#ffffff"/>
<rect x="377" y="356" width="2" height="1" fill="#ffffff"/>
<rect x="423" y="356" width="2" height="1" fill="#ffffff"/>
<rect x="386" y="340" width="4" height="8" fill="#ffff00"/>
<rect x="411" y="340" width="4" height="8" fill="#ffff00"/>
<rect x="395" y="340" width="11" height="1" fill="#00ffff"/>
<rect x="386" y="358" width="30" height="1" fill="#00ffff"/>
<rect x="396" y="341" width="9" height="1" fill="#ffffff"/>
<rect x="396" y="348" width="9" height="1" fill="#ffffff"/>
<rect x="396" y="341" width="1" height="8" fill="#ffffff"/>
<rect x="404" y="341" width="1" height="8" fill="#ffffff"/>
<rect x="401" y="342" width="3" height="1" fill="#ffffff"/>
<rect x="397" y="344" width="7" height="1" fill="#ffffff"/>
<rect x="398" y="343" width="3" height="4" fill="#00ff00"/>
<rect x="390" y="342" width="2" height="2" fill="#ff8080"/>
<rect x="386" y="352" width="30" height="6" fill="#ff00ff"/>
<rect x="395" y="355" width="4" height="1" fill="#ffffff"/>
<rect x="387" y="349" width="2" height="3" fill="#ff0000"/>
<rect x="392" y="349" width="2" height="3" fill="#ff0000"/>
<rect x="412" y="348" width="2" height="3" fill="#ff0000"/>
<rect x="405" y="359" width="2" height="11" fill="#ff0000"/>
<rect x="405" y="366" width="4" height="1" fill="#ff0000"/>
<rect x="405" y="369" width="4" height="1" fill="#ff0000"/>
<rect x="405" y="366" width="1" height="4" fill="#ff0000"/>
<rect x="408" y="366" width="1" height="4" fill="#ff0000"/>
<rect x="395" y="367" width="9" height="1" fill="#00ff00"/>
<rect x="393" y="366" width="13" height="1" fill="#ffffff"/>
<rect x="372" y="366" width="18" height="1" fill="#ff00ff"/>
<rect x="372" y="373" width="18" height="1" fill="#ff00ff"/>
<rect x="372" y="366" width="1" height="8" fill="#ff00ff"/>
<rect x="389" y="366" width="1" height="8" fill="#ff00ff"/>
<rect x="374" y="368" width="6" height="1" fill="#ffffff"/>
<rect x="381" y="368" width="7" height="1" fill="#ffffff"/>
<rect x="374" y="369" width="3" height="1" fill="#ffffff"/>
<rect x="380" y="369" width="1" height="1" fill="#ffffff"/>
<rect x="382" y="369" width="1" height="1" fill="#ffffff"/>
<rect x="384" y="369" width="1" height="1" fill="#ffffff"/>
<rect x="387" y="369" width="1" height="1" fill="#ffffff"/>
<rect x="374" y="370" width="3" height="1" fill="#ffffff"/>
<rect x="380" y="370" width="1" height="1" fill="#ffffff"/>
<rect x="382" y="370" width="6" height="1" fill="#ffffff"/>
<rect x="374" y="371" width="2" height="1" fill="#ffffff"/>
<rect x="378" y="371" width="6" height="1" fill="#ffffff"/>
<rect x="385" y="371" width="1" height="1" fill="#ffffff"/>
<rect x="494" y="101" width="73" height="1" fill="#0e84b6"/>
<rect x="494" y="152" width="73" height="1" fill="#0e84b6"/>
<rect x="494" y="101" width="1" height="52" fill="#0e84b6"/>
<rect x="566" y="101" width="1" height="52" fill="#0e84b6"/>
<rect x="497" y="102" width="69" height="1" fill="#0e84b6"/>
<rect x="497" y="150" width="69" height="1" fill="#0e84b6"/>
<rect x="497" y="102" width="1" height="49" fill="#0e84b6"/>
<rect x="565" y="102" width="1" height="49" fill="#0e84b6"/>
<rect x="565" y="101" width="1" height="52" fill="#0e84b6"/>
<rect x="494" y="151" width="73" height="1" fill="#0e84b6"/>
<rect x="487" y="101" width="8" height="1" fill="#a82028"/>
<rect x="494" y="97" width="1" height="5" fill="#a82028"/>
<rect x="556" y="103" width="9" height="47" fill="#ffffff"/>
<rect x="558" y="104" width="5" height="2" fill="#00ffff"/>
<rect x="557" y="107" width="8" height="3" fill="#000000"/>
<rect x="558" y="108" width="3" height="1" fill="#ffffff"/>
<rect x="557" y="111" width="8" height="1" fill="#000000"/>
<rect x="557" y="113" width="8" height="1" fill="#000000"/>
<rect x="558" y="113" width="2" height="1" fill="#00ffff"/>
<rect x="558" y="116" width="7" height="1" fill="#000000"/>
<rect x="556" y="116" width="2" height="2" fill="#00ffff"/>
<rect x="557" y="120" width="8" height="3" fill="#000000"/>
<rect x="558" y="121" width="1" height="1" fill="#ffffff"/>
<rect x="560" y="120" width="1" height="3" fill="#ffffff"/>
<rect x="556" y="124" width="8" height="10" fill="#00ffff"/>
<rect x="557" y="125" width="1" height="8" fill="#ffffff"/>
<rect x="559" y="126" width="1" height="4" fill="#ffffff"/>
<rect x="561" y="125" width="1" height="8" fill="#ffffff"/>
<rect x="563" y="126" width="1" height="4" fill="#ffffff"/>
<rect x="556" y="124" width="1" height="10" fill="#ffffff"/>
<rect x="557" y="134" width="8" height="11" fill="#000000"/>
<rect x="557" y="145" width="8" height="4" fill="#00ffff"/>
<rect x="557" y="145" width="1" height="3" fill="#ffffff"/>
<rect x="559" y="145" width="1" height="3" fill="#ffffff"/>
<rect x="561" y="145" width="1" height="3" fill="#ffffff"/>
<rect x="563" y="145" width="1" height="3" fill="#ffffff"/>
<rect x="494" y="157" width="73" height="1" fill="#0e84b6"/>
<rect x="494" y="207" width="73" height="1" fill="#0e84b6"/>
<rect x="494" y="157" width="1" height="51" fill="#0e84b6"/>
<rect x="566" y="157" width="1" height="51" fill="#0e84b6"/>
<rect x="497" y="158" width="69" height="1" fill="#0e84b6"/>
<rect x="497" y="205" width="69" height="1" fill="#0e84b6"/>
<rect x="497" y="158" width="1" height="48" fill="#0e84b6"/>
<rect x="565" y="158" width="1" height="48" fill="#0e84b6"/>
<rect x="565" y="157" width="1" height="51" fill="#0e84b6"/>
<rect x="494" y="206" width="73" height="1" fill="#0e84b6"/>
<rect x="487" y="157" width="8" height="1" fill="#a82028"/>
<rect x="494" y="153" width="1" height="5" fill="#a82028"/>
<rect x="556" y="159" width="9" height="46" fill="#ffffff"/>
<rect x="558" y="160" width="5" height="2" fill="#00ffff"/>
<rect x="557" y="163" width="8" height="3" fill="#000000"/>
<rect x="558" y="164" width="3" height="1" fill="#ffffff"/>
<rect x="557" y="166" width="8" height="1" fill="#000000"/>
<rect x="557" y="169" width="8" height="1" fill="#000000"/>
<rect x="558" y="169" width="2" height="1" fill="#00ffff"/>
<rect x="558" y="172" width="7" height="1" fill="#000000"/>
<rect x="556" y="172" width="2" height="2" fill="#00ffff"/>
<rect x="557" y="176" width="8" height="2" fill="#000000"/>
<rect x="558" y="176" width="1" height="1" fill="#ffffff"/>
<rect x="560" y="176" width="1" height="2" fill="#ffffff"/>
<rect x="556" y="179" width="8" height="10" fill="#00ffff"/>
<rect x="557" y="180" width="1" height="8" fill="#ffffff"/>
<rect x="559" y="182" width="1" height="4" fill="#ffffff"/>
<rect x="561" y="180" width="1" height="8" fill="#ffffff"/>
<rect x="563" y="182" width="1" height="4" fill="#ffffff"/>
<rect x="556" y="179" width="1" height="10" fill="#ffffff"/>
<rect x="557" y="189" width="8" height="11" fill="#000000"/>
<rect x="557" y="200" width="8" height="4" fill="#00ffff"/>
<rect x="557" y="200" width="1" height="3" fill="#ffffff"/>
<rect x="559" y="200" width="1" height="3" fill="#ffffff"/>
<rect x="561" y="200" width="1" height="3" fill="#ffffff"/>
<rect x="563" y="200" width="1" height="3" fill="#ffffff"/>
<rect x="494" y="212" width="91" height="1" fill="#0e84b6"/>
<rect x="494" y="263" width="91" height="1" fill="#0e84b6"/>
<rect x="494" y="212" width="1" height="52" fill="#0e84b6"/>
<rect x="584" y="212" width="1" height="52" fill="#0e84b6"/>
<rect x="497" y="213" width="87" height="1" fill="#0e84b6"/>
<rect x="497" y="261" width="87" height="1" fill="#0e84b6"/>
<rect x="497" y="213" width="1" height="49" fill="#0e84b6"/>
<rect x="583" y="213" width="1" height="49" fill="#0e84b6"/>
<rect x="583" y="212" width="1" height="52" fill="#0e84b6"/>
<rect x="494" y="262" width="91" height="1" fill="#0e84b6"/>
<rect x="487" y="212" width="8" height="1" fill="#a82028"/>
<rect x="494" y="208" width="1" height="5" fill="#a82028"/>
<rect x="574" y="214" width="9" height="47" fill="#ffffff"/>
<rect x="576" y="215" width="5" height="2" fill="#00ffff"/>
<rect x="575" y="218" width="8" height="3" fill="#000000"/>
<rect x="576" y="219" width="3" height="1" fill="#ffffff"/>
<rect x="575" y="222" width="8" height="1" fill="#000000"/>
<rect x="575" y="224" width="8" height="1" fill="#000000"/>
<rect x="576" y="224" width="2" height="1" fill="#00ffff"/>
<rect x="576" y="227" width="7" height="1" fill="#000000"/>
<rect x="574" y="227" width="2" height="2" fill="#00ffff"/>
<rect x="575" y="231" width="8" height="3" fill="#000000"/>
<rect x="576" y="232" width="1" height="1" fill="#ffffff"/>
<rect x="578" y="231" width="1" height="3" fill="#ffffff"/>
<rect x="574" y="235" width="8" height="10" fill="#00ffff"/>
<rect x="575" y="236" width="1" height="8" fill="#ffffff"/>
<rect x="577" y="237" width="1" height="4" fill="#ffffff"/>
<rect x="579" y="236" width="1" height="8" fill="#ffffff"/>
<rect x="581" y="237" width="1" height="4" fill="#ffffff"/>
<rect x="574" y="235" width="1" height="10" fill="#ffffff"/>
<rect x="575" y="245" width="8" height="11" fill="#000000"/>
<rect x="575" y="256" width="8" height="4" fill="#00ffff"/>
<rect x="575" y="256" width="1" height="3" fill="#ffffff"/>
<rect x="577" y="256" width="1" height="3" fill="#ffffff"/>
<rect x="579" y="256" width="1" height="3" fill="#ffffff"/>
<rect x="581" y="256" width="1" height="3" fill="#ffffff"/>
<rect x="494" y="268" width="91" height="1" fill="#0e84b6"/>
<rect x="494" y="319" width="91" height="1" fill="#0e84b6"/>
<rect x="494" y="268" width="1" height="52" fill="#0e84b6"/>
<rect x="584" y="268" width="1" height="52" fill="#0e84b6"/>
<rect x="497" y="269" width="87" height="1" fill="#0e84b6"/>
<rect x="497" y="317" width="87" height="1" fill="#0e84b6"/>
<rect x="497" y="269" width="1" height="49" fill="#0e84b6"/>
<rect x="583" y="269" width="1" height="49" fill="#0e84b6"/>
<rect x="583" y="268" width="1" height="52" fill="#0e84b6"/>
<rect x="494" y="318" width="91" height="1" fill="#0e84b6"/>
<rect x="487" y="268" width="8" height="1" fill="#a82028"/>
<rect x="494" y="264" width="1" height="5" fill="#a82028"/>
<rect x="574" y="270" width="9" height="47" fill="#ffffff"/>
<rect x="576" y="271" width="5" height="2" fill="#00ffff"/>
<rect x="575" y="274" width="8" height="3" fill="#000000"/>
<rect x="576" y="275" width="3" height="1" fill="#ffffff"/>
<rect x="575" y="278" width="8" height="1" fill="#000000"/>
<rect x="575" y="280" width="8" height="1" fill="#000000"/>
<rect x="576" y="280" width="2" height="1" fill="#00ffff"/>
<rect x="576" y="283" width="7" height="1" fill="#000000"/>
<rect x="574" y="283" width="2" height="2" fill="#00ffff"/>
<rect x="575" y="287" width="8" height="3" fill="#000000"/>
<rect x="576" y="288" width="1" height="1" fill="#ffffff"/>
<rect x="578" y="287" width="1" height="3" fill="#ffffff"/>
<rect x="574" y="291" width="8" height="10" fill="#00ffff"/>
<rect x="575" y="292" width="1" height="8" fill="#ffffff"/>
<rect x="577" y="293" width="1" height="4" fill="#ffffff"/>
<rect x="579" y="292" width="1" height="8" fill="#ffffff"/>
<rect x="581" y="293" width="1" height="4" fill="#ffffff"/>
<rect x="574" y="291" width="1" height="10" fill="#ffffff"/>
<rect x="575" y="301" width="8" height="11" fill="#000000"/>
<rect x="575" y="312" width="8" height="4" fill="#00ffff"/>
<rect x="575" y="312" width="1" height="3" fill="#ffffff"/>
<rect x="577" y="312" width="1" height="3" fill="#ffffff"/>
<rect x="579" y="312" width="1" height="3" fill="#ffffff"/>
<rect x="581" y="312" width="1" height="3" fill="#ffffff"/>
<rect x="512" y="115" width="30" height="4" fill="#8a8a8a"/>
<rect x="515" y="116" width="5" height="2" fill="#000000"/>
<rect x="532" y="116" width="9" height="2" fill="#000000"/>
<rect x="512" y="118" width="30" height="1" fill="#ffffff"/>
<rect x="523" y="113" width="1" height="6" fill="#00ff00"/>
<rect x="523" y="113" width="8" height="1" fill="#00ff00"/>
<rect x="530" y="112" width="1" height="1" fill="#ffffff"/>
<rect x="536" y="112" width="2" height="1" fill="#ffffff"/>
<rect x="530" y="113" width="5" height="1" fill="#ffffff"/>
<rect x="536" y="113" width="3" height="1" fill="#ffffff"/>
<rect x="527" y="117" width="2" height="1" fill="#00ff00"/>
<rect x="512" y="118" width="30" height="1" fill="#ffffff"/>
<rect x="512" y="138" width="30" height="1" fill="#ffffff"/>
<rect x="512" y="118" width="1" height="21" fill="#ffffff"/>
<rect x="541" y="118" width="1" height="21" fill="#ffffff"/>
<rect x="513" y="121" width="28" height="2" fill="#1e90d8"/>
<rect x="514" y="121" width="1" height="1" fill="#000000"/>
<rect x="517" y="121" width="1" height="1" fill="#000000"/>
<rect x="520" y="121" width="1" height="1" fill="#000000"/>
<rect x="523" y="121" width="1" height="1" fill="#000000"/>
<rect x="526" y="121" width="1" height="1" fill="#000000"/>
<rect x="529" y="121" width="1" height="1" fill="#000000"/>
<rect x="532" y="121" width="1" height="1" fill="#000000"/>
<rect x="535" y="121" width="1" height="1" fill="#000000"/>
<rect x="538" y="121" width="1" height="1" fill="#000000"/>
<rect x="513" y="125" width="28" height="2" fill="#1e90d8"/>
<rect x="514" y="125" width="1" height="1" fill="#000000"/>
<rect x="517" y="125" width="1" height="1" fill="#000000"/>
<rect x="520" y="125" width="1" height="1" fill="#000000"/>
<rect x="523" y="125" width="1" height="1" fill="#000000"/>
<rect x="526" y="125" width="1" height="1" fill="#000000"/>
<rect x="529" y="125" width="1" height="1" fill="#000000"/>
<rect x="532" y="125" width="1" height="1" fill="#000000"/>
<rect x="535" y="125" width="1" height="1" fill="#000000"/>
<rect x="538" y="125" width="1" height="1" fill="#000000"/>
<rect x="513" y="129" width="28" height="2" fill="#1e90d8"/>
<rect x="514" y="129" width="1" height="1" fill="#000000"/>
<rect x="517" y="129" width="1" height="1" fill="#000000"/>
<rect x="520" y="129" width="1" height="1" fill="#000000"/>
<rect x="523" y="129" width="1" height="1" fill="#000000"/>
<rect x="526" y="129" width="1" height="1" fill="#000000"/>
<rect x="529" y="129" width="1" height="1" fill="#000000"/>
<rect x="532" y="129" width="1" height="1" fill="#000000"/>
<rect x="535" y="129" width="1" height="1" fill="#000000"/>
<rect x="538" y="129" width="1" height="1" fill="#000000"/>
<rect x="513" y="133" width="28" height="2" fill="#1e90d8"/>
<rect x="514" y="133" width="1" height="1" fill="#000000"/>
<rect x="517" y="133" width="1" height="1" fill="#000000"/>
<rect x="520" y="133" width="1" height="1" fill="#000000"/>
<rect x="523" y="133" width="1" height="1" fill="#000000"/>
<rect x="526" y="133" width="1" height="1" fill="#000000"/>
<rect x="529" y="133" width="1" height="1" fill="#000000"/>
<rect x="532" y="133" width="1" height="1" fill="#000000"/>
<rect x="535" y="133" width="1" height="1" fill="#000000"/>
<rect x="538" y="133" width="1" height="1" fill="#000000"/>
<rect x="513" y="123" width="28" height="2" fill="#7b3b12"/>
<rect x="513" y="127" width="28" height="2" fill="#7b3b12"/>
<rect x="513" y="131" width="28" height="2" fill="#7b3b12"/>
<rect x="513" y="136" width="28" height="2" fill="#7b3b12"/>
<rect x="521" y="119" width="2" height="17" fill="#ffffff"/>
<rect x="531" y="119" width="1" height="17" fill="#ffffff"/>
<rect x="518" y="121" width="1" height="2" fill="#ff0000"/>
<rect x="518" y="122" width="1" height="1" fill="#ffff00"/>
<rect x="535" y="121" width="1" height="2" fill="#ff0000"/>
<rect x="535" y="122" width="1" height="1" fill="#ffff00"/>
<rect x="518" y="125" width="1" height="2" fill="#ff0000"/>
<rect x="518" y="126" width="1" height="1" fill="#ffff00"/>
<rect x="535" y="125" width="1" height="2" fill="#ff0000"/>
<rect x="535" y="126" width="1" height="1" fill="#ffff00"/>
<rect x="518" y="129" width="1" height="2" fill="#ff0000"/>
<rect x="518" y="130" width="1" height="1" fill="#ffff00"/>
<rect x="535" y="129" width="1" height="2" fill="#ff0000"/>
<rect x="535" y="130" width="1" height="1" fill="#ffff00"/>
<rect x="518" y="133" width="1" height="2" fill="#ff0000"/>
<rect x="518" y="134" width="1" height="1" fill="#ffff00"/>
<rect x="535" y="133" width="1" height="2" fill="#ff0000"/>
<rect x="535" y="134" width="1" height="1" fill="#ffff00"/>
<rect x="525" y="134" width="4" height="4" fill="#8a8a8a"/>
<rect x="526" y="133" width="2" height="1" fill="#8a8a8a"/>
<rect x="526" y="138" width="2" height="2" fill="#00ffff"/>
<rect x="506" y="114" width="1" height="25" fill="#00ff00"/>
<rect x="504" y="114" width="3" height="1" fill="#ffffff"/>
<rect x="503" y="113" width="2" height="2" fill="#ffffff"/>
<rect x="506" y="115" width="2" height="2" fill="#4a8216"/>
<rect x="504" y="118" width="3" height="1" fill="#ffffff"/>
<rect x="506" y="119" width="2" height="2" fill="#4a8216"/>
<rect x="504" y="122" width="3" height="1" fill="#ffffff"/>
<rect x="503" y="121" width="2" height="2" fill="#ffffff"/>
<rect x="506" y="123" width="2" height="2" fill="#4a8216"/>
<rect x="504" y="126" width="3" height="1" fill="#ffffff"/>
<rect x="506" y="127" width="2" height="2" fill="#4a8216"/>
<rect x="504" y="130" width="3" height="1" fill="#ffffff"/>
<rect x="503" y="129" width="2" height="2" fill="#ffffff"/>
<rect x="506" y="131" width="2" height="2" fill="#4a8216"/>
<rect x="504" y="134" width="3" height="1" fill="#ffffff"/>
<rect x="506" y="135" width="2" height="2" fill="#4a8216"/>
<rect x="546" y="114" width="1" height="25" fill="#00ff00"/>
<rect x="546" y="114" width="5" height="1" fill="#ffffff"/>
<rect x="550" y="113" width="2" height="2" fill="#ffffff"/>
<rect x="545" y="115" width="2" height="2" fill="#4a8216"/>
<rect x="546" y="118" width="5" height="1" fill="#ffffff"/>
<rect x="545" y="119" width="2" height="2" fill="#4a8216"/>
<rect x="546" y="122" width="5" height="1" fill="#ffffff"/>
<rect x="550" y="121" width="2" height="2" fill="#ffffff"/>
<rect x="545" y="123" width="2" height="2" fill="#4a8216"/>
<rect x="546" y="126" width="5" height="1" fill="#ffffff"/>
<rect x="545" y="127" width="2" height="2" fill="#4a8216"/>
<rect x="546" y="130" width="5" height="1" fill="#ffffff"/>
<rect x="550" y="129" width="2" height="2" fill="#ffffff"/>
<rect x="545" y="131" width="2" height="2" fill="#4a8216"/>
<rect x="546" y="134" width="5" height="1" fill="#ffffff"/>
<rect x="545" y="135" width="2" height="2" fill="#4a8216"/>
<rect x="510" y="139" width="34" height="1" fill="#00ff00"/>
<rect x="511" y="138" width="1" height="3" fill="#00ff00"/>
<rect x="542" y="138" width="1" height="3" fill="#00ff00"/>
<rect x="509" y="137" width="3" height="1" fill="#ffffff"/>
<rect x="542" y="137" width="3" height="1" fill="#ffffff"/>
<rect x="524" y="141" width="8" height="1" fill="#00ff00"/>
<line x1="518.5" y1="142.5" x2="527.5" y2="141.5" stroke="#ffffff" stroke-width="1"/>
<rect x="521" y="143" width="5" height="1" fill="#ffffff"/>
<rect x="520" y="143" width="2" height="2" fill="#ff0000"/>
<rect x="508" y="172" width="30" height="1" fill="#ffffff"/>
<rect x="508" y="191" width="30" height="1" fill="#ffffff"/>
<rect x="508" y="172" width="1" height="20" fill="#ffffff"/>
<rect x="537" y="172" width="1" height="20" fill="#ffffff"/>
<rect x="508" y="168" width="10" height="1" fill="#8a8a8a"/>
<rect x="508" y="171" width="10" height="1" fill="#8a8a8a"/>
<rect x="508" y="168" width="1" height="4" fill="#8a8a8a"/>
<rect x="517" y="168" width="1" height="4" fill="#8a8a8a"/>
<rect x="527" y="168" width="11" height="1" fill="#8a8a8a"/>
<rect x="527" y="171" width="11" height="1" fill="#8a8a8a"/>
<rect x="527" y="168" width="1" height="4" fill="#8a8a8a"/>
<rect x="537" y="168" width="1" height="4" fill="#8a8a8a"/>
<rect x="509" y="169" width="3" height="2" fill="#1e90d8"/>
<rect x="529" y="169" width="3" height="2" fill="#1e90d8"/>
<rect x="534" y="169" width="2" height="2" fill="#1e90d8"/>
<rect x="521" y="166" width="1" height="7" fill="#00ff00"/>
<rect x="521" y="166" width="7" height="1" fill="#00ff00"/>
<rect x="528" y="165" width="7" height="1" fill="#ffffff"/>
<rect x="528" y="166" width="6" height="1" fill="#ffffff"/>
<rect x="535" y="166" width="1" height="1" fill="#ffffff"/>
<rect x="509" y="174" width="4" height="2" fill="#1e90d8"/>
<rect x="514" y="174" width="4" height="2" fill="#1e90d8"/>
<rect x="519" y="174" width="8" height="2" fill="#1e90d8"/>
<rect x="529" y="174" width="4" height="2" fill="#1e90d8"/>
<rect x="534" y="174" width="3" height="2" fill="#1e90d8"/>
<rect x="509" y="178" width="4" height="2" fill="#1e90d8"/>
<rect x="514" y="178" width="4" height="2" fill="#1e90d8"/>
<rect x="519" y="178" width="8" height="2" fill="#1e90d8"/>
<rect x="529" y="178" width="4" height="2" fill="#1e90d8"/>
<rect x="534" y="178" width="3" height="2" fill="#1e90d8"/>
<rect x="509" y="182" width="4" height="2" fill="#1e90d8"/>
<rect x="514" y="182" width="4" height="2" fill="#1e90d8"/>
<rect x="519" y="182" width="8" height="2" fill="#1e90d8"/>
<rect x="529" y="182" width="4" height="2" fill="#1e90d8"/>
<rect x="534" y="182" width="3" height="2" fill="#1e90d8"/>
<rect x="509" y="186" width="4" height="2" fill="#1e90d8"/>
<rect x="514" y="186" width="4" height="2" fill="#1e90d8"/>
<rect x="519" y="186" width="8" height="2" fill="#1e90d8"/>
<rect x="529" y="186" width="4" height="2" fill="#1e90d8"/>
<rect x="534" y="186" width="3" height="2" fill="#1e90d8"/>
<rect x="509" y="176" width="28" height="2" fill="#7b3b12"/>
<rect x="509" y="180" width="28" height="2" fill="#7b3b12"/>
<rect x="509" y="184" width="28" height="2" fill="#7b3b12"/>
<rect x="509" y="189" width="28" height="2" fill="#7b3b12"/>
<rect x="518" y="173" width="1" height="18" fill="#ffffff"/>
<rect x="528" y="173" width="1" height="18" fill="#ffffff"/>
<rect x="504" y="167" width="1" height="25" fill="#00ff00"/>
<rect x="501" y="167" width="4" height="1" fill="#ffffff"/>
<rect x="500" y="166" width="2" height="2" fill="#ffffff"/>
<rect x="504" y="168" width="2" height="2" fill="#4a8216"/>
<rect x="501" y="171" width="4" height="1" fill="#ffffff"/>
<rect x="504" y="172" width="2" height="2" fill="#4a8216"/>
<rect x="501" y="175" width="4" height="1" fill="#ffffff"/>
<rect x="500" y="174" width="2" height="2" fill="#ffffff"/>
<rect x="504" y="176" width="2" height="2" fill="#4a8216"/>
<rect x="501" y="179" width="4" height="1" fill="#ffffff"/>
<rect x="504" y="180" width="2" height="2" fill="#4a8216"/>
<rect x="501" y="183" width="4" height="1" fill="#ffffff"/>
<rect x="500" y="182" width="2" height="2" fill="#ffffff"/>
<rect x="504" y="184" width="2" height="2" fill="#4a8216"/>
<rect x="501" y="187" width="4" height="1" fill="#ffffff"/>
<rect x="504" y="188" width="2" height="2" fill="#4a8216"/>
<rect x="541" y="167" width="1" height="25" fill="#00ff00"/>
<rect x="541" y="167" width="5" height="1" fill="#ffffff"/>
<rect x="545" y="166" width="2" height="2" fill="#ffffff"/>
<rect x="540" y="168" width="2" height="2" fill="#4a8216"/>
<rect x="541" y="171" width="5" height="1" fill="#ffffff"/>
<rect x="540" y="172" width="2" height="2" fill="#4a8216"/>
<rect x="541" y="175" width="5" height="1" fill="#ffffff"/>
<rect x="545" y="174" width="2" height="2" fill="#ffffff"/>
<rect x="540" y="176" width="2" height="2" fill="#4a8216"/>
<rect x="541" y="179" width="5" height="1" fill="#ffffff"/>
<rect x="540" y="180" width="2" height="2" fill="#4a8216"/>
<rect x="541" y="183" width="5" height="1" fill="#ffffff"/>
<rect x="545" y="182" width="2" height="2" fill="#ffffff"/>
<rect x="540" y="184" width="2" height="2" fill="#4a8216"/>
<rect x="541" y="187" width="5" height="1" fill="#ffffff"/>
<rect x="540" y="188" width="2" height="2" fill="#4a8216"/>
<rect x="506" y="187" width="2" height="1" fill="#ff00ff"/>
<rect x="538" y="187" width="2" height="1" fill="#ff00ff"/>
<rect x="507" y="192" width="32" height="1" fill="#00ff00"/>
<rect x="508" y="191" width="1" height="3" fill="#00ff00"/>
<rect x="537" y="191" width="1" height="3" fill="#00ff00"/>
<rect x="522" y="191" width="1" height="2" fill="#ffffff"/>
<rect x="513" y="194" width="4" height="1" fill="#ffffff"/>
<rect x="519" y="194" width="4" height="1" fill="#ffffff"/>
<rect x="513" y="195" width="3" height="1" fill="#ffffff"/>
<rect x="522" y="195" width="4" height="1" fill="#ffffff"/>
<rect x="506" y="228" width="9" height="1" fill="#ffffff"/>
<rect x="506" y="228" width="1" height="24" fill="#ffffff"/>
<rect x="514" y="228" width="1" height="4" fill="#ffffff"/>
<rect x="514" y="231" width="14" height="1" fill="#ffffff"/>
<rect x="527" y="231" width="1" height="21" fill="#ffffff"/>
<rect x="506" y="251" width="22" height="1" fill="#ffffff"/>
<rect x="515" y="226" width="8" height="1" fill="#00ff00"/>
<rect x="522" y="226" width="1" height="6" fill="#00ff00"/>
<rect x="515" y="229" width="2" height="1" fill="#ff00ff"/>
<rect x="508" y="226" width="6" height="2" fill="#ffffff"/>
<rect x="515" y="234" width="4" height="3" fill="#1e90d8"/>
<rect x="515" y="238" width="4" height="3" fill="#1e90d8"/>
<rect x="515" y="242" width="4" height="3" fill="#1e90d8"/>
<rect x="513" y="247" width="4" height="2" fill="#ff00ff"/>
<rect x="514" y="249" width="2" height="2" fill="#1e90d8"/>
<rect x="507" y="252" width="20" height="1" fill="#4a8216"/>
<rect x="506" y="253" width="22" height="1" fill="#4a8216"/>
<rect x="559" y="228" width="9" height="1" fill="#ffffff"/>
<rect x="567" y="228" width="1" height="24" fill="#ffffff"/>
<rect x="559" y="228" width="1" height="4" fill="#ffffff"/>
<rect x="546" y="231" width="14" height="1" fill="#ffffff"/>
<rect x="546" y="231" width="1" height="21" fill="#ffffff"/>
<rect x="546" y="251" width="22" height="1" fill="#ffffff"/>
<rect x="551" y="226" width="8" height="1" fill="#00ff00"/>
<rect x="551" y="226" width="1" height="6" fill="#00ff00"/>
<rect x="557" y="229" width="2" height="1" fill="#ff00ff"/>
<rect x="560" y="226" width="6" height="2" fill="#ffffff"/>
<rect x="554" y="234" width="4" height="3" fill="#1e90d8"/>
<rect x="554" y="238" width="4" height="3" fill="#1e90d8"/>
<rect x="554" y="242" width="4" height="3" fill="#1e90d8"/>
<rect x="552" y="247" width="4" height="2" fill="#ff00ff"/>
<rect x="553" y="249" width="2" height="2" fill="#1e90d8"/>
<rect x="547" y="252" width="20" height="1" fill="#4a8216"/>
<rect x="546" y="253" width="22" height="1" fill="#4a8216"/>
<rect x="503" y="227" width="1" height="25" fill="#00ff00"/>
<rect x="501" y="227" width="3" height="1" fill="#ffffff"/>
<rect x="500" y="226" width="2" height="2" fill="#ffffff"/>
<rect x="503" y="228" width="2" height="2" fill="#4a8216"/>
<rect x="501" y="231" width="3" height="1" fill="#ffffff"/>
<rect x="503" y="232" width="2" height="2" fill="#4a8216"/>
<rect x="501" y="235" width="3" height="1" fill="#ffffff"/>
<rect x="500" y="234" width="2" height="2" fill="#ffffff"/>
<rect x="503" y="236" width="2" height="2" fill="#4a8216"/>
<rect x="501" y="239" width="3" height="1" fill="#ffffff"/>
<rect x="503" y="240" width="2" height="2" fill="#4a8216"/>
<rect x="501" y="243" width="3" height="1" fill="#ffffff"/>
<rect x="500" y="242" width="2" height="2" fill="#ffffff"/>
<rect x="503" y="244" width="2" height="2" fill="#4a8216"/>
<rect x="501" y="247" width="3" height="1" fill="#ffffff"/>
<rect x="503" y="248" width="2" height="2" fill="#4a8216"/>
<rect x="530" y="227" width="1" height="25" fill="#00ff00"/>
<rect x="530" y="227" width="4" height="1" fill="#ffffff"/>
<rect x="533" y="226" width="2" height="2" fill="#ffffff"/>
<rect x="529" y="228" width="2" height="2" fill="#4a8216"/>
<rect x="530" y="231" width="4" height="1" fill="#ffffff"/>
<rect x="529" y="232" width="2" height="2" fill="#4a8216"/>
<rect x="530" y="235" width="4" height="1" fill="#ffffff"/>
<rect x="533" y="234" width="2" height="2" fill="#ffffff"/>
<rect x="529" y="236" width="2" height="2" fill="#4a8216"/>
<rect x="530" y="239" width="4" height="1" fill="#ffffff"/>
<rect x="529" y="240" width="2" height="2" fill="#4a8216"/>
<rect x="530" y="243" width="4" height="1" fill="#ffffff"/>
<rect x="533" y="242" width="2" height="2" fill="#ffffff"/>
<rect x="529" y="244" width="2" height="2" fill="#4a8216"/>
<rect x="530" y="247" width="4" height="1" fill="#ffffff"/>
<rect x="529" y="248" width="2" height="2" fill="#4a8216"/>
<rect x="541" y="227" width="1" height="25" fill="#00ff00"/>
<rect x="539" y="227" width="3" height="1" fill="#ffffff"/>
<rect x="538" y="226" width="2" height="2" fill="#ffffff"/>
<rect x="541" y="228" width="2" height="2" fill="#4a8216"/>
<rect x="539" y="231" width="3" height="1" fill="#ffffff"/>
<rect x="541" y="232" width="2" height="2" fill="#4a8216"/>
<rect x="539" y="235" width="3" height="1" fill="#ffffff"/>
<rect x="538" y="234" width="2" height="2" fill="#ffffff"/>
<rect x="541" y="236" width="2" height="2" fill="#4a8216"/>
<rect x="539" y="239" width="3" height="1" fill="#ffffff"/>
<rect x="541" y="240" width="2" height="2" fill="#4a8216"/>
<rect x="539" y="243" width="3" height="1" fill="#ffffff"/>
<rect x="538" y="242" width="2" height="2" fill="#ffffff"/>
<rect x="541" y="244" width="2" height="2" fill="#4a8216"/>
<rect x="539" y="247" width="3" height="1" fill="#ffffff"/>
<rect x="541" y="248" width="2" height="2" fill="#4a8216"/>
<rect x="569" y="227" width="1" height="25" fill="#00ff00"/>
<rect x="569" y="227" width="4" height="1" fill="#ffffff"/>
<rect x="572" y="226" width="2" height="2" fill="#ffffff"/>
<rect x="568" y="228" width="2" height="2" fill="#4a8216"/>
<rect x="569" y="231" width="4" height="1" fill="#ffffff"/>
<rect x="568" y="232" width="2" height="2" fill="#4a8216"/>
<rect x="569" y="235" width="4" height="1" fill="#ffffff"/>
<rect x="572" y="234" width="2" height="2" fill="#ffffff"/>
<rect x="568" y="236" width="2" height="2" fill="#4a8216"/>
<rect x="569" y="239" width="4" height="1" fill="#ffffff"/>
<rect x="568" y="240" width="2" height="2" fill="#4a8216"/>
<rect x="569" y="243" width="4" height="1" fill="#ffffff"/>
<rect x="572" y="242" width="2" height="2" fill="#ffffff"/>
<rect x="568" y="244" width="2" height="2" fill="#4a8216"/>
<rect x="569" y="247" width="4" height="1" fill="#ffffff"/>
<rect x="568" y="248" width="2" height="2" fill="#4a8216"/>
<rect x="526" y="245" width="4" height="1" fill="#1e90d8"/>
<rect x="543" y="245" width="4" height="1" fill="#1e90d8"/>
<rect x="504" y="256" width="1" height="1" fill="#ffffff"/>
<rect x="508" y="256" width="2" height="1" fill="#ffffff"/>
<rect x="512" y="256" width="2" height="1" fill="#ffffff"/>
<rect x="512" y="254" width="5" height="1" fill="#00ff00"/>
<rect x="512" y="255" width="9" height="1" fill="#00ff00"/>
<rect x="514" y="254" width="2" height="1" fill="#ffffff"/>
<rect x="544" y="256" width="4" height="1" fill="#ffffff"/>
<rect x="549" y="256" width="4" height="1" fill="#ffffff"/>
<rect x="552" y="254" width="9" height="1" fill="#00ff00"/>
<rect x="552" y="255" width="9" height="1" fill="#00ff00"/>
<rect x="506" y="281" width="1" height="25" fill="#00ff00"/>
<rect x="504" y="281" width="3" height="1" fill="#ffffff"/>
<rect x="503" y="280" width="2" height="2" fill="#ffffff"/>
<rect x="506" y="282" width="2" height="2" fill="#4a8216"/>
<rect x="504" y="285" width="3" height="1" fill="#ffffff"/>
<rect x="506" y="286" width="2" height="2" fill="#4a8216"/>
<rect x="504" y="289" width="3" height="1" fill="#ffffff"/>
<rect x="503" y="288" width="2" height="2" fill="#ffffff"/>
<rect x="506" y="290" width="2" height="2" fill="#4a8216"/>
<rect x="504" y="293" width="3" height="1" fill="#ffffff"/>
<rect x="506" y="294" width="2" height="2" fill="#4a8216"/>
<rect x="504" y="297" width="3" height="1" fill="#ffffff"/>
<rect x="503" y="296" width="2" height="2" fill="#ffffff"/>
<rect x="506" y="298" width="2" height="2" fill="#4a8216"/>
<rect x="504" y="301" width="3" height="1" fill="#ffffff"/>
<rect x="506" y="302" width="2" height="2" fill="#4a8216"/>
<rect x="530" y="281" width="1" height="25" fill="#00ff00"/>
<rect x="530" y="281" width="4" height="1" fill="#ffffff"/>
<rect x="533" y="280" width="2" height="2" fill="#ffffff"/>
<rect x="529" y="282" width="2" height="2" fill="#4a8216"/>
<rect x="530" y="285" width="4" height="1" fill="#ffffff"/>
<rect x="529" y="286" width="2" height="2" fill="#4a8216"/>
<rect x="530" y="289" width="4" height="1" fill="#ffffff"/>
<rect x="533" y="288" width="2" height="2" fill="#ffffff"/>
<rect x="529" y="290" width="2" height="2" fill="#4a8216"/>
<rect x="530" y="293" width="4" height="1" fill="#ffffff"/>
<rect x="529" y="294" width="2" height="2" fill="#4a8216"/>
<rect x="530" y="297" width="4" height="1" fill="#ffffff"/>
<rect x="533" y="296" width="2" height="2" fill="#ffffff"/>
<rect x="529" y="298" width="2" height="2" fill="#4a8216"/>
<rect x="530" y="301" width="4" height="1" fill="#ffffff"/>
<rect x="529" y="302" width="2" height="2" fill="#4a8216"/>
<rect x="517" y="284" width="1" height="21" fill="#1e90d8"/>
<rect x="521" y="284" width="1" height="21" fill="#1e90d8"/>
<rect x="527" y="284" width="1" height="21" fill="#1e90d8"/>
<rect x="510" y="285" width="19" height="1" fill="#ffffff"/>
<rect x="510" y="289" width="19" height="1" fill="#ffffff"/>
<rect x="510" y="293" width="19" height="1" fill="#ffffff"/>
<rect x="510" y="297" width="19" height="1" fill="#ffffff"/>
<rect x="510" y="300" width="19" height="1" fill="#ffffff"/>
<rect x="510" y="304" width="19" height="1" fill="#ffffff"/>
<rect x="509" y="281" width="3" height="1" fill="#ffffff"/>
<rect x="514" y="281" width="6" height="1" fill="#ffffff"/>
<rect x="522" y="281" width="3" height="1" fill="#ffffff"/>
<rect x="514" y="282" width="4" height="1" fill="#ffffff"/>
<rect x="520" y="282" width="5" height="1" fill="#ffffff"/>
<rect x="513" y="283" width="4" height="1" fill="#ffffff"/>
<rect x="518" y="283" width="2" height="1" fill="#ffffff"/>
<rect x="511" y="286" width="3" height="1" fill="#00ffff"/>
<rect x="513" y="287" width="3" height="1" fill="#00ffff"/>
<rect x="514" y="288" width="3" height="1" fill="#00ffff"/>
<rect x="511" y="289" width="3" height="1" fill="#00ffff"/>
<rect x="511" y="291" width="3" height="1" fill="#00ffff"/>
<rect x="513" y="292" width="3" height="1" fill="#00ffff"/>
<rect x="514" y="293" width="3" height="1" fill="#00ffff"/>
<rect x="511" y="294" width="3" height="1" fill="#00ffff"/>
<rect x="511" y="296" width="3" height="1" fill="#00ffff"/>
<rect x="513" y="297" width="3" height="1" fill="#00ffff"/>
<rect x="514" y="298" width="3" height="1" fill="#00ffff"/>
<rect x="511" y="299" width="3" height="1" fill="#00ffff"/>
<rect x="511" y="300" width="3" height="1" fill="#00ffff"/>
<rect x="513" y="301" width="3" height="1" fill="#00ffff"/>
<rect x="514" y="302" width="3" height="1" fill="#00ffff"/>
<rect x="511" y="303" width="3" height="1" fill="#00ffff"/>
<rect x="512" y="287" width="3" height="1" fill="#00ffff"/>
<rect x="515" y="288" width="2" height="1" fill="#00ffff"/>
<rect x="510" y="290" width="7" height="1" fill="#00ffff"/>
<rect x="510" y="291" width="7" height="1" fill="#00ffff"/>
<rect x="510" y="293" width="1" height="1" fill="#00ffff"/>
<rect x="512" y="295" width="5" height="1" fill="#00ffff"/>
<rect x="510" y="296" width="4" height="1" fill="#00ffff"/>
<rect x="509" y="307" width="9" height="1" fill="#ffffff"/>
<rect x="519" y="307" width="8" height="1" fill="#ffffff"/>
<rect x="511" y="308" width="7" height="1" fill="#ffffff"/>
<rect x="520" y="308" width="5" height="1" fill="#ffffff"/>
<rect x="509" y="309" width="13" height="1" fill="#ffffff"/>
<rect x="524" y="309" width="1" height="1" fill="#ffffff"/>
<rect x="527" y="309" width="2" height="1" fill="#ffffff"/>
<rect x="514" y="308" width="11" height="1" fill="#00ff00"/>
<rect x="552" y="281" width="8" height="1" fill="#00ff00"/>
<rect x="552" y="307" width="8" height="1" fill="#00ff00"/>
<rect x="552" y="281" width="1" height="27" fill="#00ff00"/>
<rect x="559" y="281" width="1" height="27" fill="#00ff00"/>
<rect x="553" y="282" width="6" height="1" fill="#ffffff"/>
<rect x="553" y="306" width="6" height="1" fill="#ffffff"/>
<rect x="553" y="282" width="1" height="25" fill="#ffffff"/>
<rect x="558" y="282" width="1" height="25" fill="#ffffff"/>
<rect x="554" y="283" width="4" height="23" fill="#000000"/>
<rect x="554" y="285" width="1" height="1" fill="#00ffff"/>
<rect x="555" y="286" width="3" height="1" fill="#00ffff"/>
<rect x="554" y="287" width="1" height="1" fill="#00ffff"/>
<rect x="554" y="288" width="3" height="1" fill="#00ffff"/>
<rect x="555" y="291" width="3" height="1" fill="#00ffff"/>
<rect x="554" y="292" width="2" height="1" fill="#00ffff"/>
<rect x="554" y="294" width="4" height="1" fill="#00ffff"/>
<rect x="555" y="295" width="3" height="1" fill="#00ffff"/>
<rect x="554" y="296" width="1" height="1" fill="#00ffff"/>
<rect x="554" y="297" width="4" height="1" fill="#00ffff"/>
<rect x="554" y="298" width="3" height="1" fill="#00ffff"/>
<rect x="557" y="300" width="1" height="1" fill="#00ffff"/>
<rect x="554" y="303" width="1" height="1" fill="#00ffff"/>
<rect x="555" y="284" width="1" height="21" fill="#1e90d8"/>
<rect x="550" y="282" width="1" height="25" fill="#00ff00"/>
<rect x="548" y="282" width="3" height="1" fill="#ffffff"/>
<rect x="547" y="281" width="2" height="2" fill="#ffffff"/>
<rect x="550" y="283" width="2" height="2" fill="#4a8216"/>
<rect x="548" y="286" width="3" height="1" fill="#ffffff"/>
<rect x="550" y="287" width="2" height="2" fill="#4a8216"/>
<rect x="548" y="290" width="3" height="1" fill="#ffffff"/>
<rect x="547" y="289" width="2" height="2" fill="#ffffff"/>
<rect x="550" y="291" width="2" height="2" fill="#4a8216"/>
<rect x="548" y="294" width="3" height="1" fill="#ffffff"/>
<rect x="550" y="295" width="2" height="2" fill="#4a8216"/>
<rect x="548" y="298" width="3" height="1" fill="#ffffff"/>
<rect x="547" y="297" width="2" height="2" fill="#ffffff"/>
<rect x="550" y="299" width="2" height="2" fill="#4a8216"/>
<rect x="548" y="302" width="3" height="1" fill="#ffffff"/>
<rect x="550" y="303" width="2" height="2" fill="#4a8216"/>
<rect x="561" y="282" width="1" height="25" fill="#00ff00"/>
<rect x="561" y="282" width="4" height="1" fill="#ffffff"/>
<rect x="564" y="281" width="2" height="2" fill="#ffffff"/>
<rect x="560" y="283" width="2" height="2" fill="#4a8216"/>
<rect x="561" y="286" width="4" height="1" fill="#ffffff"/>
<rect x="560" y="287" width="2" height="2" fill="#4a8216"/>
<rect x="561" y="290" width="4" height="1" fill="#ffffff"/>
<rect x="564" y="289" width="2" height="2" fill="#ffffff"/>
<rect x="560" y="291" width="2" height="2" fill="#4a8216"/>
<rect x="561" y="294" width="4" height="1" fill="#ffffff"/>
<rect x="560" y="295" width="2" height="2" fill="#4a8216"/>
<rect x="561" y="298" width="4" height="1" fill="#ffffff"/>
<rect x="564" y="297" width="2" height="2" fill="#ffffff"/>
<rect x="560" y="299" width="2" height="2" fill="#4a8216"/>
<rect x="561" y="302" width="4" height="1" fill="#ffffff"/>
<rect x="560" y="303" width="2" height="2" fill="#4a8216"/>
<rect x="553" y="309" width="8" height="2" fill="#ffffff"/>
<rect x="497" y="312" width="63" height="1" fill="#ffff00"/>
<rect x="559" y="312" width="1" height="7" fill="#ffff00"/>
<rect x="498" y="313" width="8" height="1" fill="#ffffff"/>
<rect x="507" y="313" width="2" height="1" fill="#ffffff"/>
<rect x="498" y="314" width="11" height="1" fill="#ffffff"/>
<rect x="498" y="315" width="6" height="1" fill="#ffffff"/>
<rect x="498" y="316" width="6" height="1" fill="#ffffff"/>
<rect x="508" y="316" width="1" height="1" fill="#ffffff"/>
<rect x="498" y="317" width="1" height="1" fill="#ffffff"/>
<rect x="502" y="317" width="2" height="1" fill="#ffffff"/>
<rect x="510" y="313" width="1" height="1" fill="#ffffff"/>
<rect x="518" y="313" width="4" height="1" fill="#ffffff"/>
<rect x="523" y="313" width="2" height="1" fill="#ffffff"/>
<rect x="527" y="313" width="1" height="1" fill="#ffffff"/>
<rect x="510" y="314" width="5" height="1" fill="#ffffff"/>
<rect x="517" y="314" width="4" height="1" fill="#ffffff"/>
<rect x="510" y="315" width="10" height="1" fill="#ffffff"/>
<rect x="527" y="315" width="1" height="1" fill="#ffffff"/>
<rect x="510" y="316" width="5" height="1" fill="#ffffff"/>
<rect x="519" y="316" width="1" height="1" fill="#ffffff"/>
<rect x="522" y="316" width="6" height="1" fill="#ffffff"/>
<rect x="513" y="317" width="2" height="1" fill="#ffffff"/>
<rect x="520" y="317" width="1" height="1" fill="#ffffff"/>
<rect x="523" y="317" width="5" height="1" fill="#ffffff"/>
<rect x="531" y="313" width="7" height="1" fill="#ffffff"/>
<rect x="530" y="314" width="6" height="1" fill="#ffffff"/>
<rect x="537" y="314" width="1" height="1" fill="#ffffff"/>
<rect x="530" y="315" width="8" height="1" fill="#ffffff"/>
<rect x="531" y="316" width="2" height="1" fill="#ffffff"/>
<rect x="531" y="317" width="1" height="1" fill="#ffffff"/>
<rect x="533" y="317" width="5" height="1" fill="#ffffff"/>
<rect x="545" y="313" width="6" height="1" fill="#ffffff"/>
<rect x="552" y="313" width="2" height="1" fill="#ffffff"/>
<rect x="549" y="314" width="2" height="1" fill="#ffffff"/>
<rect x="552" y="314" width="4" height="1" fill="#ffffff"/>
<rect x="544" y="315" width="3" height="1" fill="#ffffff"/>
<rect x="548" y="315" width="1" height="1" fill="#ffffff"/>
<rect x="555" y="315" width="1" height="1" fill="#ffffff"/>
<rect x="544" y="316" width="3" height="1" fill="#ffffff"/>
<rect x="549" y="316" width="7" height="1" fill="#ffffff"/>
<rect x="544" y="317" width="2" height="1" fill="#ffffff"/>
<rect x="551" y="317" width="5" height="1" fill="#ffffff"/>
<rect x="522" y="315" width="2" height="1" fill="#00ff00"/>
<rect x="520" y="316" width="3" height="1" fill="#00ff00"/>
<rect x="524" y="316" width="1" height="1" fill="#00ff00"/>
<rect x="642" y="101" width="47" height="1" fill="#0e84b6"/>
<rect x="642" y="126" width="47" height="1" fill="#0e84b6"/>
<rect x="642" y="101" width="1" height="26" fill="#0e84b6"/>
<rect x="688" y="101" width="1" height="26" fill="#0e84b6"/>
<rect x="644" y="102" width="44" height="1" fill="#0e84b6"/>
<rect x="644" y="126" width="44" height="1" fill="#0e84b6"/>
<rect x="644" y="102" width="1" height="25" fill="#0e84b6"/>
<rect x="687" y="102" width="1" height="25" fill="#0e84b6"/>
<rect x="635" y="101" width="8" height="1" fill="#a82028"/>
<rect x="642" y="96" width="1" height="6" fill="#a82028"/>
<rect x="683" y="102" width="4" height="24" fill="#ffffff"/>
<rect x="685" y="102" width="1" height="2" fill="#00ffff"/>
<rect x="684" y="104" width="3" height="2" fill="#000000"/>
<rect x="684" y="104" width="2" height="1" fill="#ffffff"/>
<rect x="684" y="106" width="3" height="1" fill="#000000"/>
<rect x="684" y="107" width="3" height="1" fill="#000000"/>
<rect x="684" y="107" width="2" height="1" fill="#00ffff"/>
<rect x="685" y="109" width="2" height="1" fill="#000000"/>
<rect x="683" y="109" width="2" height="1" fill="#00ffff"/>
<rect x="684" y="110" width="3" height="2" fill="#000000"/>
<rect x="685" y="111" width="1" height="1" fill="#ffffff"/>
<rect x="684" y="110" width="1" height="2" fill="#ffffff"/>
<rect x="683" y="112" width="3" height="6" fill="#00ffff"/>
<rect x="684" y="113" width="1" height="5" fill="#ffffff"/>
<rect x="683" y="112" width="1" height="6" fill="#ffffff"/>
<rect x="684" y="117" width="3" height="7" fill="#000000"/>
<rect x="684" y="123" width="3" height="3" fill="#00ffff"/>
<rect x="684" y="123" width="1" height="2" fill="#ffffff"/>
<rect x="642" y="131" width="47" height="1" fill="#0e84b6"/>
<rect x="642" y="157" width="47" height="1" fill="#0e84b6"/>
<rect x="642" y="131" width="1" height="27" fill="#0e84b6"/>
<rect x="688" y="131" width="1" height="27" fill="#0e84b6"/>
<rect x="644" y="132" width="44" height="1" fill="#0e84b6"/>
<rect x="644" y="157" width="44" height="1" fill="#0e84b6"/>
<rect x="644" y="132" width="1" height="26" fill="#0e84b6"/>
<rect x="687" y="132" width="1" height="26" fill="#0e84b6"/>
<rect x="635" y="131" width="8" height="1" fill="#a82028"/>
<rect x="642" y="126" width="1" height="6" fill="#a82028"/>
<rect x="683" y="132" width="4" height="25" fill="#ffffff"/>
<rect x="685" y="132" width="1" height="2" fill="#00ffff"/>
<rect x="684" y="134" width="3" height="2" fill="#000000"/>
<rect x="684" y="134" width="2" height="1" fill="#ffffff"/>
<rect x="684" y="136" width="3" height="1" fill="#000000"/>
<rect x="684" y="137" width="3" height="1" fill="#000000"/>
<rect x="684" y="137" width="2" height="1" fill="#00ffff"/>
<rect x="685" y="139" width="2" height="1" fill="#000000"/>
<rect x="683" y="139" width="2" height="1" fill="#00ffff"/>
<rect x="684" y="141" width="3" height="2" fill="#000000"/>
<rect x="685" y="141" width="1" height="1" fill="#ffffff"/>
<rect x="684" y="141" width="1" height="2" fill="#ffffff"/>
<rect x="683" y="143" width="3" height="6" fill="#00ffff"/>
<rect x="684" y="143" width="1" height="5" fill="#ffffff"/>
<rect x="683" y="143" width="1" height="6" fill="#ffffff"/>
<rect x="684" y="148" width="3" height="7" fill="#000000"/>
<rect x="684" y="154" width="3" height="3" fill="#00ffff"/>
<rect x="684" y="154" width="1" height="2" fill="#ffffff"/>
<rect x="642" y="161" width="47" height="1" fill="#0e84b6"/>
<rect x="642" y="187" width="47" height="1" fill="#0e84b6"/>
<rect x="642" y="161" width="1" height="27" fill="#0e84b6"/>
<rect x="688" y="161" width="1" height="27" fill="#0e84b6"/>
<rect x="644" y="162" width="44" height="1" fill="#0e84b6"/>
<rect x="644" y="187" width="44" height="1" fill="#0e84b6"/>
<rect x="644" y="162" width="1" height="26" fill="#0e84b6"/>
<rect x="687" y="162" width="1" height="26" fill="#0e84b6"/>
<rect x="635" y="161" width="8" height="1" fill="#a82028"/>
<rect x="642" y="156" width="1" height="6" fill="#a82028"/>
<rect x="683" y="162" width="4" height="25" fill="#ffffff"/>
<rect x="685" y="162" width="1" height="2" fill="#00ffff"/>
<rect x="684" y="164" width="3" height="2" fill="#000000"/>
<rect x="684" y="164" width="2" height="1" fill="#ffffff"/>
<rect x="684" y="166" width="3" height="1" fill="#000000"/>
<rect x="684" y="167" width="3" height="1" fill="#000000"/>
<rect x="684" y="167" width="2" height="1" fill="#00ffff"/>
<rect x="685" y="169" width="2" height="1" fill="#000000"/>
<rect x="683" y="169" width="2" height="1" fill="#00ffff"/>
<rect x="684" y="171" width="3" height="2" fill="#000000"/>
<rect x="685" y="171" width="1" height="1" fill="#ffffff"/>
<rect x="684" y="171" width="1" height="2" fill="#ffffff"/>
<rect x="683" y="173" width="3" height="6" fill="#00ffff"/>
<rect x="684" y="173" width="1" height="5" fill="#ffffff"/>
<rect x="683" y="173" width="1" height="6" fill="#ffffff"/>
<rect x="684" y="178" width="3" height="7" fill="#000000"/>
<rect x="684" y="184" width="3" height="3" fill="#00ffff"/>
<rect x="684" y="184" width="1" height="2" fill="#ffffff"/>
<rect x="642" y="192" width="47" height="1" fill="#0e84b6"/>
<rect x="642" y="217" width="47" height="1" fill="#0e84b6"/>
<rect x="642" y="192" width="1" height="26" fill="#0e84b6"/>
<rect x="688" y="192" width="1" height="26" fill="#0e84b6"/>
<rect x="644" y="193" width="44" height="1" fill="#0e84b6"/>
<rect x="644" y="217" width="44" height="1" fill="#0e84b6"/>
<rect x="644" y="193" width="1" height="25" fill="#0e84b6"/>
<rect x="687" y="193" width="1" height="25" fill="#0e84b6"/>
<rect x="635" y="192" width="8" height="1" fill="#a82028"/>
<rect x="642" y="187" width="1" height="6" fill="#a82028"/>
<rect x="683" y="193" width="4" height="24" fill="#ffffff"/>
<rect x="685" y="193" width="1" height="2" fill="#00ffff"/>
<rect x="684" y="195" width="3" height="2" fill="#000000"/>
<rect x="684" y="195" width="2" height="1" fill="#ffffff"/>
<rect x="684" y="197" width="3" height="1" fill="#000000"/>
<rect x="684" y="198" width="3" height="1" fill="#000000"/>
<rect x="684" y="198" width="2" height="1" fill="#00ffff"/>
<rect x="685" y="200" width="2" height="1" fill="#000000"/>
<rect x="683" y="200" width="2" height="1" fill="#00ffff"/>
<rect x="684" y="201" width="3" height="2" fill="#000000"/>
<rect x="685" y="202" width="1" height="1" fill="#ffffff"/>
<rect x="684" y="201" width="1" height="2" fill="#ffffff"/>
<rect x="683" y="203" width="3" height="6" fill="#00ffff"/>
<rect x="684" y="204" width="1" height="5" fill="#ffffff"/>
<rect x="683" y="203" width="1" height="6" fill="#ffffff"/>
<rect x="684" y="208" width="3" height="7" fill="#000000"/>
<rect x="684" y="214" width="3" height="3" fill="#00ffff"/>
<rect x="684" y="214" width="1" height="2" fill="#ffffff"/>
<rect x="644" y="105" width="5" height="1" fill="#4a8216"/>
<rect x="651" y="105" width="2" height="1" fill="#4a8216"/>
<rect x="647" y="106" width="6" height="1" fill="#4a8216"/>
<rect x="646" y="107" width="2" height="1" fill="#4a8216"/>
<rect x="650" y="107" width="3" height="1" fill="#4a8216"/>
<rect x="646" y="108" width="4" height="1" fill="#4a8216"/>
<rect x="651" y="108" width="2" height="1" fill="#4a8216"/>
<rect x="644" y="109" width="1" height="1" fill="#4a8216"/>
<rect x="646" y="109" width="1" height="1" fill="#4a8216"/>
<rect x="648" y="109" width="5" height="1" fill="#4a8216"/>
<rect x="644" y="110" width="9" height="1" fill="#4a8216"/>
<rect x="649" y="111" width="1" height="1" fill="#4a8216"/>
<rect x="651" y="111" width="2" height="1" fill="#4a8216"/>
<rect x="644" y="112" width="5" height="1" fill="#4a8216"/>
<rect x="650" y="112" width="3" height="1" fill="#4a8216"/>
<rect x="644" y="113" width="4" height="1" fill="#4a8216"/>
<rect x="644" y="114" width="7" height="1" fill="#4a8216"/>
<rect x="652" y="114" width="1" height="1" fill="#4a8216"/>
<rect x="645" y="115" width="1" height="1" fill="#4a8216"/>
<rect x="650" y="115" width="3" height="1" fill="#4a8216"/>
<rect x="644" y="116" width="9" height="1" fill="#4a8216"/>
<rect x="646" y="106" width="4" height="9" fill="#b0b0b0"/>
<rect x="647" y="111" width="3" height="3" fill="#ffff00"/>
<rect x="646" y="106" width="3" height="2" fill="#1e90d8"/>
<rect x="646" y="108" width="1" height="6" fill="#ffffff"/>
<rect x="644" y="105" width="1" height="1" fill="#ffffff"/>
<rect x="651" y="106" width="1" height="1" fill="#ffffff"/>
<rect x="644" y="107" width="1" height="1" fill="#ffffff"/>
<rect x="651" y="108" width="1" height="1" fill="#ffffff"/>
<rect x="644" y="109" width="1" height="1" fill="#ffffff"/>
<rect x="651" y="110" width="1" height="1" fill="#ffffff"/>
<rect x="644" y="111" width="1" height="1" fill="#ffffff"/>
<rect x="651" y="112" width="1" height="1" fill="#ffffff"/>
<rect x="644" y="113" width="1" height="1" fill="#ffffff"/>
<rect x="651" y="114" width="1" height="1" fill="#ffffff"/>
<rect x="644" y="115" width="1" height="1" fill="#ffffff"/>
<rect x="651" y="116" width="1" height="1" fill="#ffffff"/>
<rect x="647" y="104" width="2" height="1" fill="#ffffff"/>
<rect x="647" y="114" width="2" height="2" fill="#ff0000"/>
<rect x="646" y="117" width="5" height="1" fill="#00ff00"/>
<rect x="645" y="116" width="2" height="1" fill="#ffffff"/>
<rect x="648" y="116" width="1" height="1" fill="#ffffff"/>
<rect x="650" y="116" width="2" height="1" fill="#ffffff"/>
<rect x="654" y="105" width="3" height="1" fill="#4a8216"/>
<rect x="658" y="105" width="5" height="1" fill="#4a8216"/>
<rect x="654" y="106" width="1" height="1" fill="#4a8216"/>
<rect x="656" y="106" width="7" height="1" fill="#4a8216"/>
<rect x="654" y="107" width="2" height="1" fill="#4a8216"/>
<rect x="657" y="107" width="6" height="1" fill="#4a8216"/>
<rect x="654" y="108" width="9" height="1" fill="#4a8216"/>
<rect x="654" y="109" width="9" height="1" fill="#4a8216"/>
<rect x="654" y="110" width="2" height="1" fill="#4a8216"/>
<rect x="657" y="110" width="6" height="1" fill="#4a8216"/>
<rect x="657" y="111" width="6" height="1" fill="#4a8216"/>
<rect x="654" y="112" width="2" height="1" fill="#4a8216"/>
<rect x="658" y="112" width="2" height="1" fill="#4a8216"/>
<rect x="661" y="112" width="2" height="1" fill="#4a8216"/>
<rect x="654" y="113" width="3" height="1" fill="#4a8216"/>
<rect x="660" y="113" width="3" height="1" fill="#4a8216"/>
<rect x="654" y="114" width="1" height="1" fill="#4a8216"/>
<rect x="656" y="114" width="7" height="1" fill="#4a8216"/>
<rect x="654" y="115" width="2" height="1" fill="#4a8216"/>
<rect x="657" y="115" width="6" height="1" fill="#4a8216"/>
<rect x="654" y="116" width="3" height="1" fill="#4a8216"/>
<rect x="659" y="116" width="4" height="1" fill="#4a8216"/>
<rect x="656" y="106" width="4" height="9" fill="#ffff00"/>
<rect x="657" y="105" width="2" height="1" fill="#ffff00"/>
<rect x="654" y="105" width="1" height="1" fill="#ffffff"/>
<rect x="661" y="106" width="1" height="1" fill="#ffffff"/>
<rect x="654" y="107" width="1" height="1" fill="#ffffff"/>
<rect x="661" y="108" width="1" height="1" fill="#ffffff"/>
<rect x="654" y="109" width="1" height="1" fill="#ffffff"/>
<rect x="661" y="110" width="1" height="1" fill="#ffffff"/>
<rect x="654" y="111" width="1" height="1" fill="#ffffff"/>
<rect x="661" y="112" width="1" height="1" fill="#ffffff"/>
<rect x="654" y="113" width="1" height="1" fill="#ffffff"/>
<rect x="661" y="114" width="1" height="1" fill="#ffffff"/>
<rect x="654" y="115" width="1" height="1" fill="#ffffff"/>
<rect x="661" y="116" width="1" height="1" fill="#ffffff"/>
<rect x="657" y="104" width="2" height="1" fill="#ffffff"/>
<rect x="657" y="114" width="2" height="2" fill="#ff0000"/>
<rect x="656" y="117" width="5" height="1" fill="#00ff00"/>
<rect x="655" y="116" width="2" height="1" fill="#ffffff"/>
<rect x="663" y="105" width="9" height="1" fill="#4a8216"/>
<rect x="666" y="106" width="1" height="1" fill="#4a8216"/>
<rect x="668" y="106" width="4" height="1" fill="#4a8216"/>
<rect x="663" y="107" width="6" height="1" fill="#4a8216"/>
<rect x="670" y="107" width="2" height="1" fill="#4a8216"/>
<rect x="663" y="108" width="4" height="1" fill="#4a8216"/>
<rect x="665" y="109" width="1" height="1" fill="#4a8216"/>
<rect x="667" y="109" width="5" height="1" fill="#4a8216"/>
<rect x="663" y="110" width="4" height="1" fill="#4a8216"/>
<rect x="668" y="110" width="4" height="1" fill="#4a8216"/>
<rect x="663" y="111" width="9" height="1" fill="#4a8216"/>
<rect x="663" y="112" width="2" height="1" fill="#4a8216"/>
<rect x="667" y="112" width="5" height="1" fill="#4a8216"/>
<rect x="663" y="113" width="3" height="1" fill="#4a8216"/>
<rect x="671" y="113" width="1" height="1" fill="#4a8216"/>
<rect x="663" y="114" width="1" height="1" fill="#4a8216"/>
<rect x="665" y="114" width="3" height="1" fill="#4a8216"/>
<rect x="663" y="115" width="9" height="1" fill="#4a8216"/>
<rect x="663" y="116" width="2" height="1" fill="#4a8216"/>
<rect x="666" y="116" width="3" height="1" fill="#4a8216"/>
<rect x="665" y="106" width="4" height="9" fill="#ffff00"/>
<rect x="666" y="105" width="2" height="1" fill="#ffff00"/>
<rect x="663" y="105" width="1" height="1" fill="#ffffff"/>
<rect x="670" y="106" width="1" height="1" fill="#ffffff"/>
<rect x="663" y="107" width="1" height="1" fill="#ffffff"/>
<rect x="670" y="108" width="1" height="1" fill="#ffffff"/>
<rect x="663" y="109" width="1" height="1" fill="#ffffff"/>
<rect x="670" y="110" width="1" height="1" fill="#ffffff"/>
<rect x="663" y="111" width="1" height="1" fill="#ffffff"/>
<rect x="670" y="112" width="1" height="1" fill="#ffffff"/>
<rect x="663" y="113" width="1" height="1" fill="#ffffff"/>
<rect x="670" y="114" width="1" height="1" fill="#ffffff"/>
<rect x="663" y="115" width="1" height="1" fill="#ffffff"/>
<rect x="670" y="116" width="1" height="1" fill="#ffffff"/>
<rect x="666" y="104" width="2" height="1" fill="#ffffff"/>
<rect x="666" y="114" width="2" height="2" fill="#ff0000"/>
<rect x="665" y="117" width="5" height="1" fill="#00ff00"/>
<rect x="673" y="105" width="1" height="1" fill="#4a8216"/>
<rect x="676" y="105" width="4" height="1" fill="#4a8216"/>
<rect x="681" y="105" width="1" height="1" fill="#4a8216"/>
<rect x="673" y="106" width="2" height="1" fill="#4a8216"/>
<rect x="679" y="106" width="3" height="1" fill="#4a8216"/>
<rect x="673" y="107" width="1" height="1" fill="#4a8216"/>
<rect x="675" y="107" width="3" height="1" fill="#4a8216"/>
<rect x="681" y="107" width="1" height="1" fill="#4a8216"/>
<rect x="673" y="108" width="3" height="1" fill="#4a8216"/>
<rect x="678" y="108" width="4" height="1" fill="#4a8216"/>
<rect x="673" y="109" width="6" height="1" fill="#4a8216"/>
<rect x="680" y="109" width="2" height="1" fill="#4a8216"/>
<rect x="673" y="110" width="7" height="1" fill="#4a8216"/>
<rect x="681" y="110" width="1" height="1" fill="#4a8216"/>
<rect x="673" y="111" width="1" height="1" fill="#4a8216"/>
<rect x="676" y="111" width="6" height="1" fill="#4a8216"/>
<rect x="673" y="112" width="2" height="1" fill="#4a8216"/>
<rect x="677" y="112" width="2" height="1" fill="#4a8216"/>
<rect x="681" y="112" width="1" height="1" fill="#4a8216"/>
<rect x="673" y="113" width="8" height="1" fill="#4a8216"/>
<rect x="679" y="114" width="3" height="1" fill="#4a8216"/>
<rect x="673" y="115" width="4" height="1" fill="#4a8216"/>
<rect x="681" y="115" width="1" height="1" fill="#4a8216"/>
<rect x="673" y="116" width="2" height="1" fill="#4a8216"/>
<rect x="678" y="116" width="4" height="1" fill="#4a8216"/>
<rect x="675" y="106" width="4" height="9" fill="#ffff00"/>
<rect x="676" y="105" width="2" height="1" fill="#ffff00"/>
<rect x="673" y="105" width="1" height="1" fill="#ffffff"/>
<rect x="680" y="106" width="1" height="1" fill="#ffffff"/>
<rect x="673" y="107" width="1" height="1" fill="#ffffff"/>
<rect x="680" y="108" width="1" height="1" fill="#ffffff"/>
<rect x="673" y="109" width="1" height="1" fill="#ffffff"/>
<rect x="680" y="110" width="1" height="1" fill="#ffffff"/>
<rect x="673" y="111" width="1" height="1" fill="#ffffff"/>
<rect x="680" y="112" width="1" height="1" fill="#ffffff"/>
<rect x="673" y="113" width="1" height="1" fill="#ffffff"/>
<rect x="680" y="114" width="1" height="1" fill="#ffffff"/>
<rect x="673" y="115" width="1" height="1" fill="#ffffff"/>
<rect x="680" y="116" width="1" height="1" fill="#ffffff"/>
<rect x="676" y="104" width="2" height="1" fill="#ffffff"/>
<rect x="676" y="114" width="2" height="2" fill="#ff0000"/>
<rect x="675" y="117" width="5" height="1" fill="#00ff00"/>
<rect x="674" y="116" width="1" height="1" fill="#ffffff"/>
<rect x="676" y="116" width="5" height="1" fill="#ffffff"/>
<rect x="645" y="135" width="8" height="1" fill="#4a8216"/>
<rect x="644" y="136" width="2" height="1" fill="#4a8216"/>
<rect x="647" y="136" width="6" height="1" fill="#4a8216"/>
<rect x="644" y="137" width="3" height="1" fill="#4a8216"/>
<rect x="648" y="137" width="5" height="1" fill="#4a8216"/>
<rect x="644" y="138" width="9" height="1" fill="#4a8216"/>
<rect x="644" y="139" width="1" height="1" fill="#4a8216"/>
<rect x="647" y="139" width="2" height="1" fill="#4a8216"/>
<rect x="652" y="139" width="1" height="1" fill="#4a8216"/>
<rect x="644" y="140" width="9" height="1" fill="#4a8216"/>
<rect x="644" y="141" width="9" height="1" fill="#4a8216"/>
<rect x="644" y="142" width="3" height="1" fill="#4a8216"/>
<rect x="648" y="142" width="1" height="1" fill="#4a8216"/>
<rect x="644" y="143" width="9" height="1" fill="#4a8216"/>
<rect x="644" y="144" width="2" height="1" fill="#4a8216"/>
<rect x="650" y="144" width="1" height="1" fill="#4a8216"/>
<rect x="652" y="144" width="1" height="1" fill="#4a8216"/>
<rect x="644" y="145" width="1" height="1" fill="#4a8216"/>
<rect x="644" y="146" width="2" height="1" fill="#4a8216"/>
<rect x="649" y="146" width="4" height="1" fill="#4a8216"/>
<rect x="646" y="136" width="4" height="9" fill="#b0b0b0"/>
<rect x="647" y="141" width="3" height="3" fill="#ffff00"/>
<rect x="646" y="136" width="3" height="2" fill="#1e90d8"/>
<rect x="646" y="138" width="1" height="6" fill="#ffffff"/>
<rect x="644" y="135" width="1" height="1" fill="#ffffff"/>
<rect x="651" y="136" width="1" height="1" fill="#ffffff"/>
<rect x="644" y="137" width="1" height="1" fill="#ffffff"/>
<rect x="651" y="138" width="1" height="1" fill="#ffffff"/>
<rect x="644" y="139" width="1" height="1" fill="#ffffff"/>
<rect x="651" y="140" width="1" height="1" fill="#ffffff"/>
<rect x="644" y="141" width="1" height="1" fill="#ffffff"/>
<rect x="651" y="142" width="1" height="1" fill="#ffffff"/>
<rect x="644" y="143" width="1" height="1" fill="#ffffff"/>
<rect x="651" y="144" width="1" height="1" fill="#ffffff"/>
<rect x="644" y="145" width="1" height="1" fill="#ffffff"/>
<rect x="651" y="146" width="1" height="1" fill="#ffffff"/>
<rect x="647" y="134" width="2" height="1" fill="#ffffff"/>
<rect x="647" y="144" width="2" height="2" fill="#ff0000"/>
<rect x="646" y="147" width="5" height="1" fill="#00ff00"/>
<rect x="645" y="146" width="1" height="1" fill="#ffffff"/>
<rect x="649" y="146" width="3" height="1" fill="#ffffff"/>
<rect x="654" y="135" width="9" height="1" fill="#4a8216"/>
<rect x="655" y="136" width="5" height="1" fill="#4a8216"/>
<rect x="662" y="136" width="1" height="1" fill="#4a8216"/>
<rect x="654" y="137" width="9" height="1" fill="#4a8216"/>
<rect x="654" y="138" width="8" height="1" fill="#4a8216"/>
<rect x="654" y="139" width="8" height="1" fill="#4a8216"/>
<rect x="654" y="140" width="8" height="1" fill="#4a8216"/>
<rect x="654" y="141" width="1" height="1" fill="#4a8216"/>
<rect x="656" y="141" width="3" height="1" fill="#4a8216"/>
<rect x="661" y="141" width="2" height="1" fill="#4a8216"/>
<rect x="654" y="142" width="9" height="1" fill="#4a8216"/>
<rect x="657" y="143" width="6" height="1" fill="#4a8216"/>
<rect x="654" y="144" width="2" height="1" fill="#4a8216"/>
<rect x="659" y="144" width="4" height="1" fill="#4a8216"/>
<rect x="654" y="145" width="9" height="1" fill="#4a8216"/>
<rect x="654" y="146" width="5" height="1" fill="#4a8216"/>
<rect x="656" y="136" width="4" height="9" fill="#ffff00"/>
<rect x="657" y="135" width="2" height="1" fill="#ffff00"/>
<rect x="654" y="135" width="1" height="1" fill="#ffffff"/>
<rect x="661" y="136" width="1" height="1" fill="#ffffff"/>
<rect x="654" y="137" width="1" height="1" fill="#ffffff"/>
<rect x="661" y="138" width="1" height="1" fill="#ffffff"/>
<rect x="654" y="139" width="1" height="1" fill="#ffffff"/>
<rect x="661" y="140" width="1" height="1" fill="#ffffff"/>
<rect x="654" y="141" width="1" height="1" fill="#ffffff"/>
<rect x="661" y="142" width="1" height="1" fill="#ffffff"/>
<rect x="654" y="143" width="1" height="1" fill="#ffffff"/>
<rect x="661" y="144" width="1" height="1" fill="#ffffff"/>
<rect x="654" y="145" width="1" height="1" fill="#ffffff"/>
<rect x="661" y="146" width="1" height="1" fill="#ffffff"/>
<rect x="657" y="134" width="2" height="1" fill="#ffffff"/>
<rect x="657" y="144" width="2" height="2" fill="#ff0000"/>
<rect x="656" y="147" width="5" height="1" fill="#00ff00"/>
<rect x="655" y="146" width="6" height="1" fill="#ffffff"/>
<rect x="663" y="135" width="4" height="1" fill="#4a8216"/>
<rect x="669" y="135" width="3" height="1" fill="#4a8216"/>
<rect x="663" y="136" width="5" height="1" fill="#4a8216"/>
<rect x="670" y="136" width="2" height="1" fill="#4a8216"/>
<rect x="663" y="137" width="2" height="1" fill="#4a8216"/>
<rect x="666" y="137" width="6" height="1" fill="#4a8216"/>
<rect x="663" y="138" width="5" height="1" fill="#4a8216"/>
<rect x="669" y="138" width="3" height="1" fill="#4a8216"/>
<rect x="663" y="139" width="2" height="1" fill="#4a8216"/>
<rect x="666" y="139" width="3" height="1" fill="#4a8216"/>
<rect x="670" y="139" width="1" height="1" fill="#4a8216"/>
<rect x="663" y="140" width="9" height="1" fill="#4a8216"/>
<rect x="665" y="141" width="1" height="1" fill="#4a8216"/>
<rect x="667" y="141" width="5" height="1" fill="#4a8216"/>
<rect x="663" y="142" width="8" height="1" fill="#4a8216"/>
<rect x="663" y="143" width="2" height="1" fill="#4a8216"/>
<rect x="666" y="143" width="1" height="1" fill="#4a8216"/>
<rect x="668" y="143" width="4" height="1" fill="#4a8216"/>
<rect x="663" y="144" width="2" height="1" fill="#4a8216"/>
<rect x="666" y="144" width="2" height="1" fill="#4a8216"/>
<rect x="669" y="144" width="2" height="1" fill="#4a8216"/>
<rect x="664" y="145" width="8" height="1" fill="#4a8216"/>
<rect x="663" y="146" width="9" height="1" fill="#4a8216"/>
<rect x="665" y="136" width="4" height="9" fill="#ffff00"/>
<rect x="666" y="135" width="2" height="1" fill="#ffff00"/>
<rect x="663" y="135" width="1" height="1" fill="#ffffff"/>
<rect x="670" y="136" width="1" height="1" fill="#ffffff"/>
<rect x="663" y="137" width="1" height="1" fill="#ffffff"/>
<rect x="670" y="138" width="1" height="1" fill="#ffffff"/>
<rect x="663" y="139" width="1" height="1" fill="#ffffff"/>
<rect x="670" y="140" width="1" height="1" fill="#ffffff"/>
<rect x="663" y="141" width="1" height="1" fill="#ffffff"/>
<rect x="670" y="142" width="1" height="1" fill="#ffffff"/>
<rect x="663" y="143" width="1" height="1" fill="#ffffff"/>
<rect x="670" y="144" width="1" height="1" fill="#ffffff"/>
<rect x="663" y="145" width="1" height="1" fill="#ffffff"/>
<rect x="670" y="146" width="1" height="1" fill="#ffffff"/>
<rect x="666" y="134" width="2" height="1" fill="#ffffff"/>
<rect x="666" y="144" width="2" height="2" fill="#ff0000"/>
<rect x="665" y="147" width="5" height="1" fill="#00ff00"/>
<rect x="664" y="146" width="3" height="1" fill="#ffffff"/>
<rect x="673" y="135" width="4" height="1" fill="#4a8216"/>
<rect x="678" y="135" width="2" height="1" fill="#4a8216"/>
<rect x="681" y="135" width="1" height="1" fill="#4a8216"/>
<rect x="673" y="136" width="9" height="1" fill="#4a8216"/>
<rect x="673" y="137" width="9" height="1" fill="#4a8216"/>
<rect x="673" y="138" width="6" height="1" fill="#4a8216"/>
<rect x="680" y="138" width="2" height="1" fill="#4a8216"/>
<rect x="673" y="139" width="6" height="1" fill="#4a8216"/>
<rect x="679" y="140" width="1" height="1" fill="#4a8216"/>
<rect x="673" y="141" width="2" height="1" fill="#4a8216"/>
<rect x="673" y="142" width="5" height="1" fill="#4a8216"/>
<rect x="679" y="142" width="3" height="1" fill="#4a8216"/>
<rect x="673" y="143" width="3" height="1" fill="#4a8216"/>
<rect x="677" y="143" width="3" height="1" fill="#4a8216"/>
<rect x="681" y="143" width="1" height="1" fill="#4a8216"/>
<rect x="673" y="144" width="9" height="1" fill="#4a8216"/>
<rect x="673" y="145" width="2" height="1" fill="#4a8216"/>
<rect x="677" y="145" width="3" height="1" fill="#4a8216"/>
<rect x="681" y="145" width="1" height="1" fill="#4a8216"/>
<rect x="675" y="146" width="1" height="1" fill="#4a8216"/>
<rect x="677" y="146" width="5" height="1" fill="#4a8216"/>
<rect x="675" y="136" width="4" height="9" fill="#ffff00"/>
<rect x="676" y="135" width="2" height="1" fill="#ffff00"/>
<rect x="673" y="135" width="1" height="1" fill="#ffffff"/>
<rect x="680" y="136" width="1" height="1" fill="#ffffff"/>
<rect x="673" y="137" width="1" height="1" fill="#ffffff"/>
<rect x="680" y="138" width="1" height="1" fill="#ffffff"/>
<rect x="673" y="139" width="1" height="1" fill="#ffffff"/>
<rect x="680" y="140" width="1" height="1" fill="#ffffff"/>
<rect x="673" y="141" width="1" height="1" fill="#ffffff"/>
<rect x="680" y="142" width="1" height="1" fill="#ffffff"/>
<rect x="673" y="143" width="1" height="1" fill="#ffffff"/>
<rect x="680" y="144" width="1" height="1" fill="#ffffff"/>
<rect x="673" y="145" width="1" height="1" fill="#ffffff"/>
<rect x="680" y="146" width="1" height="1" fill="#ffffff"/>
<rect x="676" y="134" width="2" height="1" fill="#ffffff"/>
<rect x="676" y="144" width="2" height="2" fill="#ff0000"/>
<rect x="675" y="147" width="5" height="1" fill="#00ff00"/>
<rect x="647" y="123" width="2" height="1" fill="#ffffff"/>
<rect x="650" y="123" width="6" height="1" fill="#ffffff"/>
<rect x="657" y="123" width="1" height="1" fill="#ffffff"/>
<rect x="659" y="123" width="2" height="1" fill="#ffffff"/>
<rect x="644" y="124" width="4" height="1" fill="#ffffff"/>
<rect x="649" y="124" width="7" height="1" fill="#ffffff"/>
<rect x="658" y="124" width="2" height="1" fill="#ffffff"/>
<rect x="644" y="125" width="10" height="1" fill="#ffffff"/>
<rect x="655" y="125" width="1" height="1" fill="#ffffff"/>
<rect x="658" y="125" width="3" height="1" fill="#ffffff"/>
<rect x="659" y="123" width="2" height="3" fill="#ffff00"/>
<rect x="644" y="153" width="4" height="1" fill="#ffffff"/>
<rect x="650" y="153" width="11" height="1" fill="#ffffff"/>
<rect x="644" y="154" width="3" height="1" fill="#ffffff"/>
<rect x="650" y="154" width="1" height="1" fill="#ffffff"/>
<rect x="653" y="154" width="2" height="1" fill="#ffffff"/>
<rect x="660" y="154" width="1" height="1" fill="#ffffff"/>
<rect x="644" y="155" width="8" height="1" fill="#ffffff"/>
<rect x="656" y="155" width="5" height="1" fill="#ffffff"/>
<rect x="644" y="156" width="1" height="1" fill="#ffffff"/>
<rect x="648" y="156" width="8" height="1" fill="#ffffff"/>
<rect x="657" y="156" width="4" height="1" fill="#ffffff"/>
<rect x="659" y="153" width="2" height="4" fill="#ffff00"/>
<circle cx="656.5" cy="173.5" r="6" fill="none" stroke="#4f8a1a" stroke-width="2"/>
<rect x="649" y="173" width="1" height="1" fill="#ffffff"/>
<rect x="663" y="173" width="1" height="1" fill="#ffffff"/>
<rect x="656" y="166" width="1" height="1" fill="#ffffff"/>
<rect x="656" y="180" width="1" height="1" fill="#ffffff"/>
<rect x="651" y="168" width="1" height="1" fill="#ffffff"/>
<rect x="661" y="168" width="1" height="1" fill="#ffffff"/>
<rect x="651" y="178" width="1" height="1" fill="#ffffff"/>
<rect x="661" y="178" width="1" height="1" fill="#ffffff"/>
<rect x="653" y="168" width="7" height="2" fill="#ff00ff"/>
<rect x="654" y="167" width="5" height="1" fill="#ff00ff"/>
<rect x="652" y="170" width="8" height="1" fill="#ffffff"/>
<rect x="652" y="171" width="1" height="1" fill="#ffffff"/>
<rect x="658" y="171" width="2" height="1" fill="#ffffff"/>
<rect x="652" y="172" width="8" height="1" fill="#ffffff"/>
<rect x="652" y="173" width="5" height="1" fill="#ffffff"/>
<rect x="658" y="173" width="1" height="1" fill="#ffffff"/>
<rect x="660" y="173" width="1" height="1" fill="#ffffff"/>
<rect x="652" y="174" width="9" height="1" fill="#ffffff"/>
<rect x="652" y="175" width="6" height="1" fill="#ffffff"/>
<rect x="652" y="176" width="1" height="1" fill="#ffffff"/>
<rect x="657" y="176" width="2" height="1" fill="#ffffff"/>
<rect x="652" y="177" width="9" height="1" fill="#ffffff"/>
<rect x="653" y="171" width="3" height="2" fill="#ffffff"/>
<rect x="654" y="175" width="2" height="2" fill="#1e90d8"/>
<rect x="658" y="174" width="2" height="2" fill="#40c0ff"/>
<rect x="656" y="179" width="3" height="2" fill="#00ff00"/>
<rect x="668" y="163" width="15" height="23" fill="#466e98"/>
<rect x="668" y="163" width="8" height="1" fill="#ffffff"/>
<rect x="668" y="164" width="3" height="1" fill="#ffffff"/>
<rect x="668" y="165" width="3" height="1" fill="#ffffff"/>
<rect x="672" y="165" width="2" height="1" fill="#ffffff"/>
<rect x="675" y="165" width="1" height="1" fill="#ffffff"/>
<rect x="668" y="167" width="8" height="1" fill="#ffffff"/>
<rect x="668" y="168" width="1" height="1" fill="#ffffff"/>
<rect x="668" y="169" width="8" height="1" fill="#ffffff"/>
<rect x="670" y="170" width="6" height="1" fill="#ffffff"/>
<rect x="672" y="171" width="1" height="1" fill="#ffffff"/>
<rect x="671" y="172" width="1" height="1" fill="#ffffff"/>
<rect x="675" y="172" width="1" height="1" fill="#ffffff"/>
<rect x="668" y="173" width="4" height="1" fill="#ffffff"/>
<rect x="668" y="174" width="2" height="1" fill="#ffffff"/>
<rect x="671" y="174" width="5" height="1" fill="#ffffff"/>
<rect x="669" y="175" width="2" height="1" fill="#ffffff"/>
<rect x="668" y="176" width="1" height="1" fill="#ffffff"/>
<rect x="670" y="176" width="6" height="1" fill="#ffffff"/>
<rect x="668" y="177" width="1" height="1" fill="#ffffff"/>
<rect x="673" y="177" width="8" height="1" fill="#ffffff"/>
<rect x="668" y="178" width="1" height="1" fill="#ffffff"/>
<rect x="671" y="178" width="3" height="1" fill="#ffffff"/>
<rect x="678" y="178" width="4" height="1" fill="#ffffff"/>
<rect x="668" y="179" width="4" height="1" fill="#ffffff"/>
<rect x="673" y="179" width="4" height="1" fill="#ffffff"/>
<rect x="669" y="180" width="3" height="1" fill="#ffffff"/>
<rect x="673" y="180" width="2" height="1" fill="#ffffff"/>
<rect x="677" y="180" width="2" height="1" fill="#ffffff"/>
<rect x="681" y="180" width="1" height="1" fill="#ffffff"/>
<rect x="669" y="181" width="4" height="1" fill="#ffffff"/>
<rect x="674" y="181" width="6" height="1" fill="#ffffff"/>
<rect x="668" y="182" width="3" height="1" fill="#ffffff"/>
<rect x="672" y="182" width="8" height="1" fill="#ffffff"/>
<rect x="671" y="183" width="11" height="1" fill="#ffffff"/>
<rect x="668" y="184" width="11" height="1" fill="#ffffff"/>
<rect x="680" y="184" width="2" height="1" fill="#ffffff"/>
<rect x="668" y="185" width="2" height="1" fill="#ffffff"/>
<rect x="671" y="185" width="2" height="1" fill="#ffffff"/>
<rect x="678" y="185" width="4" height="1" fill="#ffffff"/>
<rect x="676" y="164" width="3" height="1" fill="#ffffff"/>
<rect x="676" y="165" width="6" height="1" fill="#ffffff"/>
<rect x="676" y="166" width="1" height="1" fill="#ffffff"/>
<rect x="676" y="168" width="3" height="1" fill="#ffffff"/>
<rect x="680" y="168" width="1" height="1" fill="#ffffff"/>
<rect x="676" y="169" width="6" height="1" fill="#ffffff"/>
<rect x="676" y="171" width="1" height="1" fill="#ffffff"/>
<rect x="679" y="171" width="3" height="1" fill="#ffffff"/>
<rect x="669" y="171" width="3" height="1" fill="#466e98"/>
<rect x="674" y="172" width="1" height="1" fill="#466e98"/>
<rect x="669" y="173" width="6" height="1" fill="#466e98"/>
<rect x="669" y="174" width="4" height="1" fill="#466e98"/>
<rect x="644" y="184" width="9" height="1" fill="#ffffff"/>
<rect x="644" y="185" width="6" height="1" fill="#ffffff"/>
<rect x="652" y="185" width="1" height="1" fill="#ffffff"/>
<rect x="644" y="186" width="3" height="1" fill="#ffffff"/>
<rect x="651" y="186" width="2" height="1" fill="#ffffff"/>
<rect x="646" y="184" width="7" height="1" fill="#ffff00"/>
<rect x="645" y="193" width="38" height="24" fill="#000"/>
<rect x="645" y="199" width="38" height="1" fill="#466e98"/>
<rect x="645" y="200" width="38" height="1" fill="#466e98"/>
<rect x="645" y="207" width="38" height="1" fill="#466e98"/>
<rect x="645" y="208" width="38" height="1" fill="#466e98"/>
<rect x="645" y="215" width="38" height="1" fill="#466e98"/>
<rect x="645" y="216" width="38" height="1" fill="#466e98"/>
<rect x="645" y="193" width="1" height="24" fill="#466e98"/>
<rect x="652" y="193" width="1" height="24" fill="#466e98"/>
<rect x="657" y="193" width="1" height="24" fill="#466e98"/>
<rect x="663" y="193" width="1" height="24" fill="#466e98"/>
<rect x="668" y="193" width="1" height="24" fill="#466e98"/>
<rect x="674" y="193" width="1" height="24" fill="#466e98"/>
<rect x="646" y="194" width="5" height="1" fill="#00ff00"/>
<rect x="649" y="195" width="2" height="1" fill="#00ff00"/>
<rect x="646" y="196" width="5" height="1" fill="#00ff00"/>
<rect x="647" y="197" width="1" height="1" fill="#00ff00"/>
<rect x="647" y="195" width="3" height="3" fill="#1e90d8"/>
<rect x="646" y="196" width="1" height="2" fill="#ffffff"/>
<rect x="648" y="199" width="1" height="1" fill="#ffffff"/>
<rect x="653" y="195" width="5" height="1" fill="#00ff00"/>
<rect x="657" y="196" width="1" height="1" fill="#00ff00"/>
<rect x="653" y="197" width="5" height="1" fill="#00ff00"/>
<rect x="654" y="195" width="3" height="3" fill="#1e90d8"/>
<rect x="653" y="196" width="1" height="2" fill="#ffffff"/>
<rect x="655" y="199" width="1" height="1" fill="#ffffff"/>
<rect x="658" y="194" width="5" height="1" fill="#00ff00"/>
<rect x="659" y="195" width="3" height="3" fill="#1e90d8"/>
<rect x="658" y="196" width="1" height="2" fill="#ffffff"/>
<rect x="660" y="199" width="1" height="1" fill="#ffffff"/>
<rect x="668" y="195" width="1" height="1" fill="#00ff00"/>
<rect x="667" y="196" width="2" height="1" fill="#00ff00"/>
<rect x="664" y="198" width="5" height="1" fill="#00ff00"/>
<rect x="665" y="195" width="3" height="3" fill="#1e90d8"/>
<rect x="664" y="196" width="1" height="2" fill="#ffffff"/>
<rect x="666" y="199" width="1" height="1" fill="#ffffff"/>
<rect x="669" y="195" width="5" height="1" fill="#00ff00"/>
<rect x="669" y="197" width="5" height="1" fill="#00ff00"/>
<rect x="670" y="195" width="3" height="3" fill="#1e90d8"/>
<rect x="669" y="196" width="1" height="2" fill="#ffffff"/>
<rect x="671" y="199" width="1" height="1" fill="#ffffff"/>
<rect x="676" y="195" width="4" height="1" fill="#00ff00"/>
<rect x="675" y="196" width="1" height="1" fill="#00ff00"/>
<rect x="676" y="195" width="3" height="3" fill="#1e90d8"/>
<rect x="675" y="196" width="1" height="2" fill="#ffffff"/>
<rect x="677" y="199" width="1" height="1" fill="#ffffff"/>
<rect x="647" y="202" width="4" height="1" fill="#00ff00"/>
<rect x="647" y="203" width="3" height="3" fill="#1e90d8"/>
<rect x="646" y="204" width="1" height="2" fill="#ffffff"/>
<rect x="648" y="207" width="1" height="1" fill="#ffffff"/>
<rect x="653" y="203" width="5" height="1" fill="#00ff00"/>
<rect x="653" y="204" width="4" height="1" fill="#00ff00"/>
<rect x="654" y="205" width="4" height="1" fill="#00ff00"/>
<rect x="654" y="206" width="4" height="1" fill="#00ff00"/>
<rect x="654" y="203" width="3" height="3" fill="#1e90d8"/>
<rect x="653" y="204" width="1" height="2" fill="#ffffff"/>
<rect x="655" y="207" width="1" height="1" fill="#ffffff"/>
<rect x="658" y="202" width="1" height="1" fill="#00ff00"/>
<rect x="660" y="202" width="3" height="1" fill="#00ff00"/>
<rect x="659" y="206" width="4" height="1" fill="#00ff00"/>
<rect x="659" y="203" width="3" height="3" fill="#1e90d8"/>
<rect x="658" y="204" width="1" height="2" fill="#ffffff"/>
<rect x="660" y="207" width="1" height="1" fill="#ffffff"/>
<rect x="664" y="202" width="14" height="3" fill="#2a9ae0"/>
<rect x="664" y="201" width="2" height="1" fill="#00ff00"/>
<rect x="667" y="202" width="9" height="1" fill="#00ff00"/>
<rect x="674" y="205" width="3" height="1" fill="#ffffff"/>
<rect x="647" y="211" width="5" height="1" fill="#00ff00"/>
<rect x="647" y="212" width="2" height="1" fill="#00ff00"/>
<rect x="647" y="214" width="3" height="1" fill="#00ff00"/>
<rect x="648" y="211" width="3" height="3" fill="#ff0000"/>
<rect x="647" y="212" width="1" height="2" fill="#ffffff"/>
<rect x="649" y="215" width="1" height="1" fill="#ffffff"/>
<rect x="649" y="211" width="2" height="2" fill="#1e90d8"/>
<rect x="654" y="211" width="3" height="3" fill="#1e90d8"/>
<rect x="653" y="212" width="1" height="2" fill="#ffffff"/>
<rect x="655" y="215" width="1" height="1" fill="#ffffff"/>
<rect x="741" y="104" width="13" height="1" fill="#0e84b6"/>
<rect x="741" y="131" width="13" height="1" fill="#0e84b6"/>
<rect x="741" y="104" width="1" height="28" fill="#0e84b6"/>
<rect x="753" y="104" width="1" height="28" fill="#0e84b6"/>
<rect x="733" y="104" width="9" height="1" fill="#a82028"/>
<rect x="741" y="100" width="1" height="5" fill="#a82028"/>
<rect x="742" y="107" width="1" height="1" fill="#ffffff"/>
<rect x="749" y="107" width="1" height="1" fill="#ffffff"/>
<rect x="742" y="109" width="3" height="1" fill="#ffffff"/>
<rect x="742" y="110" width="8" height="1" fill="#ffffff"/>
<rect x="749" y="111" width="1" height="1" fill="#ffffff"/>
<rect x="746" y="113" width="1" height="1" fill="#ffffff"/>
<rect x="742" y="115" width="4" height="1" fill="#ffffff"/>
<rect x="749" y="115" width="1" height="1" fill="#ffffff"/>
<rect x="742" y="116" width="2" height="1" fill="#ffffff"/>
<rect x="745" y="116" width="2" height="1" fill="#ffffff"/>
<rect x="742" y="119" width="8" height="1" fill="#ffffff"/>
<rect x="747" y="121" width="3" height="1" fill="#ffffff"/>
<rect x="742" y="122" width="4" height="1" fill="#ffffff"/>
<rect x="749" y="122" width="1" height="1" fill="#ffffff"/>
<rect x="742" y="123" width="2" height="1" fill="#ffffff"/>
<rect x="748" y="123" width="2" height="1" fill="#ffffff"/>
<rect x="742" y="125" width="8" height="1" fill="#ffffff"/>
<rect x="742" y="126" width="1" height="1" fill="#ffffff"/>
<rect x="747" y="126" width="3" height="1" fill="#ffffff"/>
<rect x="744" y="127" width="3" height="1" fill="#ffffff"/>
<rect x="742" y="128" width="3" height="1" fill="#ffffff"/>
<rect x="746" y="128" width="4" height="1" fill="#ffffff"/>
<rect x="744" y="106" width="1" height="23" fill="#00ff00"/>
<rect x="748" y="106" width="1" height="23" fill="#00ff00"/>
<rect x="750" y="110" width="4" height="1" fill="#00ff00"/>
<rect x="750" y="114" width="4" height="1" fill="#00ff00"/>
<rect x="750" y="115" width="4" height="1" fill="#00ff00"/>
<rect x="752" y="116" width="2" height="1" fill="#00ff00"/>
<rect x="750" y="118" width="4" height="1" fill="#00ff00"/>
<rect x="750" y="119" width="2" height="1" fill="#00ff00"/>
<rect x="750" y="120" width="4" height="1" fill="#00ff00"/>
<rect x="750" y="122" width="4" height="1" fill="#00ff00"/>
<rect x="750" y="115" width="3" height="1" fill="#ffffff"/>
<rect x="750" y="116" width="2" height="1" fill="#ffffff"/>
<rect x="751" y="117" width="2" height="1" fill="#ffffff"/>
<rect x="750" y="119" width="3" height="1" fill="#ffffff"/>
<rect x="742" y="128" width="11" height="3" fill="#00ffff"/>
<rect x="743" y="129" width="6" height="1" fill="#ffffff"/>
</svg>
</body></html>
